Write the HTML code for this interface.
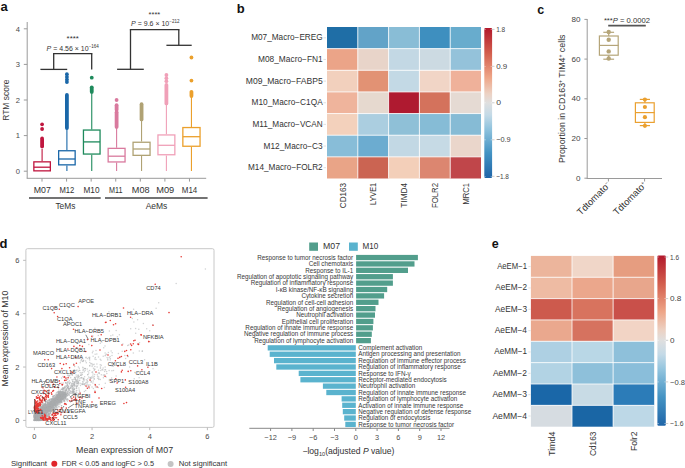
<!DOCTYPE html>
<html><head><meta charset="utf-8"><style>
html,body{margin:0;padding:0;background:#fff;width:685px;height:468px;overflow:hidden}
svg{display:block;font-family:"Liberation Sans", sans-serif}
</style></head><body>
<svg width="685" height="468" viewBox="0 0 685 468">
<text x="0.60" y="10.50" font-size="13" text-anchor="start" fill="#111" font-weight="bold" >a</text>
<text x="236.80" y="13.40" font-size="13" text-anchor="start" fill="#111" font-weight="bold" >b</text>
<text x="537.20" y="14.20" font-size="12.5" text-anchor="start" fill="#111" font-weight="bold" >c</text>
<text x="-0.60" y="247.70" font-size="13" text-anchor="start" fill="#111" font-weight="bold" >d</text>
<text x="491.80" y="248.10" font-size="12.5" text-anchor="start" fill="#111" font-weight="bold" >e</text>
<line x1="27.20" y1="22.00" x2="27.20" y2="178.30" stroke="#9a9a9a" stroke-width="1" />
<line x1="26.70" y1="178.30" x2="206.20" y2="178.30" stroke="#9a9a9a" stroke-width="1" />
<line x1="23.80" y1="171.20" x2="27.20" y2="171.20" stroke="#9a9a9a" stroke-width="1" />
<text x="19.90" y="173.90" font-size="7.6" text-anchor="end" fill="#4a4a4a" font-weight="normal" >0</text>
<line x1="23.80" y1="135.60" x2="27.20" y2="135.60" stroke="#9a9a9a" stroke-width="1" />
<text x="19.90" y="138.30" font-size="7.6" text-anchor="end" fill="#4a4a4a" font-weight="normal" >1</text>
<line x1="23.80" y1="100.00" x2="27.20" y2="100.00" stroke="#9a9a9a" stroke-width="1" />
<text x="19.90" y="102.70" font-size="7.6" text-anchor="end" fill="#4a4a4a" font-weight="normal" >2</text>
<line x1="23.80" y1="64.40" x2="27.20" y2="64.40" stroke="#9a9a9a" stroke-width="1" />
<text x="19.90" y="67.10" font-size="7.6" text-anchor="end" fill="#4a4a4a" font-weight="normal" >3</text>
<line x1="23.80" y1="28.80" x2="27.20" y2="28.80" stroke="#9a9a9a" stroke-width="1" />
<text x="19.90" y="31.50" font-size="7.6" text-anchor="end" fill="#4a4a4a" font-weight="normal" >4</text>
<text transform="translate(8.9,100.2) rotate(-90)" font-size="8.5" text-anchor="middle" fill="#3a3a3a" textLength="41.3" lengthAdjust="spacingAndGlyphs">RTM score</text>
<line x1="42.00" y1="178.30" x2="42.00" y2="181.60" stroke="#9a9a9a" stroke-width="1" />
<text x="42.35" y="193.00" font-size="9.2" text-anchor="middle" fill="#333" font-weight="normal" textLength="17.1" lengthAdjust="spacingAndGlyphs" >M07</text>
<line x1="66.58" y1="178.30" x2="66.58" y2="181.60" stroke="#9a9a9a" stroke-width="1" />
<text x="66.85" y="193.00" font-size="9.2" text-anchor="middle" fill="#333" font-weight="normal" textLength="14.9" lengthAdjust="spacingAndGlyphs" >M12</text>
<line x1="91.16" y1="178.30" x2="91.16" y2="181.60" stroke="#9a9a9a" stroke-width="1" />
<text x="91.50" y="193.00" font-size="9.2" text-anchor="middle" fill="#333" font-weight="normal" textLength="16.0" lengthAdjust="spacingAndGlyphs" >M10</text>
<line x1="115.74" y1="178.30" x2="115.74" y2="181.60" stroke="#9a9a9a" stroke-width="1" />
<text x="115.70" y="193.00" font-size="9.2" text-anchor="middle" fill="#333" font-weight="normal" textLength="13.5" lengthAdjust="spacingAndGlyphs" >M11</text>
<line x1="140.32" y1="178.30" x2="140.32" y2="181.60" stroke="#9a9a9a" stroke-width="1" />
<text x="140.65" y="193.00" font-size="9.2" text-anchor="middle" fill="#333" font-weight="normal" textLength="17.7" lengthAdjust="spacingAndGlyphs" >M08</text>
<line x1="164.90" y1="178.30" x2="164.90" y2="181.60" stroke="#9a9a9a" stroke-width="1" />
<text x="165.20" y="193.00" font-size="9.2" text-anchor="middle" fill="#333" font-weight="normal" textLength="18.0" lengthAdjust="spacingAndGlyphs" >M09</text>
<line x1="189.48" y1="178.30" x2="189.48" y2="181.60" stroke="#9a9a9a" stroke-width="1" />
<text x="189.55" y="193.00" font-size="9.2" text-anchor="middle" fill="#333" font-weight="normal" textLength="15.4" lengthAdjust="spacingAndGlyphs" >M14</text>
<line x1="29.00" y1="198.00" x2="100.70" y2="198.00" stroke="#444" stroke-width="1.6" />
<line x1="105.00" y1="198.00" x2="207.60" y2="198.00" stroke="#444" stroke-width="1.6" />
<text x="65.40" y="209.10" font-size="9.4" text-anchor="middle" fill="#333" font-weight="normal" textLength="20.0" lengthAdjust="spacingAndGlyphs" >TeMs</text>
<text x="156.50" y="209.10" font-size="9.4" text-anchor="middle" fill="#333" font-weight="normal" textLength="21.7" lengthAdjust="spacingAndGlyphs" >AeMs</text>
<line x1="42.10" y1="148.70" x2="42.10" y2="161.20" stroke="#c0163f" stroke-width="1.1" />
<rect x="33.85" y="161.85" width="16.50" height="9.00" fill="#fff" stroke="#c0163f" stroke-width="1.3"/>
<line x1="33.85" y1="167.20" x2="50.35" y2="167.20" stroke="#c0163f" stroke-width="1.3" />
<circle cx="42.10" cy="124.30" r="1.9" fill="#c0163f" />
<circle cx="42.10" cy="129.00" r="1.9" fill="#c0163f" />
<line x1="42.10" y1="138.40" x2="42.10" y2="146.40" stroke="#c0163f" stroke-width="3.8" stroke-linecap="round"/>
<line x1="66.90" y1="128.00" x2="66.90" y2="150.10" stroke="#1a67a8" stroke-width="1.1" />
<line x1="66.90" y1="165.50" x2="66.90" y2="171.00" stroke="#1a67a8" stroke-width="1.1" />
<rect x="58.65" y="150.75" width="16.50" height="14.10" fill="#fff" stroke="#1a67a8" stroke-width="1.3"/>
<line x1="58.65" y1="159.00" x2="75.15" y2="159.00" stroke="#1a67a8" stroke-width="1.3" />
<circle cx="66.90" cy="74.20" r="1.9" fill="#1a67a8" />
<circle cx="66.90" cy="76.90" r="1.9" fill="#1a67a8" />
<circle cx="66.90" cy="79.60" r="1.9" fill="#1a67a8" />
<circle cx="66.90" cy="82.00" r="1.9" fill="#1a67a8" />
<line x1="66.90" y1="95.00" x2="66.90" y2="128.00" stroke="#1a67a8" stroke-width="3.8" stroke-linecap="round"/>
<line x1="91.75" y1="91.90" x2="91.75" y2="129.40" stroke="#1e8a5c" stroke-width="1.1" />
<line x1="91.75" y1="154.70" x2="91.75" y2="171.00" stroke="#1e8a5c" stroke-width="1.1" />
<rect x="83.45" y="130.05" width="16.60" height="24.00" fill="#fff" stroke="#1e8a5c" stroke-width="1.3"/>
<line x1="83.45" y1="141.90" x2="100.05" y2="141.90" stroke="#1e8a5c" stroke-width="1.3" />
<circle cx="91.75" cy="77.70" r="1.9" fill="#1e8a5c" />
<line x1="91.75" y1="87.30" x2="91.75" y2="91.90" stroke="#1e8a5c" stroke-width="3.8" stroke-linecap="round"/>
<line x1="116.60" y1="126.90" x2="116.60" y2="147.70" stroke="#d97a9e" stroke-width="1.1" />
<line x1="116.60" y1="162.60" x2="116.60" y2="171.00" stroke="#d97a9e" stroke-width="1.1" />
<rect x="108.15" y="148.35" width="16.90" height="13.60" fill="#fff" stroke="#d97a9e" stroke-width="1.3"/>
<line x1="108.15" y1="156.20" x2="125.05" y2="156.20" stroke="#d97a9e" stroke-width="1.3" />
<circle cx="116.60" cy="100.00" r="1.9" fill="#d97a9e" />
<line x1="116.60" y1="105.20" x2="116.60" y2="109.80" stroke="#d97a9e" stroke-width="3.8" stroke-linecap="round"/>
<line x1="116.60" y1="112.20" x2="116.60" y2="126.90" stroke="#d97a9e" stroke-width="3.8" stroke-linecap="round"/>
<line x1="141.55" y1="119.40" x2="141.55" y2="141.60" stroke="#b0a274" stroke-width="1.1" />
<line x1="141.55" y1="156.00" x2="141.55" y2="171.00" stroke="#b0a274" stroke-width="1.1" />
<rect x="133.05" y="142.25" width="17.00" height="13.10" fill="#fff" stroke="#b0a274" stroke-width="1.3"/>
<line x1="133.05" y1="149.00" x2="150.05" y2="149.00" stroke="#b0a274" stroke-width="1.3" />
<line x1="141.55" y1="104.20" x2="141.55" y2="119.40" stroke="#b0a274" stroke-width="3.8" stroke-linecap="round"/>
<line x1="166.40" y1="103.40" x2="166.40" y2="134.30" stroke="#f0a0b8" stroke-width="1.1" />
<line x1="166.40" y1="155.40" x2="166.40" y2="171.00" stroke="#f0a0b8" stroke-width="1.1" />
<rect x="157.95" y="134.95" width="16.90" height="19.80" fill="#fff" stroke="#f0a0b8" stroke-width="1.3"/>
<line x1="157.95" y1="145.30" x2="174.85" y2="145.30" stroke="#f0a0b8" stroke-width="1.3" />
<circle cx="166.40" cy="75.00" r="1.9" fill="#f0a0b8" />
<circle cx="166.40" cy="78.20" r="1.9" fill="#f0a0b8" />
<circle cx="166.40" cy="81.20" r="1.9" fill="#f0a0b8" />
<line x1="166.40" y1="85.00" x2="166.40" y2="103.40" stroke="#f0a0b8" stroke-width="3.8" stroke-linecap="round"/>
<line x1="191.45" y1="96.00" x2="191.45" y2="126.90" stroke="#eba02c" stroke-width="1.1" />
<line x1="191.45" y1="146.90" x2="191.45" y2="171.00" stroke="#eba02c" stroke-width="1.1" />
<rect x="182.85" y="127.55" width="17.20" height="18.70" fill="#fff" stroke="#eba02c" stroke-width="1.3"/>
<line x1="182.85" y1="136.70" x2="200.05" y2="136.70" stroke="#eba02c" stroke-width="1.3" />
<circle cx="191.45" cy="57.50" r="1.9" fill="#eba02c" />
<circle cx="191.45" cy="80.60" r="1.9" fill="#eba02c" />
<line x1="191.45" y1="91.80" x2="191.45" y2="96.00" stroke="#eba02c" stroke-width="3.8" stroke-linecap="round"/>
<line x1="40.40" y1="69.40" x2="67.20" y2="69.40" stroke="#333" stroke-width="1.3" />
<line x1="53.70" y1="53.60" x2="53.70" y2="69.40" stroke="#333" stroke-width="1.3" />
<line x1="91.70" y1="53.60" x2="91.70" y2="69.40" stroke="#333" stroke-width="1.3" />
<line x1="53.05" y1="53.60" x2="92.35" y2="53.60" stroke="#333" stroke-width="1.3" />
<text x="72.70" y="41.40" font-size="7.6" text-anchor="middle" fill="#333" font-weight="normal" textLength="12.2" lengthAdjust="spacingAndGlyphs" >****</text>
<text x="46.6" y="50.5" font-size="7" fill="#333"><tspan font-style="italic">P</tspan> = 4.56 × 10<tspan font-size="4.5" dy="-3">−164</tspan></text>
<line x1="117.10" y1="69.30" x2="143.80" y2="69.30" stroke="#333" stroke-width="1.3" />
<line x1="130.50" y1="29.60" x2="130.50" y2="69.30" stroke="#333" stroke-width="1.3" />
<line x1="178.80" y1="29.60" x2="178.80" y2="45.30" stroke="#333" stroke-width="1.3" />
<line x1="129.85" y1="29.60" x2="179.45" y2="29.60" stroke="#333" stroke-width="1.3" />
<line x1="166.40" y1="45.30" x2="191.70" y2="45.30" stroke="#333" stroke-width="1.3" />
<text x="154.40" y="16.90" font-size="7.6" text-anchor="middle" fill="#333" font-weight="normal" textLength="11.6" lengthAdjust="spacingAndGlyphs" >****</text>
<text x="131.1" y="25.7" font-size="7" fill="#333"><tspan font-style="italic">P</tspan> = 9.6 × 10<tspan font-size="4.5" dy="-3">−212</tspan></text>
<rect x="327.00" y="27.00" width="30.80" height="21.64" fill="#1f6ea6" />
<rect x="357.80" y="27.00" width="30.80" height="21.64" fill="#62a3c8" />
<rect x="388.60" y="27.00" width="30.80" height="21.64" fill="#89bdd6" />
<rect x="419.40" y="27.00" width="30.80" height="21.64" fill="#3e8fbf" />
<rect x="450.20" y="27.00" width="30.80" height="21.64" fill="#68accd" />
<rect x="327.00" y="48.64" width="30.80" height="21.64" fill="#eba488" />
<rect x="357.80" y="48.64" width="30.80" height="21.64" fill="#e8d4c9" />
<rect x="388.60" y="48.64" width="30.80" height="21.64" fill="#c3d8e4" />
<rect x="419.40" y="48.64" width="30.80" height="21.64" fill="#ccdae2" />
<rect x="450.20" y="48.64" width="30.80" height="21.64" fill="#94c2da" />
<rect x="327.00" y="70.29" width="30.80" height="21.64" fill="#f2d0bd" />
<rect x="357.80" y="70.29" width="30.80" height="21.64" fill="#e29274" />
<rect x="388.60" y="70.29" width="30.80" height="21.64" fill="#c3d9e5" />
<rect x="419.40" y="70.29" width="30.80" height="21.64" fill="#f1d5c6" />
<rect x="450.20" y="70.29" width="30.80" height="21.64" fill="#efb19a" />
<rect x="327.00" y="91.93" width="30.80" height="21.64" fill="#efb49c" />
<rect x="357.80" y="91.93" width="30.80" height="21.64" fill="#e6d9cf" />
<rect x="388.60" y="91.93" width="30.80" height="21.64" fill="#af1a30" />
<rect x="419.40" y="91.93" width="30.80" height="21.64" fill="#d4725c" />
<rect x="450.20" y="91.93" width="30.80" height="21.64" fill="#e5dad3" />
<rect x="327.00" y="113.57" width="30.80" height="21.64" fill="#f3d1bc" />
<rect x="357.80" y="113.57" width="30.80" height="21.64" fill="#abcee0" />
<rect x="388.60" y="113.57" width="30.80" height="21.64" fill="#8fc0d7" />
<rect x="419.40" y="113.57" width="30.80" height="21.64" fill="#86bcd6" />
<rect x="450.20" y="113.57" width="30.80" height="21.64" fill="#86bbd5" />
<rect x="327.00" y="135.21" width="30.80" height="21.64" fill="#88bdd8" />
<rect x="357.80" y="135.21" width="30.80" height="21.64" fill="#6cacd0" />
<rect x="388.60" y="135.21" width="30.80" height="21.64" fill="#c2d8e4" />
<rect x="419.40" y="135.21" width="30.80" height="21.64" fill="#c6dae5" />
<rect x="450.20" y="135.21" width="30.80" height="21.64" fill="#ead6cb" />
<rect x="327.00" y="156.86" width="30.80" height="21.64" fill="#e9a487" />
<rect x="357.80" y="156.86" width="30.80" height="21.64" fill="#cb6452" />
<rect x="388.60" y="156.86" width="30.80" height="21.64" fill="#f3cfb9" />
<rect x="419.40" y="156.86" width="30.80" height="21.64" fill="#dc8670" />
<rect x="450.20" y="156.86" width="30.80" height="21.64" fill="#c0464a" />
<line x1="357.80" y1="27.00" x2="357.80" y2="178.50" stroke="#fff" stroke-width="0.8" />
<line x1="388.60" y1="27.00" x2="388.60" y2="178.50" stroke="#fff" stroke-width="0.8" />
<line x1="419.40" y1="27.00" x2="419.40" y2="178.50" stroke="#fff" stroke-width="0.8" />
<line x1="450.20" y1="27.00" x2="450.20" y2="178.50" stroke="#fff" stroke-width="0.8" />
<line x1="327.00" y1="48.64" x2="481.00" y2="48.64" stroke="#fff" stroke-width="0.8" />
<line x1="327.00" y1="70.29" x2="481.00" y2="70.29" stroke="#fff" stroke-width="0.8" />
<line x1="327.00" y1="91.93" x2="481.00" y2="91.93" stroke="#fff" stroke-width="0.8" />
<line x1="327.00" y1="113.57" x2="481.00" y2="113.57" stroke="#fff" stroke-width="0.8" />
<line x1="327.00" y1="135.21" x2="481.00" y2="135.21" stroke="#fff" stroke-width="0.8" />
<line x1="327.00" y1="156.86" x2="481.00" y2="156.86" stroke="#fff" stroke-width="0.8" />
<text x="322.70" y="40.32" font-size="8.3" text-anchor="end" fill="#333" font-weight="normal" textLength="71.5" lengthAdjust="spacingAndGlyphs" >M07_Macro−EREG</text>
<line x1="323.50" y1="37.82" x2="326.00" y2="37.82" stroke="#ccc" stroke-width="0.6" />
<text x="322.70" y="61.96" font-size="8.3" text-anchor="end" fill="#333" font-weight="normal" textLength="64.7" lengthAdjust="spacingAndGlyphs" >M08_Macro−FN1</text>
<line x1="323.50" y1="59.46" x2="326.00" y2="59.46" stroke="#ccc" stroke-width="0.6" />
<text x="322.70" y="83.61" font-size="8.3" text-anchor="end" fill="#333" font-weight="normal" textLength="76.9" lengthAdjust="spacingAndGlyphs" >M09_Macro−FABP5</text>
<line x1="323.50" y1="81.11" x2="326.00" y2="81.11" stroke="#ccc" stroke-width="0.6" />
<text x="322.70" y="105.25" font-size="8.3" text-anchor="end" fill="#333" font-weight="normal" textLength="71.2" lengthAdjust="spacingAndGlyphs" >M10_Macro−C1QA</text>
<line x1="323.50" y1="102.75" x2="326.00" y2="102.75" stroke="#ccc" stroke-width="0.6" />
<text x="322.70" y="126.89" font-size="8.3" text-anchor="end" fill="#333" font-weight="normal" textLength="70.3" lengthAdjust="spacingAndGlyphs" >M11_Macro−VCAN</text>
<line x1="323.50" y1="124.39" x2="326.00" y2="124.39" stroke="#ccc" stroke-width="0.6" />
<text x="322.70" y="148.54" font-size="8.3" text-anchor="end" fill="#333" font-weight="normal" textLength="59.1" lengthAdjust="spacingAndGlyphs" >M12_Macro−C3</text>
<line x1="323.50" y1="146.04" x2="326.00" y2="146.04" stroke="#ccc" stroke-width="0.6" />
<text x="322.70" y="170.18" font-size="8.3" text-anchor="end" fill="#333" font-weight="normal" textLength="74.7" lengthAdjust="spacingAndGlyphs" >M14_Macro−FOLR2</text>
<line x1="323.50" y1="167.68" x2="326.00" y2="167.68" stroke="#ccc" stroke-width="0.6" />
<text transform="translate(345.60,182.9) rotate(-90)" font-size="9.4" text-anchor="end" fill="#333" textLength="25.3" lengthAdjust="spacingAndGlyphs">CD163</text>
<text transform="translate(376.40,182.9) rotate(-90)" font-size="9.4" text-anchor="end" fill="#333" textLength="22.2" lengthAdjust="spacingAndGlyphs">LYVE1</text>
<text transform="translate(407.20,182.9) rotate(-90)" font-size="9.4" text-anchor="end" fill="#333" textLength="24.8" lengthAdjust="spacingAndGlyphs">TIMD4</text>
<text transform="translate(438.00,182.9) rotate(-90)" font-size="9.4" text-anchor="end" fill="#333" textLength="25.2" lengthAdjust="spacingAndGlyphs">FOLR2</text>
<text transform="translate(468.80,182.9) rotate(-90)" font-size="9.4" text-anchor="end" fill="#333" textLength="21.6" lengthAdjust="spacingAndGlyphs">MRC1</text>
<defs>
<linearGradient id="rdbu" x1="0" y1="0" x2="0" y2="1">
<stop offset="0" stop-color="#b2182b"/>
<stop offset="0.17" stop-color="#d35f4e"/>
<stop offset="0.33" stop-color="#eea587"/>
<stop offset="0.44" stop-color="#ecd2c4"/>
<stop offset="0.5" stop-color="#dfdfdf"/>
<stop offset="0.58" stop-color="#c4dae7"/>
<stop offset="0.67" stop-color="#92c4de"/>
<stop offset="0.83" stop-color="#4594c4"/>
<stop offset="1" stop-color="#1f65a8"/>
</linearGradient>
</defs>
<rect x="484.3" y="27.9" width="7.8" height="150.0" rx="1.2" fill="url(#rdbu)"/>
<line x1="492.10" y1="29.40" x2="494.50" y2="29.40" stroke="#aaa" stroke-width="0.6" />
<line x1="484.30" y1="29.40" x2="485.80" y2="29.40" stroke="#fff" stroke-width="0.6" opacity="0.7"/>
<line x1="490.60" y1="29.40" x2="492.10" y2="29.40" stroke="#fff" stroke-width="0.6" opacity="0.7"/>
<text x="496.20" y="32.00" font-size="7.4" text-anchor="start" fill="#444" font-weight="normal" textLength="9.0" lengthAdjust="spacingAndGlyphs" >1.8</text>
<line x1="492.10" y1="66.30" x2="494.50" y2="66.30" stroke="#aaa" stroke-width="0.6" />
<line x1="484.30" y1="66.30" x2="485.80" y2="66.30" stroke="#fff" stroke-width="0.6" opacity="0.7"/>
<line x1="490.60" y1="66.30" x2="492.10" y2="66.30" stroke="#fff" stroke-width="0.6" opacity="0.7"/>
<text x="496.20" y="68.90" font-size="7.4" text-anchor="start" fill="#444" font-weight="normal" textLength="11.1" lengthAdjust="spacingAndGlyphs" >0.9</text>
<line x1="492.10" y1="102.80" x2="494.50" y2="102.80" stroke="#aaa" stroke-width="0.6" />
<line x1="484.30" y1="102.80" x2="485.80" y2="102.80" stroke="#fff" stroke-width="0.6" opacity="0.7"/>
<line x1="490.60" y1="102.80" x2="492.10" y2="102.80" stroke="#fff" stroke-width="0.6" opacity="0.7"/>
<text x="496.20" y="105.40" font-size="7.4" text-anchor="start" fill="#444" font-weight="normal" textLength="4.8" lengthAdjust="spacingAndGlyphs" >0</text>
<line x1="492.10" y1="139.80" x2="494.50" y2="139.80" stroke="#aaa" stroke-width="0.6" />
<line x1="484.30" y1="139.80" x2="485.80" y2="139.80" stroke="#fff" stroke-width="0.6" opacity="0.7"/>
<line x1="490.60" y1="139.80" x2="492.10" y2="139.80" stroke="#fff" stroke-width="0.6" opacity="0.7"/>
<text x="496.20" y="142.40" font-size="7.4" text-anchor="start" fill="#444" font-weight="normal" textLength="14.5" lengthAdjust="spacingAndGlyphs" >−0.9</text>
<line x1="492.10" y1="176.30" x2="494.50" y2="176.30" stroke="#aaa" stroke-width="0.6" />
<line x1="484.30" y1="176.30" x2="485.80" y2="176.30" stroke="#fff" stroke-width="0.6" opacity="0.7"/>
<line x1="490.60" y1="176.30" x2="492.10" y2="176.30" stroke="#fff" stroke-width="0.6" opacity="0.7"/>
<text x="496.20" y="178.90" font-size="7.4" text-anchor="start" fill="#444" font-weight="normal" textLength="12.7" lengthAdjust="spacingAndGlyphs" >−1.8</text>
<line x1="587.20" y1="19.00" x2="587.20" y2="178.50" stroke="#9a9a9a" stroke-width="1" />
<line x1="586.70" y1="178.50" x2="662.00" y2="178.50" stroke="#9a9a9a" stroke-width="1" />
<line x1="584.40" y1="178.20" x2="587.20" y2="178.20" stroke="#9a9a9a" stroke-width="1" />
<text x="580.40" y="180.70" font-size="7.0" text-anchor="end" fill="#444" font-weight="normal" textLength="4.5" lengthAdjust="spacingAndGlyphs" >0</text>
<line x1="584.40" y1="138.50" x2="587.20" y2="138.50" stroke="#9a9a9a" stroke-width="1" />
<text x="580.40" y="141.00" font-size="7.0" text-anchor="end" fill="#444" font-weight="normal" textLength="9.0" lengthAdjust="spacingAndGlyphs" >20</text>
<line x1="584.40" y1="98.80" x2="587.20" y2="98.80" stroke="#9a9a9a" stroke-width="1" />
<text x="580.40" y="101.30" font-size="7.0" text-anchor="end" fill="#444" font-weight="normal" textLength="9.0" lengthAdjust="spacingAndGlyphs" >40</text>
<line x1="584.40" y1="59.10" x2="587.20" y2="59.10" stroke="#9a9a9a" stroke-width="1" />
<text x="580.40" y="61.60" font-size="7.0" text-anchor="end" fill="#444" font-weight="normal" textLength="9.0" lengthAdjust="spacingAndGlyphs" >60</text>
<line x1="584.40" y1="19.40" x2="587.20" y2="19.40" stroke="#9a9a9a" stroke-width="1" />
<text x="580.40" y="21.90" font-size="7.0" text-anchor="end" fill="#444" font-weight="normal" textLength="9.0" lengthAdjust="spacingAndGlyphs" >80</text>
<line x1="608.40" y1="178.50" x2="608.40" y2="181.50" stroke="#9a9a9a" stroke-width="1" />
<line x1="644.60" y1="178.50" x2="644.60" y2="181.50" stroke="#9a9a9a" stroke-width="1" />
<text transform="translate(565.2,98.7) rotate(-90)" font-size="8.4" text-anchor="middle" fill="#333" textLength="128.5" lengthAdjust="spacingAndGlyphs">Proportion in CD163<tspan font-size="4.8" dy="-2.8">+</tspan><tspan dy="2.8"> TIM4</tspan><tspan font-size="4.8" dy="-2.8">+</tspan><tspan dy="2.8"> cells</tspan></text>
<text transform="translate(611.0,185.6) rotate(-45)" font-size="9.4" text-anchor="end" fill="#333">Tdtomato<tspan font-size="5.2" dy="-3.2">−</tspan></text>
<text transform="translate(647.2,185.6) rotate(-45)" font-size="9.4" text-anchor="end" fill="#333">Tdtomato<tspan font-size="5.2" dy="-3.2">+</tspan></text>
<rect x="599.4" y="36.0" width="18.8" height="19.2" fill="none" stroke="#b5a579" stroke-width="1.2"/>
<line x1="599.00" y1="45.40" x2="618.60" y2="45.40" stroke="#b5a579" stroke-width="1.2" />
<line x1="608.70" y1="32.30" x2="608.70" y2="36.00" stroke="#b5a579" stroke-width="1.2" />
<line x1="608.70" y1="55.20" x2="608.70" y2="59.20" stroke="#b5a579" stroke-width="1.2" />
<line x1="603.30" y1="32.30" x2="614.10" y2="32.30" stroke="#b5a579" stroke-width="1.2" />
<line x1="603.30" y1="59.20" x2="614.10" y2="59.20" stroke="#b5a579" stroke-width="1.2" />
<circle cx="608.70" cy="32.00" r="2.2" fill="#b5a579" />
<circle cx="608.70" cy="39.70" r="2.2" fill="#b5a579" />
<circle cx="608.70" cy="51.40" r="2.2" fill="#b5a579" />
<circle cx="608.70" cy="58.50" r="2.2" fill="#b5a579" />
<rect x="635.4" y="102.8" width="18.8" height="19.6" fill="none" stroke="#eaa030" stroke-width="1.2"/>
<line x1="635.00" y1="112.60" x2="654.60" y2="112.60" stroke="#eaa030" stroke-width="1.2" />
<line x1="644.90" y1="99.40" x2="644.90" y2="102.80" stroke="#eaa030" stroke-width="1.2" />
<line x1="644.90" y1="122.40" x2="644.90" y2="125.60" stroke="#eaa030" stroke-width="1.2" />
<line x1="639.80" y1="99.40" x2="650.00" y2="99.40" stroke="#eaa030" stroke-width="1.2" />
<line x1="639.80" y1="125.60" x2="650.00" y2="125.60" stroke="#eaa030" stroke-width="1.2" />
<circle cx="644.90" cy="99.60" r="2.1" fill="#eaa030" />
<circle cx="644.90" cy="107.00" r="2.1" fill="#eaa030" />
<circle cx="644.90" cy="117.20" r="2.1" fill="#eaa030" />
<circle cx="644.90" cy="125.80" r="2.1" fill="#eaa030" />
<line x1="608.20" y1="25.60" x2="645.80" y2="25.60" stroke="#555" stroke-width="1.8" />
<text x="603.9" y="22.8" font-size="7.4" fill="#333" textLength="46" lengthAdjust="spacingAndGlyphs">***<tspan font-style="italic">P</tspan> = 0.0002</text>
<rect x="25.9" y="248.7" width="188.1" height="178.7" fill="none" stroke="#c8c8c8" stroke-width="1" rx="1.5"/>
<line x1="34.40" y1="427.40" x2="34.40" y2="430.20" stroke="#bbb" stroke-width="1" />
<text x="34.40" y="439.20" font-size="7.5" text-anchor="middle" fill="#4a4a4a" font-weight="normal" >0</text>
<line x1="23.10" y1="420.40" x2="25.90" y2="420.40" stroke="#bbb" stroke-width="1" />
<text x="19.30" y="423.10" font-size="7.5" text-anchor="end" fill="#4a4a4a" font-weight="normal" >0</text>
<line x1="92.06" y1="427.40" x2="92.06" y2="430.20" stroke="#bbb" stroke-width="1" />
<text x="92.06" y="439.20" font-size="7.5" text-anchor="middle" fill="#4a4a4a" font-weight="normal" >2</text>
<line x1="23.10" y1="367.04" x2="25.90" y2="367.04" stroke="#bbb" stroke-width="1" />
<text x="19.30" y="369.74" font-size="7.5" text-anchor="end" fill="#4a4a4a" font-weight="normal" >2</text>
<line x1="149.72" y1="427.40" x2="149.72" y2="430.20" stroke="#bbb" stroke-width="1" />
<text x="149.72" y="439.20" font-size="7.5" text-anchor="middle" fill="#4a4a4a" font-weight="normal" >4</text>
<line x1="23.10" y1="313.68" x2="25.90" y2="313.68" stroke="#bbb" stroke-width="1" />
<text x="19.30" y="316.38" font-size="7.5" text-anchor="end" fill="#4a4a4a" font-weight="normal" >4</text>
<line x1="207.38" y1="427.40" x2="207.38" y2="430.20" stroke="#bbb" stroke-width="1" />
<text x="207.38" y="439.20" font-size="7.5" text-anchor="middle" fill="#4a4a4a" font-weight="normal" >6</text>
<line x1="23.10" y1="260.32" x2="25.90" y2="260.32" stroke="#bbb" stroke-width="1" />
<text x="19.30" y="263.02" font-size="7.5" text-anchor="end" fill="#4a4a4a" font-weight="normal" >6</text>
<text transform="translate(8.1,338.6) rotate(-90)" font-size="8.6" text-anchor="middle" fill="#333" textLength="95.7" lengthAdjust="spacingAndGlyphs">Mean expression of M10</text>
<text x="124.60" y="452.70" font-size="8.6" text-anchor="middle" fill="#333" font-weight="normal" textLength="97" lengthAdjust="spacingAndGlyphs" >Mean expression of M07</text>
<text x="10.90" y="466.00" font-size="7.7" text-anchor="start" fill="#333" font-weight="normal" textLength="36.1" lengthAdjust="spacingAndGlyphs" >Significant</text>
<circle cx="54.30" cy="463.70" r="3.0" fill="#e0252b" />
<text x="61.70" y="466.00" font-size="7.7" text-anchor="start" fill="#333" font-weight="normal" textLength="92.3" lengthAdjust="spacingAndGlyphs" >FDR &lt; 0.05 and logFC &gt; 0.5</text>
<circle cx="170.60" cy="464.10" r="3.0" fill="#c4c4c4" />
<text x="178.70" y="466.00" font-size="7.7" text-anchor="start" fill="#333" font-weight="normal" textLength="48.4" lengthAdjust="spacingAndGlyphs" >Not significant</text>
<g fill="#acadae" fill-opacity="0.55"><circle cx="37.4" cy="417.9" r="0.75"/><circle cx="40.5" cy="409.1" r="0.75"/><circle cx="44.0" cy="409.4" r="0.75"/><circle cx="57.3" cy="398.3" r="0.75"/><circle cx="62.9" cy="397.9" r="0.75"/><circle cx="58.5" cy="397.3" r="0.75"/><circle cx="40.3" cy="417.9" r="0.75"/><circle cx="49.8" cy="408.6" r="0.75"/><circle cx="34.5" cy="416.5" r="0.75"/><circle cx="47.2" cy="410.8" r="0.75"/><circle cx="38.1" cy="414.0" r="0.75"/><circle cx="53.0" cy="411.4" r="0.75"/><circle cx="39.2" cy="412.8" r="0.75"/><circle cx="55.1" cy="399.6" r="0.75"/><circle cx="50.4" cy="405.2" r="0.75"/><circle cx="67.3" cy="393.4" r="0.75"/><circle cx="40.1" cy="408.8" r="0.75"/><circle cx="49.9" cy="401.0" r="0.75"/><circle cx="62.0" cy="394.5" r="0.75"/><circle cx="50.2" cy="401.9" r="0.75"/><circle cx="34.7" cy="412.5" r="0.75"/><circle cx="45.2" cy="418.0" r="0.75"/><circle cx="49.1" cy="415.3" r="0.75"/><circle cx="107.8" cy="360.0" r="0.75"/><circle cx="58.6" cy="397.2" r="0.75"/><circle cx="40.1" cy="413.9" r="0.75"/><circle cx="37.2" cy="411.9" r="0.75"/><circle cx="45.2" cy="404.3" r="0.75"/><circle cx="50.5" cy="406.2" r="0.75"/><circle cx="83.4" cy="360.8" r="0.75"/><circle cx="42.0" cy="407.9" r="0.75"/><circle cx="35.6" cy="417.5" r="0.75"/><circle cx="34.5" cy="417.0" r="0.75"/><circle cx="38.1" cy="407.0" r="0.75"/><circle cx="38.2" cy="416.2" r="0.75"/><circle cx="35.3" cy="414.7" r="0.75"/><circle cx="45.6" cy="408.1" r="0.75"/><circle cx="38.6" cy="414.3" r="0.75"/><circle cx="62.9" cy="396.9" r="0.75"/><circle cx="42.1" cy="419.3" r="0.75"/><circle cx="87.9" cy="374.6" r="0.75"/><circle cx="58.2" cy="404.5" r="0.75"/><circle cx="34.6" cy="415.0" r="0.75"/><circle cx="89.8" cy="362.4" r="0.75"/><circle cx="47.9" cy="408.5" r="0.75"/><circle cx="42.4" cy="413.1" r="0.75"/><circle cx="61.6" cy="378.1" r="0.75"/><circle cx="69.8" cy="388.5" r="0.75"/><circle cx="40.8" cy="420.2" r="0.75"/><circle cx="76.1" cy="390.9" r="0.75"/><circle cx="48.0" cy="402.4" r="0.75"/><circle cx="72.9" cy="381.4" r="0.75"/><circle cx="54.8" cy="398.9" r="0.75"/><circle cx="61.3" cy="396.7" r="0.75"/><circle cx="34.8" cy="413.7" r="0.75"/><circle cx="55.0" cy="397.4" r="0.75"/><circle cx="48.2" cy="407.1" r="0.75"/><circle cx="94.9" cy="390.5" r="0.75"/><circle cx="58.0" cy="398.3" r="0.75"/><circle cx="42.1" cy="412.5" r="0.75"/><circle cx="42.6" cy="405.9" r="0.75"/><circle cx="48.6" cy="415.2" r="0.75"/><circle cx="62.7" cy="398.8" r="0.75"/><circle cx="36.6" cy="420.4" r="0.75"/><circle cx="56.9" cy="398.6" r="0.75"/><circle cx="51.0" cy="407.5" r="0.75"/><circle cx="55.3" cy="398.4" r="0.75"/><circle cx="38.5" cy="414.9" r="0.75"/><circle cx="53.0" cy="400.5" r="0.75"/><circle cx="50.2" cy="412.2" r="0.75"/><circle cx="53.3" cy="412.8" r="0.75"/><circle cx="57.9" cy="397.2" r="0.75"/><circle cx="60.7" cy="396.0" r="0.75"/><circle cx="43.8" cy="408.4" r="0.75"/><circle cx="48.9" cy="405.2" r="0.75"/><circle cx="53.8" cy="403.8" r="0.75"/><circle cx="133.9" cy="322.1" r="0.75"/><circle cx="42.0" cy="405.0" r="0.75"/><circle cx="46.7" cy="412.8" r="0.75"/><circle cx="41.3" cy="413.6" r="0.75"/><circle cx="43.0" cy="408.2" r="0.75"/><circle cx="42.6" cy="401.5" r="0.75"/><circle cx="132.3" cy="318.6" r="0.75"/><circle cx="56.6" cy="400.7" r="0.75"/><circle cx="59.3" cy="397.2" r="0.75"/><circle cx="62.3" cy="399.6" r="0.75"/><circle cx="35.3" cy="420.4" r="0.75"/><circle cx="62.0" cy="399.4" r="0.75"/><circle cx="56.7" cy="395.1" r="0.75"/><circle cx="46.5" cy="419.0" r="0.75"/><circle cx="38.6" cy="419.6" r="0.75"/><circle cx="35.9" cy="414.8" r="0.75"/><circle cx="40.0" cy="414.3" r="0.75"/><circle cx="38.3" cy="416.6" r="0.75"/><circle cx="34.5" cy="420.3" r="0.75"/><circle cx="44.8" cy="408.6" r="0.75"/><circle cx="78.5" cy="393.8" r="0.75"/><circle cx="46.3" cy="413.4" r="0.75"/><circle cx="56.8" cy="401.3" r="0.75"/><circle cx="41.2" cy="411.2" r="0.75"/><circle cx="55.3" cy="401.6" r="0.75"/><circle cx="55.2" cy="398.5" r="0.75"/><circle cx="41.4" cy="414.9" r="0.75"/><circle cx="48.5" cy="408.4" r="0.75"/><circle cx="79.8" cy="380.2" r="0.75"/><circle cx="40.1" cy="410.0" r="0.75"/><circle cx="47.4" cy="406.9" r="0.75"/><circle cx="38.4" cy="411.9" r="0.75"/><circle cx="36.2" cy="419.2" r="0.75"/><circle cx="46.0" cy="409.3" r="0.75"/><circle cx="61.1" cy="398.5" r="0.75"/><circle cx="61.4" cy="397.0" r="0.75"/><circle cx="55.1" cy="398.4" r="0.75"/><circle cx="56.9" cy="397.9" r="0.75"/><circle cx="54.8" cy="399.9" r="0.75"/><circle cx="59.2" cy="399.8" r="0.75"/><circle cx="34.5" cy="416.5" r="0.75"/><circle cx="59.4" cy="401.9" r="0.75"/><circle cx="52.7" cy="404.0" r="0.75"/><circle cx="98.9" cy="379.6" r="0.75"/><circle cx="34.7" cy="419.4" r="0.75"/><circle cx="39.5" cy="415.4" r="0.75"/><circle cx="64.8" cy="396.9" r="0.75"/><circle cx="50.8" cy="404.7" r="0.75"/><circle cx="35.0" cy="416.4" r="0.75"/><circle cx="41.3" cy="414.1" r="0.75"/><circle cx="40.4" cy="417.6" r="0.75"/><circle cx="43.4" cy="417.0" r="0.75"/><circle cx="34.5" cy="416.5" r="0.75"/><circle cx="109.4" cy="331.0" r="0.75"/><circle cx="149.7" cy="341.7" r="0.75"/><circle cx="62.7" cy="394.3" r="0.75"/><circle cx="46.2" cy="407.2" r="0.75"/><circle cx="69.4" cy="380.7" r="0.75"/><circle cx="60.4" cy="397.8" r="0.75"/><circle cx="48.6" cy="410.6" r="0.75"/><circle cx="46.1" cy="413.1" r="0.75"/><circle cx="54.0" cy="401.7" r="0.75"/><circle cx="83.0" cy="370.3" r="0.75"/><circle cx="40.3" cy="408.3" r="0.75"/><circle cx="45.1" cy="410.5" r="0.75"/><circle cx="61.3" cy="398.1" r="0.75"/><circle cx="41.6" cy="416.3" r="0.75"/><circle cx="58.4" cy="394.3" r="0.75"/><circle cx="58.3" cy="395.6" r="0.75"/><circle cx="34.4" cy="420.1" r="0.75"/><circle cx="83.5" cy="378.3" r="0.75"/><circle cx="63.8" cy="397.2" r="0.75"/><circle cx="53.0" cy="400.9" r="0.75"/><circle cx="42.9" cy="416.5" r="0.75"/><circle cx="38.3" cy="413.3" r="0.75"/><circle cx="35.2" cy="409.7" r="0.75"/><circle cx="36.9" cy="416.4" r="0.75"/><circle cx="36.6" cy="417.2" r="0.75"/><circle cx="58.5" cy="398.7" r="0.75"/><circle cx="49.7" cy="409.0" r="0.75"/><circle cx="38.9" cy="413.1" r="0.75"/><circle cx="49.4" cy="404.9" r="0.75"/><circle cx="42.6" cy="416.7" r="0.75"/><circle cx="101.0" cy="360.3" r="0.75"/><circle cx="51.1" cy="402.0" r="0.75"/><circle cx="41.3" cy="420.0" r="0.75"/><circle cx="96.8" cy="354.0" r="0.75"/><circle cx="41.1" cy="420.3" r="0.75"/><circle cx="93.2" cy="381.0" r="0.75"/><circle cx="45.2" cy="403.4" r="0.75"/><circle cx="60.9" cy="398.2" r="0.75"/><circle cx="41.0" cy="418.6" r="0.75"/><circle cx="39.0" cy="420.1" r="0.75"/><circle cx="39.1" cy="415.9" r="0.75"/><circle cx="41.9" cy="406.9" r="0.75"/><circle cx="74.4" cy="384.9" r="0.75"/><circle cx="87.7" cy="374.8" r="0.75"/><circle cx="54.1" cy="405.0" r="0.75"/><circle cx="61.3" cy="396.3" r="0.75"/><circle cx="44.3" cy="412.1" r="0.75"/><circle cx="94.3" cy="376.5" r="0.75"/><circle cx="65.9" cy="390.9" r="0.75"/><circle cx="59.2" cy="400.6" r="0.75"/><circle cx="38.7" cy="414.8" r="0.75"/><circle cx="61.8" cy="394.1" r="0.75"/><circle cx="62.8" cy="394.5" r="0.75"/><circle cx="38.1" cy="408.6" r="0.75"/><circle cx="61.6" cy="393.0" r="0.75"/><circle cx="61.2" cy="396.5" r="0.75"/><circle cx="45.4" cy="412.9" r="0.75"/><circle cx="36.0" cy="419.0" r="0.75"/><circle cx="60.6" cy="394.9" r="0.75"/><circle cx="55.5" cy="399.9" r="0.75"/><circle cx="51.4" cy="411.6" r="0.75"/><circle cx="42.1" cy="411.9" r="0.75"/><circle cx="56.7" cy="400.2" r="0.75"/><circle cx="34.6" cy="416.9" r="0.75"/><circle cx="61.5" cy="397.4" r="0.75"/><circle cx="83.5" cy="378.8" r="0.75"/><circle cx="36.0" cy="409.9" r="0.75"/><circle cx="80.9" cy="377.7" r="0.75"/><circle cx="39.8" cy="404.6" r="0.75"/><circle cx="43.0" cy="417.2" r="0.75"/><circle cx="60.7" cy="394.8" r="0.75"/><circle cx="97.3" cy="374.8" r="0.75"/><circle cx="42.0" cy="412.5" r="0.75"/><circle cx="55.4" cy="401.4" r="0.75"/><circle cx="54.0" cy="407.9" r="0.75"/><circle cx="46.1" cy="410.4" r="0.75"/><circle cx="45.6" cy="414.5" r="0.75"/><circle cx="58.2" cy="399.8" r="0.75"/><circle cx="68.7" cy="394.3" r="0.75"/><circle cx="39.1" cy="415.3" r="0.75"/><circle cx="60.3" cy="399.4" r="0.75"/><circle cx="64.9" cy="396.0" r="0.75"/><circle cx="80.8" cy="375.2" r="0.75"/><circle cx="53.2" cy="399.6" r="0.75"/><circle cx="40.0" cy="412.3" r="0.75"/><circle cx="74.6" cy="377.6" r="0.75"/><circle cx="75.0" cy="385.6" r="0.75"/><circle cx="62.5" cy="398.9" r="0.75"/><circle cx="42.4" cy="410.6" r="0.75"/><circle cx="50.1" cy="407.4" r="0.75"/><circle cx="41.7" cy="414.4" r="0.75"/><circle cx="36.1" cy="416.0" r="0.75"/><circle cx="39.8" cy="420.0" r="0.75"/><circle cx="35.1" cy="414.6" r="0.75"/><circle cx="45.4" cy="414.3" r="0.75"/><circle cx="51.2" cy="407.7" r="0.75"/><circle cx="34.7" cy="410.0" r="0.75"/><circle cx="61.5" cy="401.6" r="0.75"/><circle cx="34.4" cy="413.1" r="0.75"/><circle cx="59.6" cy="394.6" r="0.75"/><circle cx="46.5" cy="407.0" r="0.75"/><circle cx="60.5" cy="394.5" r="0.75"/><circle cx="135.6" cy="328.6" r="0.75"/><circle cx="149.7" cy="330.8" r="0.75"/><circle cx="65.7" cy="385.9" r="0.75"/><circle cx="61.8" cy="395.4" r="0.75"/><circle cx="57.1" cy="399.0" r="0.75"/><circle cx="46.0" cy="413.8" r="0.75"/><circle cx="38.0" cy="417.8" r="0.75"/><circle cx="48.4" cy="407.4" r="0.75"/><circle cx="62.7" cy="398.4" r="0.75"/><circle cx="44.8" cy="416.0" r="0.75"/><circle cx="54.2" cy="406.1" r="0.75"/><circle cx="52.1" cy="407.0" r="0.75"/><circle cx="98.3" cy="372.9" r="0.75"/><circle cx="35.0" cy="415.0" r="0.75"/><circle cx="45.6" cy="411.0" r="0.75"/><circle cx="34.4" cy="420.3" r="0.75"/><circle cx="38.0" cy="420.2" r="0.75"/><circle cx="55.6" cy="394.2" r="0.75"/><circle cx="58.6" cy="395.9" r="0.75"/><circle cx="60.9" cy="395.0" r="0.75"/><circle cx="110.9" cy="335.8" r="0.75"/><circle cx="61.1" cy="394.3" r="0.75"/><circle cx="66.5" cy="399.6" r="0.75"/><circle cx="42.2" cy="417.0" r="0.75"/><circle cx="36.8" cy="411.1" r="0.75"/><circle cx="60.5" cy="394.9" r="0.75"/><circle cx="48.2" cy="410.0" r="0.75"/><circle cx="84.4" cy="391.5" r="0.75"/><circle cx="64.1" cy="396.6" r="0.75"/><circle cx="62.7" cy="389.3" r="0.75"/><circle cx="56.7" cy="402.3" r="0.75"/><circle cx="34.6" cy="418.4" r="0.75"/><circle cx="64.8" cy="398.0" r="0.75"/><circle cx="34.6" cy="417.6" r="0.75"/><circle cx="49.5" cy="415.7" r="0.75"/><circle cx="39.1" cy="415.9" r="0.75"/><circle cx="41.3" cy="410.1" r="0.75"/><circle cx="50.2" cy="408.1" r="0.75"/><circle cx="44.5" cy="404.3" r="0.75"/><circle cx="34.8" cy="413.0" r="0.75"/><circle cx="99.2" cy="372.7" r="0.75"/><circle cx="52.7" cy="406.9" r="0.75"/><circle cx="40.8" cy="407.3" r="0.75"/><circle cx="59.0" cy="395.2" r="0.75"/><circle cx="35.7" cy="410.3" r="0.75"/><circle cx="47.0" cy="406.5" r="0.75"/><circle cx="53.0" cy="408.9" r="0.75"/><circle cx="64.8" cy="394.6" r="0.75"/><circle cx="57.5" cy="398.6" r="0.75"/><circle cx="57.0" cy="400.1" r="0.75"/><circle cx="45.7" cy="409.5" r="0.75"/><circle cx="39.0" cy="420.1" r="0.75"/><circle cx="57.7" cy="400.0" r="0.75"/><circle cx="42.8" cy="410.8" r="0.75"/><circle cx="49.8" cy="403.7" r="0.75"/><circle cx="60.2" cy="397.6" r="0.75"/><circle cx="60.8" cy="396.9" r="0.75"/><circle cx="70.2" cy="388.3" r="0.75"/><circle cx="52.9" cy="408.3" r="0.75"/><circle cx="56.9" cy="401.9" r="0.75"/><circle cx="55.0" cy="404.3" r="0.75"/><circle cx="48.0" cy="400.6" r="0.75"/><circle cx="34.9" cy="412.5" r="0.75"/><circle cx="36.2" cy="416.3" r="0.75"/><circle cx="50.3" cy="407.6" r="0.75"/><circle cx="53.7" cy="407.6" r="0.75"/><circle cx="92.8" cy="335.9" r="0.75"/><circle cx="119.4" cy="334.7" r="0.75"/><circle cx="35.1" cy="417.2" r="0.75"/><circle cx="57.7" cy="401.1" r="0.75"/><circle cx="35.1" cy="418.5" r="0.75"/><circle cx="42.8" cy="408.9" r="0.75"/><circle cx="55.6" cy="403.4" r="0.75"/><circle cx="70.5" cy="382.4" r="0.75"/><circle cx="48.7" cy="414.2" r="0.75"/><circle cx="54.5" cy="404.6" r="0.75"/><circle cx="60.1" cy="396.7" r="0.75"/><circle cx="34.6" cy="417.9" r="0.75"/><circle cx="50.6" cy="413.0" r="0.75"/><circle cx="50.8" cy="410.0" r="0.75"/><circle cx="62.8" cy="395.7" r="0.75"/><circle cx="45.3" cy="405.6" r="0.75"/><circle cx="55.3" cy="403.2" r="0.75"/><circle cx="45.2" cy="414.0" r="0.75"/><circle cx="60.5" cy="396.6" r="0.75"/><circle cx="36.6" cy="412.7" r="0.75"/><circle cx="60.7" cy="396.7" r="0.75"/><circle cx="53.4" cy="403.0" r="0.75"/><circle cx="40.8" cy="409.0" r="0.75"/><circle cx="54.8" cy="400.3" r="0.75"/><circle cx="76.2" cy="377.1" r="0.75"/><circle cx="65.4" cy="391.7" r="0.75"/><circle cx="58.2" cy="398.1" r="0.75"/><circle cx="43.0" cy="414.7" r="0.75"/><circle cx="34.5" cy="412.1" r="0.75"/><circle cx="61.7" cy="393.5" r="0.75"/><circle cx="95.0" cy="369.2" r="0.75"/><circle cx="50.6" cy="403.6" r="0.75"/><circle cx="40.2" cy="420.1" r="0.75"/><circle cx="47.5" cy="411.2" r="0.75"/><circle cx="53.9" cy="408.0" r="0.75"/><circle cx="76.1" cy="393.2" r="0.75"/><circle cx="37.7" cy="418.2" r="0.75"/><circle cx="79.9" cy="370.5" r="0.75"/><circle cx="48.1" cy="410.1" r="0.75"/><circle cx="41.8" cy="411.5" r="0.75"/><circle cx="42.8" cy="417.0" r="0.75"/><circle cx="44.1" cy="415.5" r="0.75"/><circle cx="50.2" cy="405.1" r="0.75"/><circle cx="60.9" cy="392.5" r="0.75"/><circle cx="53.6" cy="399.4" r="0.75"/><circle cx="51.9" cy="410.4" r="0.75"/><circle cx="48.8" cy="404.8" r="0.75"/><circle cx="63.0" cy="393.9" r="0.75"/><circle cx="54.1" cy="396.0" r="0.75"/><circle cx="36.8" cy="418.2" r="0.75"/><circle cx="48.4" cy="413.5" r="0.75"/><circle cx="41.2" cy="412.4" r="0.75"/><circle cx="76.8" cy="380.7" r="0.75"/><circle cx="36.9" cy="411.4" r="0.75"/><circle cx="88.9" cy="385.0" r="0.75"/><circle cx="65.4" cy="396.0" r="0.75"/><circle cx="104.6" cy="371.5" r="0.75"/><circle cx="34.4" cy="416.9" r="0.75"/><circle cx="68.0" cy="393.2" r="0.75"/><circle cx="34.5" cy="411.9" r="0.75"/><circle cx="41.7" cy="415.0" r="0.75"/><circle cx="51.2" cy="406.8" r="0.75"/><circle cx="88.8" cy="344.6" r="0.75"/><circle cx="87.3" cy="358.4" r="0.75"/><circle cx="35.4" cy="411.8" r="0.75"/><circle cx="38.8" cy="413.4" r="0.75"/><circle cx="56.9" cy="401.2" r="0.75"/><circle cx="89.6" cy="358.3" r="0.75"/><circle cx="55.6" cy="404.4" r="0.75"/><circle cx="98.5" cy="357.1" r="0.75"/><circle cx="59.0" cy="404.8" r="0.75"/><circle cx="40.5" cy="413.9" r="0.75"/><circle cx="37.0" cy="420.1" r="0.75"/><circle cx="50.5" cy="413.6" r="0.75"/><circle cx="60.4" cy="401.0" r="0.75"/><circle cx="60.1" cy="399.7" r="0.75"/><circle cx="60.9" cy="399.3" r="0.75"/><circle cx="49.7" cy="409.7" r="0.75"/><circle cx="65.3" cy="397.2" r="0.75"/><circle cx="58.5" cy="399.5" r="0.75"/><circle cx="61.0" cy="399.0" r="0.75"/><circle cx="56.4" cy="399.9" r="0.75"/><circle cx="46.8" cy="407.2" r="0.75"/><circle cx="73.4" cy="390.9" r="0.75"/><circle cx="63.1" cy="398.3" r="0.75"/><circle cx="43.9" cy="413.3" r="0.75"/><circle cx="53.9" cy="397.8" r="0.75"/><circle cx="73.9" cy="379.3" r="0.75"/><circle cx="34.5" cy="413.5" r="0.75"/><circle cx="53.5" cy="399.4" r="0.75"/><circle cx="50.2" cy="407.4" r="0.75"/><circle cx="39.0" cy="418.1" r="0.75"/><circle cx="61.5" cy="396.0" r="0.75"/><circle cx="120.4" cy="356.8" r="0.75"/><circle cx="99.4" cy="373.6" r="0.75"/><circle cx="46.6" cy="411.0" r="0.75"/><circle cx="59.9" cy="393.9" r="0.75"/><circle cx="34.5" cy="417.3" r="0.75"/><circle cx="69.2" cy="383.3" r="0.75"/><circle cx="59.5" cy="394.5" r="0.75"/><circle cx="36.7" cy="419.6" r="0.75"/><circle cx="35.0" cy="414.7" r="0.75"/><circle cx="60.6" cy="391.2" r="0.75"/><circle cx="34.4" cy="420.3" r="0.75"/><circle cx="34.4" cy="411.3" r="0.75"/><circle cx="58.2" cy="399.2" r="0.75"/><circle cx="58.4" cy="406.7" r="0.75"/><circle cx="62.4" cy="395.6" r="0.75"/><circle cx="50.8" cy="404.7" r="0.75"/><circle cx="54.4" cy="399.1" r="0.75"/><circle cx="38.9" cy="420.3" r="0.75"/><circle cx="52.0" cy="400.6" r="0.75"/><circle cx="51.9" cy="407.0" r="0.75"/><circle cx="52.7" cy="398.5" r="0.75"/><circle cx="35.4" cy="406.6" r="0.75"/><circle cx="60.1" cy="399.6" r="0.75"/><circle cx="105.0" cy="369.7" r="0.75"/><circle cx="62.6" cy="398.4" r="0.75"/><circle cx="58.7" cy="397.8" r="0.75"/><circle cx="43.7" cy="417.1" r="0.75"/><circle cx="92.1" cy="337.2" r="0.75"/><circle cx="111.6" cy="365.7" r="0.75"/><circle cx="101.3" cy="374.8" r="0.75"/><circle cx="39.9" cy="419.9" r="0.75"/><circle cx="53.4" cy="400.9" r="0.75"/><circle cx="53.9" cy="405.1" r="0.75"/><circle cx="53.2" cy="402.3" r="0.75"/><circle cx="55.9" cy="400.7" r="0.75"/><circle cx="57.8" cy="396.9" r="0.75"/><circle cx="49.8" cy="405.3" r="0.75"/><circle cx="56.0" cy="404.0" r="0.75"/><circle cx="47.2" cy="407.7" r="0.75"/><circle cx="67.3" cy="385.1" r="0.75"/><circle cx="63.6" cy="397.0" r="0.75"/><circle cx="35.6" cy="409.8" r="0.75"/><circle cx="76.6" cy="388.4" r="0.75"/><circle cx="65.6" cy="382.6" r="0.75"/><circle cx="135.7" cy="333.3" r="0.75"/><circle cx="37.3" cy="415.5" r="0.75"/><circle cx="63.4" cy="401.3" r="0.75"/><circle cx="61.0" cy="398.9" r="0.75"/><circle cx="63.9" cy="394.5" r="0.75"/><circle cx="62.1" cy="397.3" r="0.75"/><circle cx="35.3" cy="409.0" r="0.75"/><circle cx="36.1" cy="418.2" r="0.75"/><circle cx="111.1" cy="350.9" r="0.75"/><circle cx="95.4" cy="387.0" r="0.75"/><circle cx="34.4" cy="419.0" r="0.75"/><circle cx="43.5" cy="418.3" r="0.75"/><circle cx="42.2" cy="412.8" r="0.75"/><circle cx="38.1" cy="416.0" r="0.75"/><circle cx="34.4" cy="420.2" r="0.75"/><circle cx="63.1" cy="393.8" r="0.75"/><circle cx="103.7" cy="347.7" r="0.75"/><circle cx="58.6" cy="396.3" r="0.75"/><circle cx="39.6" cy="412.5" r="0.75"/><circle cx="37.2" cy="416.7" r="0.75"/><circle cx="47.6" cy="403.3" r="0.75"/><circle cx="43.8" cy="409.4" r="0.75"/><circle cx="67.9" cy="387.9" r="0.75"/><circle cx="59.3" cy="392.6" r="0.75"/><circle cx="59.8" cy="398.6" r="0.75"/><circle cx="41.4" cy="413.6" r="0.75"/><circle cx="58.9" cy="390.0" r="0.75"/><circle cx="39.7" cy="413.5" r="0.75"/><circle cx="40.3" cy="413.5" r="0.75"/><circle cx="68.5" cy="390.1" r="0.75"/><circle cx="75.5" cy="381.1" r="0.75"/><circle cx="65.4" cy="394.9" r="0.75"/><circle cx="55.2" cy="402.1" r="0.75"/><circle cx="37.5" cy="420.2" r="0.75"/><circle cx="40.5" cy="420.0" r="0.75"/><circle cx="79.0" cy="380.5" r="0.75"/><circle cx="43.8" cy="411.6" r="0.75"/><circle cx="63.3" cy="388.9" r="0.75"/><circle cx="34.9" cy="416.9" r="0.75"/><circle cx="66.3" cy="389.0" r="0.75"/><circle cx="41.1" cy="418.4" r="0.75"/><circle cx="50.3" cy="410.4" r="0.75"/><circle cx="50.1" cy="403.0" r="0.75"/><circle cx="57.2" cy="404.2" r="0.75"/><circle cx="57.1" cy="396.8" r="0.75"/><circle cx="48.1" cy="408.5" r="0.75"/><circle cx="64.8" cy="392.7" r="0.75"/><circle cx="56.6" cy="399.1" r="0.75"/><circle cx="34.7" cy="412.3" r="0.75"/><circle cx="47.3" cy="408.9" r="0.75"/><circle cx="85.2" cy="370.5" r="0.75"/><circle cx="47.6" cy="408.5" r="0.75"/><circle cx="40.2" cy="420.0" r="0.75"/><circle cx="48.4" cy="407.4" r="0.75"/><circle cx="133.3" cy="353.1" r="0.75"/><circle cx="85.6" cy="390.4" r="0.75"/><circle cx="69.3" cy="389.4" r="0.75"/><circle cx="59.3" cy="395.3" r="0.75"/><circle cx="93.0" cy="351.3" r="0.75"/><circle cx="122.9" cy="344.0" r="0.75"/><circle cx="43.6" cy="413.2" r="0.75"/><circle cx="45.8" cy="407.4" r="0.75"/><circle cx="83.6" cy="360.2" r="0.75"/><circle cx="106.6" cy="354.3" r="0.75"/><circle cx="40.1" cy="416.1" r="0.75"/><circle cx="61.3" cy="398.0" r="0.75"/><circle cx="42.6" cy="408.9" r="0.75"/><circle cx="50.6" cy="402.0" r="0.75"/><circle cx="77.3" cy="383.8" r="0.75"/><circle cx="36.5" cy="415.6" r="0.75"/><circle cx="45.2" cy="411.0" r="0.75"/><circle cx="45.3" cy="407.0" r="0.75"/><circle cx="52.4" cy="402.4" r="0.75"/><circle cx="49.3" cy="410.0" r="0.75"/><circle cx="40.2" cy="413.4" r="0.75"/><circle cx="47.6" cy="404.5" r="0.75"/><circle cx="67.2" cy="396.0" r="0.75"/><circle cx="66.2" cy="394.2" r="0.75"/><circle cx="34.7" cy="417.0" r="0.75"/><circle cx="47.8" cy="414.8" r="0.75"/><circle cx="34.4" cy="411.6" r="0.75"/><circle cx="45.6" cy="414.1" r="0.75"/><circle cx="56.3" cy="399.1" r="0.75"/><circle cx="53.3" cy="403.0" r="0.75"/><circle cx="84.3" cy="371.8" r="0.75"/><circle cx="57.3" cy="399.4" r="0.75"/><circle cx="63.6" cy="397.6" r="0.75"/><circle cx="112.8" cy="365.7" r="0.75"/><circle cx="44.9" cy="411.0" r="0.75"/><circle cx="50.6" cy="408.2" r="0.75"/><circle cx="111.9" cy="370.7" r="0.75"/><circle cx="40.2" cy="410.7" r="0.75"/><circle cx="34.6" cy="416.3" r="0.75"/><circle cx="95.3" cy="357.4" r="0.75"/><circle cx="60.1" cy="396.6" r="0.75"/><circle cx="42.3" cy="406.2" r="0.75"/><circle cx="66.0" cy="396.9" r="0.75"/><circle cx="46.7" cy="412.7" r="0.75"/><circle cx="61.6" cy="397.9" r="0.75"/><circle cx="46.4" cy="413.9" r="0.75"/><circle cx="57.5" cy="396.5" r="0.75"/><circle cx="48.9" cy="403.6" r="0.75"/><circle cx="57.4" cy="398.5" r="0.75"/><circle cx="103.1" cy="368.1" r="0.75"/><circle cx="75.2" cy="370.4" r="0.75"/><circle cx="70.8" cy="385.6" r="0.75"/><circle cx="47.1" cy="407.6" r="0.75"/><circle cx="56.9" cy="407.7" r="0.75"/><circle cx="40.4" cy="420.1" r="0.75"/><circle cx="51.3" cy="401.9" r="0.75"/><circle cx="80.1" cy="383.2" r="0.75"/><circle cx="50.4" cy="406.4" r="0.75"/><circle cx="65.0" cy="396.7" r="0.75"/><circle cx="36.7" cy="417.2" r="0.75"/><circle cx="42.4" cy="420.2" r="0.75"/><circle cx="56.7" cy="399.9" r="0.75"/><circle cx="67.4" cy="392.2" r="0.75"/><circle cx="36.9" cy="408.8" r="0.75"/><circle cx="45.0" cy="414.7" r="0.75"/><circle cx="61.7" cy="402.1" r="0.75"/><circle cx="50.9" cy="405.3" r="0.75"/><circle cx="113.1" cy="366.3" r="0.75"/><circle cx="70.8" cy="398.1" r="0.75"/><circle cx="63.0" cy="394.9" r="0.75"/><circle cx="43.0" cy="415.8" r="0.75"/><circle cx="57.1" cy="400.0" r="0.75"/><circle cx="35.6" cy="414.2" r="0.75"/><circle cx="38.8" cy="420.4" r="0.75"/><circle cx="34.6" cy="413.5" r="0.75"/><circle cx="39.6" cy="413.5" r="0.75"/><circle cx="35.3" cy="420.3" r="0.75"/><circle cx="52.7" cy="401.5" r="0.75"/><circle cx="66.0" cy="398.3" r="0.75"/><circle cx="66.2" cy="395.7" r="0.75"/><circle cx="63.9" cy="392.3" r="0.75"/><circle cx="40.5" cy="416.6" r="0.75"/><circle cx="36.2" cy="412.5" r="0.75"/><circle cx="40.4" cy="416.8" r="0.75"/><circle cx="64.0" cy="398.2" r="0.75"/><circle cx="58.7" cy="402.3" r="0.75"/><circle cx="42.4" cy="414.1" r="0.75"/><circle cx="61.0" cy="398.7" r="0.75"/><circle cx="51.4" cy="408.0" r="0.75"/><circle cx="36.9" cy="418.7" r="0.75"/><circle cx="55.3" cy="402.3" r="0.75"/><circle cx="81.4" cy="360.0" r="0.75"/><circle cx="36.8" cy="410.2" r="0.75"/><circle cx="46.3" cy="415.0" r="0.75"/><circle cx="37.3" cy="414.2" r="0.75"/><circle cx="35.1" cy="410.5" r="0.75"/><circle cx="53.2" cy="402.4" r="0.75"/><circle cx="40.2" cy="416.1" r="0.75"/><circle cx="41.7" cy="415.0" r="0.75"/><circle cx="78.2" cy="383.3" r="0.75"/><circle cx="52.8" cy="403.8" r="0.75"/><circle cx="94.3" cy="369.3" r="0.75"/><circle cx="77.2" cy="376.4" r="0.75"/><circle cx="57.9" cy="397.8" r="0.75"/><circle cx="35.7" cy="420.0" r="0.75"/><circle cx="58.3" cy="399.3" r="0.75"/><circle cx="66.2" cy="383.5" r="0.75"/><circle cx="58.0" cy="401.5" r="0.75"/><circle cx="55.8" cy="404.9" r="0.75"/><circle cx="61.7" cy="396.0" r="0.75"/><circle cx="58.4" cy="399.2" r="0.75"/><circle cx="85.9" cy="382.5" r="0.75"/><circle cx="44.4" cy="413.5" r="0.75"/><circle cx="36.3" cy="419.7" r="0.75"/><circle cx="42.1" cy="418.1" r="0.75"/><circle cx="73.0" cy="390.0" r="0.75"/><circle cx="52.5" cy="407.6" r="0.75"/><circle cx="55.5" cy="399.1" r="0.75"/><circle cx="43.0" cy="411.1" r="0.75"/><circle cx="42.4" cy="414.7" r="0.75"/><circle cx="40.8" cy="411.6" r="0.75"/><circle cx="38.9" cy="418.2" r="0.75"/><circle cx="37.3" cy="416.2" r="0.75"/><circle cx="82.7" cy="361.3" r="0.75"/><circle cx="74.9" cy="377.5" r="0.75"/><circle cx="38.4" cy="416.6" r="0.75"/><circle cx="89.4" cy="388.3" r="0.75"/><circle cx="40.2" cy="414.3" r="0.75"/><circle cx="54.2" cy="401.0" r="0.75"/><circle cx="46.4" cy="404.2" r="0.75"/><circle cx="53.1" cy="400.8" r="0.75"/><circle cx="36.0" cy="415.9" r="0.75"/><circle cx="52.7" cy="409.0" r="0.75"/><circle cx="38.0" cy="420.0" r="0.75"/><circle cx="73.6" cy="363.7" r="0.75"/><circle cx="46.5" cy="407.1" r="0.75"/><circle cx="35.7" cy="419.4" r="0.75"/><circle cx="62.4" cy="394.6" r="0.75"/><circle cx="38.1" cy="416.3" r="0.75"/><circle cx="100.2" cy="359.3" r="0.75"/><circle cx="53.9" cy="406.5" r="0.75"/><circle cx="45.2" cy="414.1" r="0.75"/><circle cx="64.8" cy="394.6" r="0.75"/><circle cx="42.4" cy="411.9" r="0.75"/><circle cx="40.2" cy="405.2" r="0.75"/><circle cx="59.8" cy="399.3" r="0.75"/><circle cx="46.3" cy="404.9" r="0.75"/><circle cx="45.9" cy="415.2" r="0.75"/><circle cx="38.2" cy="418.4" r="0.75"/><circle cx="54.8" cy="405.3" r="0.75"/><circle cx="49.2" cy="410.4" r="0.75"/><circle cx="34.4" cy="414.4" r="0.75"/><circle cx="59.4" cy="398.1" r="0.75"/><circle cx="43.1" cy="418.2" r="0.75"/><circle cx="48.0" cy="404.2" r="0.75"/><circle cx="36.8" cy="419.0" r="0.75"/><circle cx="60.6" cy="401.3" r="0.75"/><circle cx="58.9" cy="393.4" r="0.75"/><circle cx="58.9" cy="399.9" r="0.75"/><circle cx="77.0" cy="382.3" r="0.75"/><circle cx="61.3" cy="396.3" r="0.75"/><circle cx="50.3" cy="405.1" r="0.75"/><circle cx="41.0" cy="409.0" r="0.75"/><circle cx="69.0" cy="375.3" r="0.75"/><circle cx="58.1" cy="402.3" r="0.75"/><circle cx="57.2" cy="397.9" r="0.75"/><circle cx="61.7" cy="396.3" r="0.75"/><circle cx="40.3" cy="420.0" r="0.75"/><circle cx="60.9" cy="397.8" r="0.75"/><circle cx="42.2" cy="409.6" r="0.75"/><circle cx="34.8" cy="414.0" r="0.75"/><circle cx="51.0" cy="406.8" r="0.75"/><circle cx="34.5" cy="415.4" r="0.75"/><circle cx="56.6" cy="399.9" r="0.75"/><circle cx="42.8" cy="420.1" r="0.75"/><circle cx="60.5" cy="395.1" r="0.75"/><circle cx="45.0" cy="412.9" r="0.75"/><circle cx="66.3" cy="386.5" r="0.75"/><circle cx="43.0" cy="410.1" r="0.75"/><circle cx="34.6" cy="416.7" r="0.75"/><circle cx="51.4" cy="407.7" r="0.75"/><circle cx="49.7" cy="406.7" r="0.75"/><circle cx="62.4" cy="393.5" r="0.75"/><circle cx="42.0" cy="413.8" r="0.75"/><circle cx="53.6" cy="412.6" r="0.75"/><circle cx="61.4" cy="400.8" r="0.75"/><circle cx="98.7" cy="376.9" r="0.75"/><circle cx="36.7" cy="414.5" r="0.75"/><circle cx="90.3" cy="377.8" r="0.75"/><circle cx="47.6" cy="410.6" r="0.75"/><circle cx="42.3" cy="408.9" r="0.75"/><circle cx="65.4" cy="396.4" r="0.75"/><circle cx="40.5" cy="415.7" r="0.75"/><circle cx="61.1" cy="399.6" r="0.75"/><circle cx="40.9" cy="413.0" r="0.75"/><circle cx="40.2" cy="415.2" r="0.75"/><circle cx="64.5" cy="387.5" r="0.75"/><circle cx="43.2" cy="419.7" r="0.75"/><circle cx="59.9" cy="403.5" r="0.75"/><circle cx="44.3" cy="408.2" r="0.75"/><circle cx="34.4" cy="417.3" r="0.75"/><circle cx="40.7" cy="416.7" r="0.75"/><circle cx="58.9" cy="399.6" r="0.75"/><circle cx="62.8" cy="396.3" r="0.75"/><circle cx="110.2" cy="359.9" r="0.75"/><circle cx="44.6" cy="406.5" r="0.75"/><circle cx="67.8" cy="394.1" r="0.75"/><circle cx="43.9" cy="412.9" r="0.75"/><circle cx="41.4" cy="407.4" r="0.75"/><circle cx="47.5" cy="410.8" r="0.75"/><circle cx="35.0" cy="416.4" r="0.75"/><circle cx="60.8" cy="400.1" r="0.75"/><circle cx="35.6" cy="416.7" r="0.75"/><circle cx="59.3" cy="396.8" r="0.75"/><circle cx="51.8" cy="409.7" r="0.75"/><circle cx="41.0" cy="413.9" r="0.75"/><circle cx="54.2" cy="402.0" r="0.75"/><circle cx="61.6" cy="395.9" r="0.75"/><circle cx="50.4" cy="405.1" r="0.75"/><circle cx="64.3" cy="393.7" r="0.75"/><circle cx="34.4" cy="413.8" r="0.75"/><circle cx="35.1" cy="414.2" r="0.75"/><circle cx="35.7" cy="419.0" r="0.75"/><circle cx="34.5" cy="419.3" r="0.75"/><circle cx="76.4" cy="387.9" r="0.75"/><circle cx="78.9" cy="388.1" r="0.75"/><circle cx="52.6" cy="399.4" r="0.75"/><circle cx="57.6" cy="396.2" r="0.75"/><circle cx="58.3" cy="395.2" r="0.75"/><circle cx="41.1" cy="414.1" r="0.75"/><circle cx="36.5" cy="417.0" r="0.75"/><circle cx="64.5" cy="392.8" r="0.75"/><circle cx="57.4" cy="398.2" r="0.75"/><circle cx="101.3" cy="365.2" r="0.75"/><circle cx="60.1" cy="395.3" r="0.75"/><circle cx="48.4" cy="415.2" r="0.75"/><circle cx="62.8" cy="398.4" r="0.75"/><circle cx="56.5" cy="392.4" r="0.75"/><circle cx="35.0" cy="411.4" r="0.75"/><circle cx="60.7" cy="394.4" r="0.75"/><circle cx="37.6" cy="417.5" r="0.75"/><circle cx="59.2" cy="399.3" r="0.75"/><circle cx="61.5" cy="396.0" r="0.75"/><circle cx="37.0" cy="420.3" r="0.75"/><circle cx="35.4" cy="408.8" r="0.75"/><circle cx="59.1" cy="396.0" r="0.75"/><circle cx="44.6" cy="407.9" r="0.75"/><circle cx="55.4" cy="403.1" r="0.75"/><circle cx="44.3" cy="407.5" r="0.75"/><circle cx="59.1" cy="394.1" r="0.75"/><circle cx="38.3" cy="416.2" r="0.75"/><circle cx="50.2" cy="410.3" r="0.75"/><circle cx="34.6" cy="420.1" r="0.75"/><circle cx="47.5" cy="412.2" r="0.75"/><circle cx="93.0" cy="377.5" r="0.75"/><circle cx="65.0" cy="396.0" r="0.75"/><circle cx="36.7" cy="416.8" r="0.75"/><circle cx="62.8" cy="395.4" r="0.75"/><circle cx="39.5" cy="414.3" r="0.75"/><circle cx="92.1" cy="366.6" r="0.75"/><circle cx="42.4" cy="416.1" r="0.75"/><circle cx="59.7" cy="392.1" r="0.75"/><circle cx="84.2" cy="397.0" r="0.75"/><circle cx="49.8" cy="406.3" r="0.75"/><circle cx="46.6" cy="415.0" r="0.75"/><circle cx="42.7" cy="416.3" r="0.75"/><circle cx="53.3" cy="404.2" r="0.75"/><circle cx="55.8" cy="404.9" r="0.75"/><circle cx="34.6" cy="414.6" r="0.75"/><circle cx="46.2" cy="408.1" r="0.75"/><circle cx="60.1" cy="401.7" r="0.75"/><circle cx="108.4" cy="352.6" r="0.75"/><circle cx="56.9" cy="399.5" r="0.75"/><circle cx="38.3" cy="412.4" r="0.75"/><circle cx="77.7" cy="385.6" r="0.75"/><circle cx="63.3" cy="396.1" r="0.75"/><circle cx="55.9" cy="400.9" r="0.75"/><circle cx="44.5" cy="414.1" r="0.75"/><circle cx="42.5" cy="413.1" r="0.75"/><circle cx="48.0" cy="405.5" r="0.75"/><circle cx="41.9" cy="414.6" r="0.75"/><circle cx="61.5" cy="400.0" r="0.75"/><circle cx="42.0" cy="411.1" r="0.75"/><circle cx="38.0" cy="420.3" r="0.75"/><circle cx="44.8" cy="416.3" r="0.75"/><circle cx="72.8" cy="392.1" r="0.75"/><circle cx="60.3" cy="391.3" r="0.75"/><circle cx="52.8" cy="404.3" r="0.75"/><circle cx="73.3" cy="392.9" r="0.75"/><circle cx="82.9" cy="361.5" r="0.75"/><circle cx="43.3" cy="409.3" r="0.75"/><circle cx="61.9" cy="398.9" r="0.75"/><circle cx="57.1" cy="402.3" r="0.75"/><circle cx="35.2" cy="420.2" r="0.75"/><circle cx="89.7" cy="365.5" r="0.75"/><circle cx="57.0" cy="399.1" r="0.75"/><circle cx="72.3" cy="375.3" r="0.75"/><circle cx="43.6" cy="405.5" r="0.75"/><circle cx="45.6" cy="402.7" r="0.75"/><circle cx="64.9" cy="395.6" r="0.75"/><circle cx="64.5" cy="394.2" r="0.75"/><circle cx="36.5" cy="413.6" r="0.75"/><circle cx="42.7" cy="408.7" r="0.75"/><circle cx="91.9" cy="363.6" r="0.75"/><circle cx="37.6" cy="420.2" r="0.75"/><circle cx="47.7" cy="411.4" r="0.75"/><circle cx="61.0" cy="392.3" r="0.75"/><circle cx="43.6" cy="416.2" r="0.75"/><circle cx="44.3" cy="412.3" r="0.75"/><circle cx="51.3" cy="403.3" r="0.75"/><circle cx="65.4" cy="398.9" r="0.75"/><circle cx="44.9" cy="411.2" r="0.75"/><circle cx="61.0" cy="398.1" r="0.75"/><circle cx="75.0" cy="381.7" r="0.75"/><circle cx="53.5" cy="403.8" r="0.75"/><circle cx="61.1" cy="394.6" r="0.75"/><circle cx="34.8" cy="418.7" r="0.75"/><circle cx="54.6" cy="402.7" r="0.75"/><circle cx="34.5" cy="412.4" r="0.75"/><circle cx="59.0" cy="399.0" r="0.75"/><circle cx="42.6" cy="414.9" r="0.75"/><circle cx="66.5" cy="390.3" r="0.75"/><circle cx="152.8" cy="324.7" r="0.75"/><circle cx="52.3" cy="403.4" r="0.75"/><circle cx="44.8" cy="411.0" r="0.75"/><circle cx="35.2" cy="417.4" r="0.75"/><circle cx="40.9" cy="413.7" r="0.75"/><circle cx="64.6" cy="399.6" r="0.75"/><circle cx="47.4" cy="406.4" r="0.75"/><circle cx="58.6" cy="397.5" r="0.75"/><circle cx="61.1" cy="402.4" r="0.75"/><circle cx="61.8" cy="396.6" r="0.75"/><circle cx="47.1" cy="408.6" r="0.75"/><circle cx="56.8" cy="400.6" r="0.75"/><circle cx="40.1" cy="420.0" r="0.75"/><circle cx="43.2" cy="406.9" r="0.75"/><circle cx="50.8" cy="402.2" r="0.75"/><circle cx="43.2" cy="413.2" r="0.75"/><circle cx="65.2" cy="396.2" r="0.75"/><circle cx="73.4" cy="384.3" r="0.75"/><circle cx="63.9" cy="398.1" r="0.75"/><circle cx="45.5" cy="407.2" r="0.75"/><circle cx="43.1" cy="410.5" r="0.75"/><circle cx="38.6" cy="415.2" r="0.75"/><circle cx="56.5" cy="393.9" r="0.75"/><circle cx="57.9" cy="403.6" r="0.75"/><circle cx="54.9" cy="400.5" r="0.75"/><circle cx="45.4" cy="413.6" r="0.75"/><circle cx="61.5" cy="398.1" r="0.75"/><circle cx="55.8" cy="401.3" r="0.75"/><circle cx="49.3" cy="405.6" r="0.75"/><circle cx="51.3" cy="403.6" r="0.75"/><circle cx="72.6" cy="385.9" r="0.75"/><circle cx="72.6" cy="389.0" r="0.75"/><circle cx="54.2" cy="403.2" r="0.75"/><circle cx="37.1" cy="415.9" r="0.75"/><circle cx="59.5" cy="391.7" r="0.75"/><circle cx="43.3" cy="409.9" r="0.75"/><circle cx="81.5" cy="375.1" r="0.75"/><circle cx="85.9" cy="357.7" r="0.75"/><circle cx="34.6" cy="413.0" r="0.75"/><circle cx="34.9" cy="416.0" r="0.75"/><circle cx="82.8" cy="367.2" r="0.75"/><circle cx="41.1" cy="410.0" r="0.75"/><circle cx="63.6" cy="388.6" r="0.75"/><circle cx="58.4" cy="393.4" r="0.75"/><circle cx="58.6" cy="398.5" r="0.75"/><circle cx="45.2" cy="420.3" r="0.75"/><circle cx="57.4" cy="404.5" r="0.75"/><circle cx="74.7" cy="366.5" r="0.75"/><circle cx="37.1" cy="420.1" r="0.75"/><circle cx="46.1" cy="405.7" r="0.75"/><circle cx="45.4" cy="408.0" r="0.75"/><circle cx="73.6" cy="391.4" r="0.75"/><circle cx="43.6" cy="417.5" r="0.75"/><circle cx="39.5" cy="411.8" r="0.75"/><circle cx="45.5" cy="414.0" r="0.75"/><circle cx="49.8" cy="399.9" r="0.75"/><circle cx="37.5" cy="412.3" r="0.75"/><circle cx="60.7" cy="401.4" r="0.75"/><circle cx="43.8" cy="406.5" r="0.75"/><circle cx="62.6" cy="394.2" r="0.75"/><circle cx="34.5" cy="414.2" r="0.75"/><circle cx="58.1" cy="399.3" r="0.75"/><circle cx="45.7" cy="406.6" r="0.75"/><circle cx="58.3" cy="395.5" r="0.75"/><circle cx="56.5" cy="409.4" r="0.75"/><circle cx="52.4" cy="406.3" r="0.75"/><circle cx="49.8" cy="402.7" r="0.75"/><circle cx="60.3" cy="391.0" r="0.75"/><circle cx="52.5" cy="410.2" r="0.75"/><circle cx="88.7" cy="373.1" r="0.75"/><circle cx="35.0" cy="412.1" r="0.75"/><circle cx="49.9" cy="407.2" r="0.75"/><circle cx="55.0" cy="403.4" r="0.75"/><circle cx="69.1" cy="394.6" r="0.75"/><circle cx="78.7" cy="376.5" r="0.75"/><circle cx="61.4" cy="397.5" r="0.75"/><circle cx="41.0" cy="420.1" r="0.75"/><circle cx="67.6" cy="387.0" r="0.75"/><circle cx="62.4" cy="395.6" r="0.75"/><circle cx="37.1" cy="418.7" r="0.75"/><circle cx="130.7" cy="328.8" r="0.75"/><circle cx="66.1" cy="394.2" r="0.75"/><circle cx="42.6" cy="416.2" r="0.75"/><circle cx="67.0" cy="388.9" r="0.75"/><circle cx="58.2" cy="402.3" r="0.75"/><circle cx="35.8" cy="417.8" r="0.75"/><circle cx="51.3" cy="404.8" r="0.75"/><circle cx="61.9" cy="398.2" r="0.75"/><circle cx="39.4" cy="414.8" r="0.75"/><circle cx="86.8" cy="386.8" r="0.75"/><circle cx="37.0" cy="411.5" r="0.75"/><circle cx="94.9" cy="384.2" r="0.75"/><circle cx="42.8" cy="419.6" r="0.75"/><circle cx="51.5" cy="404.1" r="0.75"/><circle cx="94.7" cy="374.6" r="0.75"/><circle cx="68.7" cy="386.0" r="0.75"/><circle cx="47.5" cy="412.3" r="0.75"/><circle cx="40.1" cy="410.1" r="0.75"/><circle cx="58.2" cy="400.9" r="0.75"/><circle cx="51.9" cy="405.7" r="0.75"/><circle cx="95.1" cy="354.3" r="0.75"/><circle cx="66.7" cy="379.2" r="0.75"/><circle cx="57.5" cy="403.3" r="0.75"/><circle cx="52.6" cy="405.1" r="0.75"/><circle cx="38.4" cy="419.9" r="0.75"/><circle cx="39.0" cy="415.1" r="0.75"/><circle cx="61.3" cy="395.3" r="0.75"/><circle cx="34.6" cy="417.7" r="0.75"/><circle cx="50.6" cy="403.7" r="0.75"/><circle cx="48.4" cy="414.8" r="0.75"/><circle cx="57.2" cy="398.3" r="0.75"/><circle cx="44.9" cy="413.4" r="0.75"/><circle cx="57.7" cy="398.1" r="0.75"/><circle cx="69.8" cy="375.8" r="0.75"/><circle cx="47.8" cy="409.2" r="0.75"/><circle cx="55.0" cy="404.7" r="0.75"/><circle cx="51.2" cy="404.0" r="0.75"/><circle cx="89.7" cy="360.0" r="0.75"/><circle cx="61.5" cy="397.8" r="0.75"/><circle cx="52.0" cy="405.3" r="0.75"/><circle cx="40.4" cy="417.6" r="0.75"/><circle cx="56.2" cy="404.3" r="0.75"/><circle cx="53.7" cy="402.0" r="0.75"/><circle cx="49.9" cy="400.5" r="0.75"/><circle cx="118.4" cy="353.4" r="0.75"/><circle cx="34.6" cy="410.3" r="0.75"/><circle cx="52.1" cy="404.6" r="0.75"/><circle cx="49.2" cy="403.5" r="0.75"/><circle cx="43.3" cy="418.6" r="0.75"/><circle cx="71.9" cy="384.9" r="0.75"/><circle cx="61.7" cy="405.7" r="0.75"/><circle cx="109.3" cy="380.8" r="0.75"/><circle cx="38.8" cy="420.3" r="0.75"/><circle cx="34.4" cy="408.9" r="0.75"/><circle cx="59.8" cy="394.3" r="0.75"/><circle cx="39.5" cy="411.6" r="0.75"/><circle cx="35.2" cy="417.2" r="0.75"/><circle cx="35.0" cy="418.2" r="0.75"/><circle cx="34.9" cy="416.8" r="0.75"/><circle cx="43.6" cy="418.3" r="0.75"/><circle cx="51.6" cy="404.0" r="0.75"/><circle cx="67.7" cy="384.9" r="0.75"/><circle cx="42.2" cy="419.1" r="0.75"/><circle cx="54.3" cy="403.6" r="0.75"/><circle cx="38.2" cy="420.2" r="0.75"/><circle cx="55.2" cy="401.4" r="0.75"/><circle cx="44.7" cy="404.8" r="0.75"/><circle cx="38.1" cy="415.3" r="0.75"/><circle cx="40.4" cy="412.1" r="0.75"/><circle cx="54.0" cy="401.2" r="0.75"/><circle cx="94.1" cy="364.2" r="0.75"/><circle cx="62.5" cy="394.7" r="0.75"/><circle cx="78.4" cy="375.3" r="0.75"/><circle cx="34.5" cy="419.5" r="0.75"/><circle cx="85.1" cy="368.4" r="0.75"/><circle cx="45.3" cy="404.4" r="0.75"/><circle cx="94.9" cy="328.3" r="0.75"/><circle cx="59.6" cy="402.1" r="0.75"/><circle cx="56.3" cy="399.8" r="0.75"/><circle cx="41.0" cy="414.2" r="0.75"/><circle cx="35.0" cy="418.0" r="0.75"/><circle cx="37.0" cy="419.2" r="0.75"/><circle cx="34.7" cy="414.4" r="0.75"/><circle cx="34.4" cy="420.4" r="0.75"/><circle cx="63.0" cy="396.7" r="0.75"/><circle cx="64.6" cy="400.9" r="0.75"/><circle cx="58.7" cy="397.5" r="0.75"/><circle cx="52.0" cy="408.5" r="0.75"/><circle cx="50.9" cy="410.1" r="0.75"/><circle cx="52.7" cy="398.6" r="0.75"/><circle cx="35.1" cy="420.0" r="0.75"/><circle cx="60.3" cy="394.5" r="0.75"/><circle cx="54.4" cy="402.4" r="0.75"/><circle cx="40.0" cy="410.4" r="0.75"/><circle cx="74.3" cy="369.9" r="0.75"/><circle cx="42.5" cy="409.3" r="0.75"/><circle cx="128.2" cy="356.4" r="0.75"/><circle cx="105.1" cy="352.9" r="0.75"/><circle cx="59.9" cy="399.4" r="0.75"/><circle cx="46.5" cy="406.7" r="0.75"/><circle cx="55.4" cy="409.7" r="0.75"/><circle cx="59.3" cy="400.6" r="0.75"/><circle cx="42.4" cy="415.2" r="0.75"/><circle cx="38.1" cy="419.1" r="0.75"/><circle cx="44.6" cy="413.1" r="0.75"/><circle cx="55.9" cy="401.1" r="0.75"/><circle cx="53.4" cy="402.5" r="0.75"/><circle cx="88.2" cy="385.4" r="0.75"/><circle cx="53.7" cy="403.4" r="0.75"/><circle cx="36.1" cy="419.9" r="0.75"/><circle cx="42.9" cy="405.9" r="0.75"/><circle cx="55.7" cy="400.6" r="0.75"/><circle cx="43.8" cy="413.0" r="0.75"/><circle cx="34.6" cy="416.0" r="0.75"/><circle cx="58.4" cy="397.9" r="0.75"/><circle cx="98.5" cy="370.2" r="0.75"/><circle cx="36.4" cy="415.2" r="0.75"/><circle cx="49.6" cy="407.7" r="0.75"/><circle cx="34.6" cy="415.3" r="0.75"/><circle cx="49.2" cy="406.5" r="0.75"/><circle cx="57.9" cy="394.3" r="0.75"/><circle cx="53.5" cy="399.3" r="0.75"/><circle cx="43.9" cy="413.5" r="0.75"/><circle cx="58.0" cy="400.0" r="0.75"/><circle cx="65.0" cy="392.4" r="0.75"/><circle cx="43.5" cy="414.8" r="0.75"/><circle cx="59.7" cy="400.4" r="0.75"/><circle cx="36.3" cy="420.2" r="0.75"/><circle cx="53.2" cy="401.9" r="0.75"/><circle cx="38.6" cy="415.2" r="0.75"/><circle cx="38.5" cy="419.8" r="0.75"/><circle cx="75.1" cy="379.5" r="0.75"/><circle cx="42.9" cy="405.1" r="0.75"/><circle cx="59.2" cy="394.6" r="0.75"/><circle cx="35.8" cy="415.8" r="0.75"/><circle cx="36.8" cy="412.4" r="0.75"/><circle cx="38.2" cy="420.4" r="0.75"/><circle cx="53.1" cy="404.6" r="0.75"/><circle cx="74.0" cy="385.2" r="0.75"/><circle cx="45.0" cy="405.8" r="0.75"/><circle cx="49.0" cy="406.5" r="0.75"/><circle cx="51.1" cy="401.2" r="0.75"/><circle cx="85.3" cy="368.8" r="0.75"/><circle cx="64.7" cy="392.9" r="0.75"/><circle cx="61.1" cy="396.5" r="0.75"/><circle cx="37.1" cy="414.1" r="0.75"/><circle cx="64.7" cy="397.5" r="0.75"/><circle cx="63.0" cy="394.7" r="0.75"/><circle cx="67.5" cy="401.2" r="0.75"/><circle cx="37.2" cy="415.3" r="0.75"/><circle cx="74.5" cy="382.8" r="0.75"/><circle cx="47.3" cy="412.0" r="0.75"/><circle cx="42.4" cy="408.1" r="0.75"/><circle cx="51.6" cy="405.0" r="0.75"/><circle cx="53.4" cy="401.6" r="0.75"/><circle cx="62.3" cy="394.6" r="0.75"/><circle cx="48.5" cy="406.3" r="0.75"/><circle cx="39.5" cy="419.8" r="0.75"/><circle cx="59.4" cy="400.8" r="0.75"/><circle cx="63.4" cy="390.3" r="0.75"/><circle cx="60.6" cy="396.6" r="0.75"/><circle cx="35.1" cy="409.3" r="0.75"/><circle cx="43.7" cy="407.1" r="0.75"/><circle cx="46.5" cy="406.8" r="0.75"/><circle cx="45.7" cy="406.9" r="0.75"/><circle cx="61.1" cy="389.5" r="0.75"/><circle cx="37.8" cy="417.8" r="0.75"/><circle cx="46.2" cy="416.1" r="0.75"/><circle cx="55.1" cy="404.3" r="0.75"/><circle cx="54.8" cy="398.4" r="0.75"/><circle cx="53.7" cy="404.2" r="0.75"/><circle cx="94.8" cy="366.4" r="0.75"/><circle cx="70.4" cy="397.3" r="0.75"/><circle cx="64.1" cy="394.3" r="0.75"/><circle cx="55.2" cy="400.0" r="0.75"/><circle cx="38.8" cy="413.1" r="0.75"/><circle cx="42.3" cy="407.5" r="0.75"/><circle cx="84.6" cy="384.9" r="0.75"/><circle cx="38.3" cy="417.0" r="0.75"/><circle cx="44.4" cy="419.9" r="0.75"/><circle cx="106.6" cy="371.4" r="0.75"/><circle cx="63.4" cy="392.8" r="0.75"/><circle cx="36.8" cy="414.3" r="0.75"/><circle cx="111.8" cy="363.2" r="0.75"/><circle cx="47.2" cy="408.9" r="0.75"/><circle cx="34.5" cy="416.0" r="0.75"/><circle cx="41.3" cy="414.3" r="0.75"/><circle cx="58.5" cy="394.0" r="0.75"/><circle cx="65.0" cy="395.5" r="0.75"/><circle cx="46.2" cy="412.7" r="0.75"/><circle cx="35.5" cy="417.2" r="0.75"/><circle cx="55.4" cy="402.1" r="0.75"/><circle cx="43.7" cy="414.4" r="0.75"/><circle cx="75.6" cy="379.7" r="0.75"/><circle cx="42.9" cy="412.7" r="0.75"/><circle cx="88.8" cy="357.6" r="0.75"/><circle cx="50.5" cy="403.5" r="0.75"/><circle cx="36.5" cy="420.3" r="0.75"/><circle cx="39.0" cy="417.5" r="0.75"/><circle cx="40.7" cy="414.3" r="0.75"/><circle cx="51.5" cy="399.4" r="0.75"/><circle cx="41.8" cy="417.6" r="0.75"/><circle cx="60.8" cy="396.2" r="0.75"/><circle cx="39.5" cy="413.1" r="0.75"/><circle cx="100.8" cy="370.6" r="0.75"/><circle cx="70.8" cy="391.6" r="0.75"/><circle cx="49.9" cy="405.2" r="0.75"/><circle cx="34.9" cy="412.6" r="0.75"/><circle cx="36.9" cy="412.9" r="0.75"/><circle cx="41.9" cy="414.0" r="0.75"/><circle cx="60.5" cy="394.4" r="0.75"/><circle cx="39.9" cy="416.3" r="0.75"/><circle cx="45.0" cy="411.8" r="0.75"/><circle cx="39.1" cy="406.2" r="0.75"/><circle cx="40.5" cy="420.3" r="0.75"/><circle cx="35.3" cy="412.8" r="0.75"/><circle cx="46.5" cy="411.6" r="0.75"/><circle cx="53.5" cy="402.6" r="0.75"/><circle cx="40.1" cy="405.0" r="0.75"/><circle cx="39.8" cy="414.4" r="0.75"/><circle cx="34.9" cy="415.6" r="0.75"/><circle cx="63.4" cy="391.9" r="0.75"/><circle cx="41.2" cy="411.1" r="0.75"/><circle cx="63.8" cy="394.7" r="0.75"/><circle cx="139.1" cy="377.8" r="0.75"/><circle cx="45.0" cy="417.7" r="0.75"/><circle cx="37.0" cy="412.8" r="0.75"/><circle cx="58.5" cy="400.1" r="0.75"/><circle cx="44.5" cy="408.3" r="0.75"/><circle cx="67.4" cy="387.4" r="0.75"/><circle cx="43.5" cy="419.9" r="0.75"/><circle cx="71.0" cy="373.8" r="0.75"/><circle cx="58.6" cy="396.4" r="0.75"/><circle cx="100.2" cy="364.8" r="0.75"/><circle cx="43.6" cy="413.1" r="0.75"/><circle cx="63.2" cy="398.2" r="0.75"/><circle cx="93.5" cy="368.2" r="0.75"/><circle cx="66.0" cy="394.8" r="0.75"/><circle cx="63.5" cy="397.4" r="0.75"/><circle cx="63.7" cy="388.5" r="0.75"/><circle cx="58.9" cy="393.3" r="0.75"/><circle cx="48.6" cy="400.3" r="0.75"/><circle cx="49.3" cy="410.8" r="0.75"/><circle cx="105.1" cy="355.7" r="0.75"/><circle cx="36.6" cy="418.0" r="0.75"/><circle cx="64.3" cy="392.5" r="0.75"/><circle cx="41.2" cy="418.5" r="0.75"/><circle cx="138.4" cy="343.7" r="0.75"/><circle cx="67.6" cy="382.0" r="0.75"/><circle cx="59.7" cy="399.0" r="0.75"/><circle cx="59.4" cy="401.5" r="0.75"/><circle cx="59.3" cy="399.0" r="0.75"/><circle cx="38.6" cy="408.9" r="0.75"/><circle cx="59.0" cy="394.7" r="0.75"/><circle cx="54.8" cy="403.4" r="0.75"/><circle cx="55.9" cy="400.2" r="0.75"/><circle cx="53.6" cy="402.2" r="0.75"/><circle cx="61.8" cy="395.3" r="0.75"/><circle cx="54.8" cy="400.4" r="0.75"/><circle cx="51.4" cy="399.4" r="0.75"/><circle cx="76.4" cy="382.1" r="0.75"/><circle cx="74.6" cy="384.0" r="0.75"/><circle cx="61.2" cy="396.4" r="0.75"/><circle cx="55.5" cy="395.8" r="0.75"/><circle cx="62.0" cy="397.4" r="0.75"/><circle cx="59.5" cy="401.7" r="0.75"/><circle cx="43.7" cy="416.5" r="0.75"/><circle cx="34.6" cy="415.4" r="0.75"/><circle cx="55.6" cy="401.1" r="0.75"/><circle cx="41.0" cy="420.1" r="0.75"/><circle cx="48.2" cy="408.6" r="0.75"/><circle cx="56.3" cy="401.8" r="0.75"/><circle cx="58.2" cy="396.2" r="0.75"/><circle cx="34.7" cy="418.5" r="0.75"/><circle cx="47.6" cy="417.4" r="0.75"/><circle cx="56.2" cy="400.7" r="0.75"/><circle cx="44.9" cy="413.1" r="0.75"/><circle cx="37.7" cy="413.8" r="0.75"/><circle cx="47.1" cy="406.7" r="0.75"/><circle cx="67.6" cy="399.5" r="0.75"/><circle cx="39.2" cy="417.6" r="0.75"/><circle cx="34.9" cy="420.0" r="0.75"/><circle cx="45.0" cy="414.2" r="0.75"/><circle cx="42.6" cy="407.3" r="0.75"/><circle cx="35.0" cy="417.7" r="0.75"/><circle cx="48.6" cy="403.9" r="0.75"/><circle cx="43.9" cy="417.8" r="0.75"/><circle cx="61.8" cy="394.2" r="0.75"/><circle cx="103.4" cy="377.8" r="0.75"/><circle cx="63.1" cy="398.0" r="0.75"/><circle cx="34.9" cy="414.6" r="0.75"/><circle cx="44.7" cy="416.0" r="0.75"/><circle cx="62.2" cy="397.7" r="0.75"/><circle cx="87.2" cy="383.0" r="0.75"/><circle cx="49.0" cy="406.2" r="0.75"/><circle cx="48.8" cy="413.7" r="0.75"/><circle cx="44.5" cy="415.3" r="0.75"/><circle cx="51.8" cy="402.3" r="0.75"/><circle cx="56.8" cy="399.0" r="0.75"/><circle cx="38.6" cy="416.5" r="0.75"/><circle cx="153.0" cy="368.8" r="0.75"/><circle cx="62.3" cy="397.3" r="0.75"/><circle cx="59.6" cy="398.9" r="0.75"/><circle cx="104.4" cy="387.5" r="0.75"/><circle cx="34.9" cy="418.1" r="0.75"/><circle cx="50.4" cy="404.0" r="0.75"/><circle cx="50.1" cy="410.5" r="0.75"/><circle cx="65.2" cy="396.4" r="0.75"/><circle cx="35.1" cy="407.2" r="0.75"/><circle cx="37.7" cy="415.3" r="0.75"/><circle cx="52.9" cy="399.8" r="0.75"/><circle cx="40.4" cy="420.0" r="0.75"/><circle cx="41.9" cy="408.6" r="0.75"/><circle cx="38.4" cy="407.6" r="0.75"/><circle cx="76.7" cy="380.1" r="0.75"/><circle cx="49.6" cy="400.1" r="0.75"/><circle cx="68.4" cy="376.9" r="0.75"/><circle cx="54.2" cy="407.6" r="0.75"/><circle cx="57.6" cy="392.1" r="0.75"/><circle cx="43.4" cy="414.3" r="0.75"/><circle cx="89.8" cy="366.0" r="0.75"/><circle cx="91.6" cy="378.3" r="0.75"/><circle cx="50.0" cy="402.1" r="0.75"/><circle cx="39.1" cy="413.6" r="0.75"/><circle cx="86.3" cy="362.7" r="0.75"/><circle cx="61.1" cy="399.0" r="0.75"/><circle cx="60.4" cy="397.0" r="0.75"/><circle cx="34.6" cy="416.3" r="0.75"/><circle cx="38.6" cy="416.5" r="0.75"/><circle cx="46.1" cy="409.9" r="0.75"/><circle cx="46.2" cy="416.8" r="0.75"/><circle cx="105.3" cy="383.2" r="0.75"/><circle cx="62.9" cy="396.6" r="0.75"/><circle cx="37.1" cy="417.8" r="0.75"/><circle cx="76.4" cy="383.8" r="0.75"/><circle cx="45.2" cy="410.3" r="0.75"/><circle cx="43.5" cy="404.7" r="0.75"/><circle cx="61.6" cy="399.2" r="0.75"/><circle cx="58.8" cy="403.0" r="0.75"/><circle cx="35.7" cy="417.1" r="0.75"/><circle cx="48.0" cy="409.0" r="0.75"/><circle cx="72.2" cy="385.9" r="0.75"/><circle cx="61.3" cy="391.7" r="0.75"/><circle cx="97.7" cy="376.2" r="0.75"/><circle cx="67.6" cy="379.4" r="0.75"/><circle cx="84.6" cy="376.8" r="0.75"/><circle cx="53.2" cy="396.6" r="0.75"/><circle cx="54.1" cy="405.9" r="0.75"/><circle cx="40.3" cy="420.3" r="0.75"/><circle cx="46.1" cy="416.6" r="0.75"/><circle cx="34.7" cy="415.3" r="0.75"/><circle cx="72.4" cy="391.8" r="0.75"/><circle cx="37.5" cy="413.8" r="0.75"/><circle cx="45.1" cy="404.5" r="0.75"/><circle cx="62.3" cy="398.2" r="0.75"/><circle cx="90.5" cy="380.6" r="0.75"/><circle cx="65.6" cy="392.6" r="0.75"/><circle cx="36.1" cy="420.3" r="0.75"/><circle cx="34.6" cy="416.6" r="0.75"/><circle cx="58.6" cy="394.2" r="0.75"/><circle cx="34.8" cy="416.1" r="0.75"/><circle cx="67.8" cy="391.5" r="0.75"/><circle cx="61.4" cy="400.5" r="0.75"/><circle cx="38.2" cy="412.2" r="0.75"/><circle cx="64.1" cy="394.9" r="0.75"/><circle cx="38.8" cy="410.9" r="0.75"/><circle cx="35.3" cy="416.8" r="0.75"/><circle cx="55.6" cy="401.6" r="0.75"/><circle cx="45.0" cy="399.3" r="0.75"/><circle cx="82.6" cy="381.5" r="0.75"/><circle cx="53.2" cy="408.9" r="0.75"/><circle cx="36.6" cy="415.9" r="0.75"/><circle cx="56.8" cy="398.4" r="0.75"/><circle cx="51.7" cy="408.9" r="0.75"/><circle cx="37.5" cy="420.2" r="0.75"/><circle cx="63.8" cy="392.9" r="0.75"/><circle cx="48.3" cy="410.4" r="0.75"/><circle cx="64.8" cy="397.1" r="0.75"/><circle cx="43.4" cy="406.6" r="0.75"/><circle cx="34.5" cy="415.8" r="0.75"/><circle cx="53.5" cy="405.9" r="0.75"/><circle cx="62.1" cy="395.7" r="0.75"/><circle cx="37.3" cy="410.6" r="0.75"/><circle cx="36.3" cy="415.2" r="0.75"/><circle cx="80.2" cy="372.8" r="0.75"/><circle cx="48.0" cy="408.8" r="0.75"/><circle cx="54.9" cy="404.0" r="0.75"/><circle cx="44.9" cy="411.4" r="0.75"/><circle cx="59.9" cy="397.2" r="0.75"/><circle cx="35.9" cy="419.8" r="0.75"/><circle cx="40.2" cy="416.0" r="0.75"/><circle cx="54.1" cy="404.4" r="0.75"/><circle cx="43.1" cy="402.9" r="0.75"/><circle cx="48.3" cy="410.2" r="0.75"/><circle cx="45.1" cy="408.9" r="0.75"/><circle cx="102.1" cy="369.6" r="0.75"/><circle cx="36.7" cy="420.4" r="0.75"/><circle cx="60.6" cy="391.7" r="0.75"/><circle cx="62.3" cy="396.1" r="0.75"/><circle cx="57.1" cy="403.1" r="0.75"/><circle cx="57.6" cy="401.3" r="0.75"/><circle cx="34.8" cy="414.5" r="0.75"/><circle cx="78.3" cy="371.2" r="0.75"/><circle cx="40.6" cy="419.8" r="0.75"/><circle cx="40.4" cy="420.3" r="0.75"/><circle cx="62.6" cy="387.8" r="0.75"/><circle cx="72.4" cy="374.6" r="0.75"/><circle cx="77.7" cy="379.3" r="0.75"/><circle cx="45.0" cy="414.2" r="0.75"/><circle cx="40.8" cy="415.0" r="0.75"/><circle cx="44.5" cy="412.2" r="0.75"/><circle cx="38.0" cy="415.2" r="0.75"/><circle cx="78.3" cy="382.0" r="0.75"/><circle cx="44.8" cy="411.7" r="0.75"/><circle cx="60.1" cy="402.3" r="0.75"/><circle cx="47.3" cy="410.7" r="0.75"/><circle cx="54.4" cy="402.5" r="0.75"/><circle cx="56.1" cy="403.4" r="0.75"/><circle cx="53.5" cy="403.3" r="0.75"/><circle cx="34.9" cy="415.8" r="0.75"/><circle cx="61.4" cy="395.5" r="0.75"/><circle cx="34.6" cy="417.9" r="0.75"/><circle cx="44.5" cy="411.4" r="0.75"/><circle cx="56.4" cy="397.3" r="0.75"/><circle cx="49.8" cy="411.1" r="0.75"/><circle cx="41.1" cy="416.0" r="0.75"/><circle cx="62.7" cy="388.6" r="0.75"/><circle cx="36.7" cy="416.6" r="0.75"/><circle cx="62.1" cy="398.3" r="0.75"/><circle cx="37.3" cy="412.1" r="0.75"/><circle cx="39.3" cy="420.2" r="0.75"/><circle cx="52.9" cy="405.2" r="0.75"/><circle cx="53.0" cy="405.8" r="0.75"/><circle cx="57.2" cy="398.1" r="0.75"/><circle cx="49.6" cy="406.8" r="0.75"/><circle cx="52.4" cy="407.4" r="0.75"/><circle cx="40.8" cy="415.9" r="0.75"/><circle cx="59.3" cy="392.3" r="0.75"/><circle cx="60.1" cy="397.4" r="0.75"/><circle cx="34.9" cy="419.0" r="0.75"/><circle cx="61.3" cy="405.8" r="0.75"/><circle cx="44.3" cy="410.1" r="0.75"/><circle cx="109.1" cy="370.5" r="0.75"/><circle cx="63.6" cy="395.0" r="0.75"/><circle cx="62.4" cy="392.1" r="0.75"/><circle cx="34.5" cy="418.0" r="0.75"/><circle cx="46.6" cy="412.5" r="0.75"/><circle cx="45.9" cy="407.1" r="0.75"/><circle cx="51.3" cy="410.8" r="0.75"/><circle cx="61.1" cy="398.3" r="0.75"/><circle cx="49.4" cy="406.9" r="0.75"/><circle cx="67.3" cy="385.2" r="0.75"/><circle cx="45.9" cy="413.9" r="0.75"/><circle cx="41.8" cy="409.0" r="0.75"/><circle cx="38.1" cy="420.0" r="0.75"/><circle cx="45.5" cy="409.2" r="0.75"/><circle cx="60.9" cy="400.3" r="0.75"/><circle cx="34.5" cy="411.9" r="0.75"/><circle cx="48.3" cy="410.2" r="0.75"/><circle cx="51.1" cy="406.0" r="0.75"/><circle cx="37.7" cy="418.9" r="0.75"/><circle cx="42.4" cy="414.9" r="0.75"/><circle cx="50.1" cy="403.9" r="0.75"/><circle cx="49.6" cy="411.4" r="0.75"/><circle cx="44.4" cy="419.6" r="0.75"/><circle cx="57.2" cy="402.3" r="0.75"/><circle cx="100.5" cy="367.1" r="0.75"/><circle cx="35.6" cy="412.8" r="0.75"/><circle cx="38.5" cy="414.1" r="0.75"/><circle cx="67.5" cy="375.2" r="0.75"/><circle cx="57.1" cy="401.3" r="0.75"/><circle cx="62.0" cy="393.0" r="0.75"/><circle cx="41.2" cy="411.9" r="0.75"/><circle cx="36.0" cy="415.6" r="0.75"/><circle cx="57.0" cy="395.2" r="0.75"/><circle cx="70.6" cy="387.0" r="0.75"/><circle cx="97.1" cy="367.1" r="0.75"/><circle cx="62.6" cy="399.1" r="0.75"/><circle cx="61.9" cy="397.0" r="0.75"/><circle cx="72.7" cy="381.4" r="0.75"/><circle cx="53.3" cy="401.9" r="0.75"/><circle cx="44.2" cy="410.6" r="0.75"/><circle cx="73.0" cy="393.1" r="0.75"/><circle cx="52.8" cy="403.7" r="0.75"/><circle cx="42.6" cy="417.1" r="0.75"/><circle cx="45.2" cy="412.7" r="0.75"/><circle cx="80.1" cy="392.6" r="0.75"/><circle cx="57.7" cy="403.4" r="0.75"/><circle cx="41.2" cy="417.1" r="0.75"/><circle cx="50.0" cy="405.3" r="0.75"/><circle cx="58.9" cy="398.8" r="0.75"/><circle cx="50.3" cy="407.2" r="0.75"/><circle cx="62.4" cy="389.9" r="0.75"/><circle cx="60.1" cy="401.7" r="0.75"/><circle cx="62.7" cy="392.1" r="0.75"/><circle cx="38.4" cy="414.2" r="0.75"/><circle cx="37.0" cy="414.4" r="0.75"/><circle cx="48.1" cy="412.1" r="0.75"/><circle cx="54.5" cy="395.4" r="0.75"/><circle cx="34.6" cy="419.7" r="0.75"/><circle cx="37.4" cy="415.9" r="0.75"/><circle cx="41.8" cy="419.4" r="0.75"/><circle cx="43.8" cy="405.8" r="0.75"/><circle cx="40.9" cy="420.2" r="0.75"/><circle cx="57.4" cy="399.1" r="0.75"/><circle cx="36.2" cy="417.8" r="0.75"/><circle cx="41.7" cy="414.9" r="0.75"/><circle cx="55.8" cy="401.3" r="0.75"/><circle cx="35.6" cy="419.6" r="0.75"/><circle cx="54.8" cy="399.8" r="0.75"/><circle cx="60.0" cy="404.0" r="0.75"/><circle cx="37.0" cy="406.9" r="0.75"/><circle cx="49.4" cy="413.4" r="0.75"/><circle cx="73.2" cy="383.3" r="0.75"/><circle cx="72.0" cy="391.4" r="0.75"/><circle cx="50.5" cy="405.6" r="0.75"/><circle cx="64.7" cy="397.6" r="0.75"/><circle cx="59.6" cy="400.6" r="0.75"/><circle cx="72.1" cy="383.3" r="0.75"/><circle cx="55.0" cy="400.5" r="0.75"/><circle cx="49.9" cy="402.3" r="0.75"/><circle cx="50.9" cy="406.3" r="0.75"/><circle cx="39.1" cy="414.3" r="0.75"/><circle cx="56.2" cy="397.2" r="0.75"/><circle cx="59.1" cy="393.4" r="0.75"/><circle cx="41.2" cy="418.3" r="0.75"/><circle cx="38.7" cy="420.0" r="0.75"/><circle cx="72.4" cy="390.8" r="0.75"/><circle cx="69.3" cy="395.4" r="0.75"/><circle cx="55.8" cy="401.4" r="0.75"/><circle cx="43.6" cy="409.5" r="0.75"/><circle cx="56.2" cy="401.1" r="0.75"/><circle cx="38.9" cy="406.8" r="0.75"/><circle cx="49.3" cy="407.5" r="0.75"/><circle cx="62.8" cy="396.4" r="0.75"/><circle cx="34.5" cy="417.5" r="0.75"/><circle cx="52.1" cy="401.0" r="0.75"/><circle cx="44.7" cy="408.1" r="0.75"/><circle cx="34.5" cy="416.3" r="0.75"/><circle cx="34.5" cy="416.8" r="0.75"/><circle cx="38.6" cy="414.9" r="0.75"/><circle cx="34.6" cy="415.5" r="0.75"/><circle cx="58.7" cy="397.8" r="0.75"/><circle cx="48.9" cy="407.5" r="0.75"/><circle cx="40.4" cy="418.0" r="0.75"/><circle cx="43.1" cy="413.1" r="0.75"/><circle cx="57.9" cy="401.5" r="0.75"/><circle cx="50.5" cy="412.2" r="0.75"/><circle cx="42.1" cy="410.0" r="0.75"/><circle cx="86.4" cy="330.9" r="0.75"/><circle cx="57.5" cy="401.2" r="0.75"/><circle cx="79.1" cy="376.6" r="0.75"/><circle cx="59.1" cy="397.3" r="0.75"/><circle cx="42.8" cy="420.0" r="0.75"/><circle cx="51.0" cy="402.0" r="0.75"/><circle cx="51.8" cy="402.3" r="0.75"/><circle cx="73.6" cy="391.1" r="0.75"/><circle cx="54.7" cy="404.0" r="0.75"/><circle cx="47.8" cy="404.3" r="0.75"/><circle cx="85.6" cy="361.0" r="0.75"/><circle cx="63.6" cy="394.7" r="0.75"/><circle cx="94.9" cy="359.0" r="0.75"/><circle cx="76.2" cy="386.4" r="0.75"/><circle cx="93.1" cy="356.2" r="0.75"/><circle cx="38.7" cy="418.9" r="0.75"/><circle cx="35.1" cy="414.1" r="0.75"/><circle cx="61.8" cy="398.9" r="0.75"/><circle cx="40.5" cy="414.8" r="0.75"/><circle cx="38.5" cy="406.9" r="0.75"/><circle cx="34.7" cy="417.4" r="0.75"/><circle cx="34.8" cy="414.5" r="0.75"/><circle cx="47.8" cy="407.9" r="0.75"/><circle cx="63.2" cy="383.1" r="0.75"/><circle cx="56.1" cy="396.3" r="0.75"/><circle cx="95.9" cy="385.9" r="0.75"/><circle cx="49.4" cy="407.1" r="0.75"/><circle cx="55.5" cy="406.7" r="0.75"/><circle cx="45.6" cy="403.6" r="0.75"/><circle cx="39.0" cy="411.4" r="0.75"/><circle cx="40.8" cy="416.6" r="0.75"/><circle cx="48.1" cy="401.9" r="0.75"/><circle cx="44.5" cy="410.5" r="0.75"/><circle cx="49.2" cy="405.7" r="0.75"/><circle cx="59.8" cy="396.7" r="0.75"/><circle cx="34.7" cy="405.8" r="0.75"/><circle cx="56.6" cy="401.7" r="0.75"/><circle cx="62.0" cy="392.3" r="0.75"/><circle cx="52.5" cy="412.9" r="0.75"/><circle cx="56.5" cy="399.7" r="0.75"/><circle cx="43.7" cy="416.2" r="0.75"/><circle cx="49.7" cy="408.9" r="0.75"/><circle cx="64.4" cy="394.1" r="0.75"/><circle cx="41.1" cy="420.0" r="0.75"/><circle cx="60.0" cy="395.1" r="0.75"/><circle cx="36.8" cy="420.4" r="0.75"/><circle cx="37.8" cy="420.2" r="0.75"/><circle cx="41.9" cy="407.3" r="0.75"/><circle cx="76.1" cy="374.9" r="0.75"/><circle cx="88.7" cy="377.0" r="0.75"/><circle cx="112.2" cy="352.8" r="0.75"/><circle cx="39.0" cy="414.9" r="0.75"/><circle cx="44.9" cy="405.6" r="0.75"/><circle cx="77.1" cy="381.0" r="0.75"/><circle cx="46.2" cy="410.6" r="0.75"/><circle cx="46.9" cy="412.1" r="0.75"/><circle cx="60.5" cy="394.4" r="0.75"/><circle cx="60.0" cy="397.4" r="0.75"/><circle cx="57.7" cy="399.4" r="0.75"/><circle cx="55.6" cy="405.9" r="0.75"/><circle cx="45.5" cy="403.4" r="0.75"/><circle cx="67.6" cy="395.3" r="0.75"/><circle cx="57.1" cy="398.3" r="0.75"/><circle cx="112.8" cy="335.1" r="0.75"/><circle cx="61.7" cy="393.1" r="0.75"/><circle cx="47.4" cy="407.0" r="0.75"/><circle cx="36.4" cy="414.7" r="0.75"/><circle cx="48.0" cy="402.8" r="0.75"/><circle cx="34.6" cy="416.4" r="0.75"/><circle cx="60.4" cy="396.3" r="0.75"/><circle cx="58.2" cy="398.4" r="0.75"/><circle cx="100.3" cy="379.5" r="0.75"/><circle cx="62.7" cy="389.3" r="0.75"/><circle cx="52.1" cy="406.9" r="0.75"/><circle cx="41.7" cy="413.2" r="0.75"/><circle cx="57.3" cy="398.2" r="0.75"/><circle cx="51.3" cy="400.6" r="0.75"/><circle cx="66.1" cy="389.1" r="0.75"/><circle cx="71.9" cy="385.7" r="0.75"/><circle cx="40.7" cy="411.9" r="0.75"/><circle cx="53.8" cy="398.8" r="0.75"/><circle cx="40.3" cy="419.3" r="0.75"/><circle cx="43.4" cy="407.9" r="0.75"/><circle cx="54.9" cy="402.9" r="0.75"/><circle cx="52.7" cy="401.4" r="0.75"/><circle cx="39.8" cy="414.9" r="0.75"/><circle cx="36.8" cy="412.7" r="0.75"/><circle cx="36.8" cy="407.8" r="0.75"/><circle cx="47.1" cy="406.5" r="0.75"/><circle cx="40.9" cy="420.0" r="0.75"/><circle cx="42.0" cy="407.9" r="0.75"/><circle cx="56.1" cy="398.6" r="0.75"/><circle cx="48.8" cy="407.4" r="0.75"/><circle cx="43.1" cy="415.8" r="0.75"/><circle cx="40.2" cy="406.4" r="0.75"/><circle cx="71.8" cy="383.8" r="0.75"/><circle cx="77.9" cy="375.3" r="0.75"/><circle cx="56.1" cy="397.7" r="0.75"/><circle cx="58.9" cy="397.4" r="0.75"/><circle cx="44.6" cy="408.1" r="0.75"/><circle cx="34.5" cy="416.2" r="0.75"/><circle cx="47.5" cy="416.3" r="0.75"/><circle cx="84.1" cy="380.1" r="0.75"/><circle cx="48.8" cy="410.9" r="0.75"/><circle cx="74.2" cy="389.3" r="0.75"/><circle cx="62.6" cy="398.6" r="0.75"/><circle cx="42.1" cy="415.2" r="0.75"/><circle cx="64.0" cy="396.4" r="0.75"/><circle cx="41.7" cy="418.3" r="0.75"/><circle cx="63.4" cy="393.7" r="0.75"/><circle cx="47.1" cy="407.1" r="0.75"/><circle cx="57.7" cy="405.3" r="0.75"/><circle cx="64.8" cy="387.9" r="0.75"/><circle cx="36.3" cy="412.2" r="0.75"/><circle cx="54.8" cy="403.8" r="0.75"/><circle cx="39.2" cy="414.1" r="0.75"/><circle cx="72.5" cy="388.1" r="0.75"/><circle cx="81.5" cy="384.1" r="0.75"/><circle cx="34.5" cy="412.4" r="0.75"/><circle cx="50.4" cy="403.1" r="0.75"/><circle cx="56.5" cy="397.3" r="0.75"/><circle cx="94.3" cy="370.4" r="0.75"/><circle cx="56.0" cy="402.7" r="0.75"/><circle cx="57.2" cy="405.2" r="0.75"/><circle cx="69.4" cy="388.7" r="0.75"/><circle cx="60.7" cy="399.6" r="0.75"/><circle cx="68.4" cy="388.3" r="0.75"/><circle cx="55.6" cy="402.2" r="0.75"/><circle cx="64.7" cy="393.7" r="0.75"/><circle cx="50.2" cy="405.3" r="0.75"/><circle cx="54.2" cy="403.5" r="0.75"/><circle cx="49.3" cy="406.9" r="0.75"/><circle cx="40.8" cy="410.4" r="0.75"/><circle cx="49.3" cy="403.8" r="0.75"/><circle cx="54.9" cy="401.0" r="0.75"/><circle cx="50.2" cy="407.1" r="0.75"/><circle cx="64.8" cy="393.3" r="0.75"/><circle cx="34.7" cy="409.2" r="0.75"/><circle cx="43.2" cy="413.2" r="0.75"/><circle cx="57.7" cy="394.4" r="0.75"/><circle cx="34.7" cy="417.8" r="0.75"/><circle cx="37.8" cy="418.2" r="0.75"/><circle cx="41.5" cy="417.9" r="0.75"/><circle cx="45.2" cy="409.0" r="0.75"/><circle cx="58.9" cy="397.5" r="0.75"/><circle cx="40.1" cy="408.2" r="0.75"/><circle cx="35.1" cy="413.5" r="0.75"/><circle cx="54.5" cy="402.0" r="0.75"/><circle cx="73.2" cy="394.3" r="0.75"/><circle cx="57.4" cy="409.3" r="0.75"/><circle cx="52.4" cy="401.4" r="0.75"/><circle cx="38.7" cy="418.8" r="0.75"/><circle cx="61.9" cy="400.0" r="0.75"/><circle cx="37.2" cy="416.3" r="0.75"/><circle cx="75.9" cy="394.7" r="0.75"/><circle cx="61.1" cy="394.8" r="0.75"/><circle cx="60.7" cy="392.5" r="0.75"/><circle cx="93.0" cy="374.0" r="0.75"/><circle cx="59.0" cy="397.2" r="0.75"/><circle cx="56.4" cy="405.6" r="0.75"/><circle cx="65.0" cy="397.5" r="0.75"/><circle cx="59.1" cy="399.6" r="0.75"/><circle cx="43.6" cy="404.3" r="0.75"/><circle cx="38.4" cy="405.4" r="0.75"/><circle cx="59.8" cy="398.9" r="0.75"/><circle cx="34.9" cy="416.8" r="0.75"/><circle cx="57.5" cy="399.8" r="0.75"/><circle cx="65.1" cy="390.9" r="0.75"/><circle cx="89.7" cy="370.6" r="0.75"/><circle cx="86.3" cy="379.8" r="0.75"/><circle cx="60.1" cy="394.1" r="0.75"/><circle cx="61.5" cy="389.0" r="0.75"/><circle cx="80.3" cy="362.8" r="0.75"/><circle cx="45.9" cy="406.5" r="0.75"/><circle cx="60.0" cy="395.0" r="0.75"/><circle cx="43.4" cy="418.5" r="0.75"/><circle cx="61.5" cy="399.6" r="0.75"/><circle cx="62.7" cy="391.7" r="0.75"/><circle cx="37.4" cy="418.0" r="0.75"/><circle cx="68.7" cy="382.1" r="0.75"/><circle cx="57.9" cy="401.1" r="0.75"/><circle cx="50.4" cy="411.3" r="0.75"/><circle cx="38.3" cy="412.2" r="0.75"/><circle cx="62.1" cy="395.4" r="0.75"/><circle cx="55.0" cy="405.1" r="0.75"/><circle cx="45.2" cy="405.1" r="0.75"/><circle cx="53.1" cy="409.9" r="0.75"/><circle cx="39.8" cy="419.6" r="0.75"/><circle cx="50.9" cy="407.9" r="0.75"/><circle cx="41.8" cy="411.1" r="0.75"/><circle cx="56.3" cy="403.7" r="0.75"/><circle cx="43.0" cy="412.0" r="0.75"/><circle cx="127.7" cy="345.6" r="0.75"/><circle cx="35.1" cy="415.4" r="0.75"/><circle cx="39.3" cy="417.8" r="0.75"/><circle cx="45.0" cy="409.6" r="0.75"/><circle cx="96.0" cy="350.4" r="0.75"/><circle cx="91.4" cy="377.0" r="0.75"/><circle cx="52.2" cy="398.7" r="0.75"/><circle cx="40.2" cy="406.7" r="0.75"/><circle cx="37.9" cy="420.3" r="0.75"/><circle cx="60.7" cy="397.1" r="0.75"/><circle cx="43.6" cy="415.1" r="0.75"/><circle cx="57.7" cy="397.6" r="0.75"/><circle cx="60.0" cy="394.8" r="0.75"/><circle cx="40.5" cy="420.4" r="0.75"/><circle cx="41.0" cy="411.4" r="0.75"/><circle cx="40.5" cy="416.7" r="0.75"/><circle cx="77.3" cy="383.2" r="0.75"/><circle cx="56.0" cy="399.6" r="0.75"/><circle cx="60.6" cy="396.1" r="0.75"/><circle cx="41.0" cy="416.2" r="0.75"/><circle cx="74.2" cy="391.4" r="0.75"/><circle cx="134.7" cy="372.6" r="0.75"/><circle cx="65.6" cy="398.1" r="0.75"/><circle cx="38.4" cy="409.4" r="0.75"/><circle cx="55.7" cy="405.3" r="0.75"/><circle cx="41.4" cy="417.4" r="0.75"/><circle cx="34.5" cy="420.3" r="0.75"/><circle cx="40.8" cy="411.9" r="0.75"/><circle cx="42.6" cy="412.4" r="0.75"/><circle cx="39.1" cy="413.1" r="0.75"/><circle cx="59.6" cy="398.6" r="0.75"/><circle cx="39.1" cy="415.8" r="0.75"/><circle cx="82.7" cy="384.0" r="0.75"/><circle cx="92.6" cy="371.9" r="0.75"/><circle cx="64.6" cy="392.3" r="0.75"/><circle cx="40.3" cy="411.3" r="0.75"/><circle cx="34.7" cy="415.8" r="0.75"/><circle cx="53.8" cy="403.4" r="0.75"/><circle cx="61.1" cy="391.8" r="0.75"/><circle cx="44.8" cy="420.3" r="0.75"/><circle cx="39.0" cy="420.4" r="0.75"/><circle cx="36.5" cy="415.8" r="0.75"/><circle cx="42.3" cy="418.2" r="0.75"/><circle cx="51.7" cy="401.5" r="0.75"/><circle cx="56.4" cy="398.0" r="0.75"/><circle cx="49.2" cy="406.3" r="0.75"/><circle cx="58.2" cy="399.6" r="0.75"/><circle cx="57.6" cy="401.1" r="0.75"/><circle cx="41.0" cy="411.9" r="0.75"/><circle cx="40.3" cy="419.4" r="0.75"/><circle cx="43.1" cy="411.3" r="0.75"/><circle cx="57.0" cy="395.5" r="0.75"/><circle cx="73.9" cy="383.3" r="0.75"/><circle cx="36.7" cy="409.3" r="0.75"/><circle cx="44.9" cy="412.4" r="0.75"/><circle cx="53.2" cy="401.3" r="0.75"/><circle cx="35.0" cy="418.2" r="0.75"/><circle cx="41.2" cy="408.7" r="0.75"/><circle cx="58.7" cy="400.1" r="0.75"/><circle cx="52.8" cy="401.3" r="0.75"/><circle cx="39.8" cy="409.8" r="0.75"/><circle cx="45.8" cy="411.2" r="0.75"/><circle cx="66.2" cy="389.5" r="0.75"/><circle cx="57.8" cy="398.0" r="0.75"/><circle cx="51.1" cy="409.5" r="0.75"/><circle cx="60.6" cy="395.8" r="0.75"/><circle cx="48.5" cy="405.2" r="0.75"/><circle cx="59.1" cy="396.3" r="0.75"/><circle cx="65.5" cy="398.7" r="0.75"/><circle cx="43.6" cy="406.0" r="0.75"/><circle cx="50.0" cy="408.1" r="0.75"/><circle cx="90.1" cy="377.8" r="0.75"/><circle cx="60.7" cy="401.3" r="0.75"/><circle cx="48.3" cy="414.6" r="0.75"/><circle cx="58.6" cy="391.6" r="0.75"/><circle cx="45.2" cy="408.7" r="0.75"/><circle cx="51.9" cy="402.9" r="0.75"/><circle cx="80.6" cy="375.2" r="0.75"/><circle cx="50.5" cy="407.0" r="0.75"/><circle cx="35.1" cy="414.6" r="0.75"/><circle cx="47.7" cy="410.2" r="0.75"/><circle cx="59.5" cy="392.5" r="0.75"/><circle cx="60.5" cy="395.3" r="0.75"/><circle cx="39.8" cy="406.5" r="0.75"/><circle cx="64.8" cy="393.3" r="0.75"/><circle cx="37.4" cy="420.3" r="0.75"/><circle cx="49.6" cy="409.1" r="0.75"/><circle cx="52.1" cy="405.1" r="0.75"/><circle cx="38.1" cy="411.0" r="0.75"/><circle cx="34.7" cy="414.1" r="0.75"/><circle cx="102.9" cy="370.1" r="0.75"/><circle cx="53.6" cy="401.4" r="0.75"/><circle cx="45.6" cy="413.5" r="0.75"/><circle cx="62.2" cy="399.2" r="0.75"/><circle cx="40.8" cy="408.6" r="0.75"/><circle cx="56.2" cy="397.3" r="0.75"/><circle cx="62.2" cy="394.1" r="0.75"/><circle cx="68.1" cy="399.9" r="0.75"/><circle cx="34.7" cy="417.2" r="0.75"/><circle cx="46.4" cy="418.4" r="0.75"/><circle cx="110.1" cy="356.4" r="0.75"/><circle cx="42.2" cy="409.5" r="0.75"/><circle cx="50.9" cy="404.9" r="0.75"/><circle cx="34.8" cy="417.2" r="0.75"/><circle cx="42.0" cy="411.7" r="0.75"/><circle cx="109.4" cy="379.5" r="0.75"/><circle cx="127.8" cy="356.4" r="0.75"/><circle cx="61.8" cy="396.6" r="0.75"/><circle cx="76.2" cy="394.7" r="0.75"/><circle cx="57.0" cy="396.5" r="0.75"/><circle cx="34.5" cy="414.9" r="0.75"/><circle cx="45.5" cy="413.7" r="0.75"/><circle cx="35.6" cy="418.9" r="0.75"/><circle cx="52.9" cy="399.4" r="0.75"/><circle cx="34.6" cy="420.4" r="0.75"/><circle cx="36.9" cy="420.3" r="0.75"/><circle cx="63.3" cy="394.4" r="0.75"/><circle cx="36.9" cy="416.3" r="0.75"/><circle cx="70.4" cy="391.1" r="0.75"/><circle cx="43.5" cy="412.7" r="0.75"/><circle cx="62.3" cy="391.4" r="0.75"/><circle cx="60.0" cy="393.9" r="0.75"/><circle cx="41.7" cy="408.9" r="0.75"/><circle cx="79.5" cy="391.3" r="0.75"/><circle cx="44.6" cy="408.8" r="0.75"/><circle cx="58.1" cy="395.6" r="0.75"/><circle cx="40.5" cy="419.6" r="0.75"/><circle cx="51.0" cy="401.7" r="0.75"/><circle cx="74.3" cy="392.7" r="0.75"/><circle cx="41.2" cy="411.8" r="0.75"/><circle cx="44.5" cy="410.8" r="0.75"/><circle cx="82.3" cy="374.6" r="0.75"/><circle cx="42.1" cy="407.5" r="0.75"/><circle cx="35.7" cy="414.9" r="0.75"/><circle cx="70.8" cy="393.3" r="0.75"/><circle cx="54.7" cy="399.7" r="0.75"/><circle cx="60.0" cy="398.3" r="0.75"/><circle cx="49.4" cy="405.9" r="0.75"/><circle cx="73.4" cy="392.2" r="0.75"/><circle cx="58.3" cy="391.7" r="0.75"/><circle cx="53.2" cy="402.8" r="0.75"/><circle cx="87.3" cy="380.4" r="0.75"/><circle cx="61.2" cy="397.1" r="0.75"/><circle cx="37.3" cy="405.3" r="0.75"/><circle cx="89.7" cy="357.2" r="0.75"/><circle cx="51.0" cy="402.9" r="0.75"/><circle cx="61.2" cy="395.1" r="0.75"/><circle cx="105.5" cy="369.8" r="0.75"/><circle cx="62.0" cy="395.9" r="0.75"/><circle cx="68.4" cy="388.8" r="0.75"/><circle cx="60.0" cy="396.1" r="0.75"/><circle cx="60.1" cy="397.4" r="0.75"/><circle cx="41.2" cy="411.9" r="0.75"/><circle cx="34.6" cy="414.1" r="0.75"/><circle cx="46.1" cy="408.9" r="0.75"/><circle cx="53.5" cy="404.9" r="0.75"/><circle cx="57.0" cy="400.3" r="0.75"/><circle cx="48.3" cy="406.0" r="0.75"/><circle cx="34.6" cy="412.8" r="0.75"/><circle cx="51.3" cy="403.4" r="0.75"/><circle cx="81.7" cy="377.4" r="0.75"/><circle cx="38.8" cy="409.9" r="0.75"/><circle cx="61.5" cy="395.2" r="0.75"/><circle cx="37.8" cy="418.7" r="0.75"/><circle cx="61.6" cy="399.6" r="0.75"/><circle cx="56.2" cy="400.8" r="0.75"/><circle cx="93.1" cy="364.8" r="0.75"/><circle cx="51.7" cy="404.1" r="0.75"/><circle cx="35.7" cy="418.6" r="0.75"/><circle cx="35.4" cy="418.8" r="0.75"/><circle cx="46.3" cy="411.7" r="0.75"/><circle cx="56.7" cy="400.5" r="0.75"/><circle cx="36.0" cy="413.5" r="0.75"/><circle cx="56.3" cy="399.4" r="0.75"/><circle cx="48.0" cy="405.2" r="0.75"/><circle cx="53.0" cy="406.8" r="0.75"/><circle cx="35.0" cy="412.8" r="0.75"/><circle cx="98.3" cy="335.6" r="0.75"/><circle cx="42.9" cy="409.4" r="0.75"/><circle cx="116.1" cy="376.1" r="0.75"/><circle cx="49.1" cy="408.1" r="0.75"/><circle cx="34.8" cy="417.9" r="0.75"/><circle cx="41.4" cy="417.6" r="0.75"/><circle cx="57.7" cy="399.4" r="0.75"/><circle cx="38.2" cy="416.0" r="0.75"/><circle cx="38.5" cy="410.7" r="0.75"/><circle cx="40.8" cy="419.0" r="0.75"/><circle cx="38.8" cy="420.1" r="0.75"/><circle cx="57.1" cy="399.8" r="0.75"/><circle cx="39.3" cy="410.8" r="0.75"/><circle cx="41.7" cy="406.6" r="0.75"/><circle cx="76.4" cy="385.8" r="0.75"/><circle cx="138.8" cy="329.2" r="0.75"/><circle cx="46.4" cy="408.3" r="0.75"/><circle cx="55.6" cy="404.9" r="0.75"/><circle cx="47.1" cy="396.1" r="0.75"/><circle cx="66.2" cy="394.8" r="0.75"/><circle cx="73.3" cy="387.2" r="0.75"/><circle cx="48.7" cy="407.9" r="0.75"/><circle cx="35.1" cy="416.1" r="0.75"/><circle cx="48.7" cy="411.2" r="0.75"/><circle cx="40.7" cy="419.4" r="0.75"/><circle cx="45.8" cy="412.9" r="0.75"/><circle cx="55.6" cy="399.6" r="0.75"/><circle cx="45.5" cy="413.6" r="0.75"/><circle cx="78.8" cy="396.2" r="0.75"/><circle cx="48.0" cy="406.1" r="0.75"/><circle cx="64.2" cy="398.2" r="0.75"/><circle cx="57.7" cy="402.9" r="0.75"/><circle cx="62.4" cy="397.1" r="0.75"/><circle cx="66.4" cy="392.8" r="0.75"/><circle cx="63.0" cy="393.7" r="0.75"/><circle cx="41.6" cy="411.6" r="0.75"/><circle cx="59.9" cy="395.3" r="0.75"/><circle cx="69.5" cy="383.3" r="0.75"/><circle cx="38.1" cy="417.9" r="0.75"/><circle cx="61.0" cy="401.7" r="0.75"/><circle cx="47.3" cy="410.3" r="0.75"/><circle cx="59.9" cy="398.1" r="0.75"/><circle cx="56.3" cy="396.9" r="0.75"/><circle cx="59.3" cy="397.1" r="0.75"/><circle cx="48.6" cy="411.1" r="0.75"/><circle cx="36.2" cy="419.0" r="0.75"/><circle cx="53.5" cy="396.8" r="0.75"/><circle cx="62.6" cy="397.7" r="0.75"/><circle cx="53.6" cy="401.5" r="0.75"/><circle cx="60.3" cy="394.4" r="0.75"/><circle cx="49.2" cy="414.2" r="0.75"/><circle cx="40.0" cy="413.9" r="0.75"/><circle cx="34.7" cy="419.0" r="0.75"/><circle cx="63.0" cy="392.8" r="0.75"/><circle cx="34.5" cy="415.2" r="0.75"/><circle cx="68.9" cy="390.3" r="0.75"/><circle cx="46.5" cy="404.7" r="0.75"/><circle cx="38.3" cy="412.5" r="0.75"/><circle cx="34.4" cy="415.5" r="0.75"/><circle cx="58.6" cy="392.0" r="0.75"/><circle cx="54.9" cy="401.5" r="0.75"/><circle cx="78.1" cy="377.6" r="0.75"/><circle cx="51.5" cy="410.0" r="0.75"/><circle cx="34.7" cy="417.1" r="0.75"/><circle cx="58.2" cy="395.3" r="0.75"/><circle cx="78.3" cy="382.7" r="0.75"/><circle cx="48.7" cy="406.5" r="0.75"/><circle cx="39.1" cy="416.4" r="0.75"/><circle cx="37.3" cy="415.0" r="0.75"/><circle cx="63.2" cy="396.9" r="0.75"/><circle cx="60.6" cy="399.2" r="0.75"/><circle cx="63.6" cy="395.9" r="0.75"/><circle cx="45.8" cy="417.0" r="0.75"/><circle cx="49.6" cy="408.7" r="0.75"/><circle cx="74.8" cy="388.7" r="0.75"/><circle cx="48.4" cy="410.2" r="0.75"/><circle cx="77.4" cy="386.2" r="0.75"/><circle cx="105.0" cy="345.9" r="0.75"/><circle cx="47.4" cy="401.1" r="0.75"/><circle cx="46.1" cy="416.0" r="0.75"/><circle cx="40.2" cy="412.7" r="0.75"/><circle cx="36.5" cy="416.7" r="0.75"/><circle cx="54.1" cy="410.0" r="0.75"/><circle cx="62.9" cy="398.5" r="0.75"/><circle cx="42.7" cy="407.7" r="0.75"/><circle cx="42.8" cy="410.2" r="0.75"/><circle cx="41.7" cy="406.6" r="0.75"/><circle cx="34.5" cy="420.3" r="0.75"/><circle cx="44.7" cy="406.2" r="0.75"/><circle cx="77.9" cy="377.9" r="0.75"/><circle cx="75.2" cy="378.3" r="0.75"/><circle cx="113.5" cy="370.5" r="0.75"/><circle cx="43.9" cy="409.7" r="0.75"/><circle cx="58.9" cy="398.6" r="0.75"/><circle cx="45.3" cy="404.8" r="0.75"/><circle cx="62.1" cy="397.5" r="0.75"/><circle cx="38.0" cy="417.8" r="0.75"/><circle cx="47.6" cy="402.9" r="0.75"/><circle cx="61.8" cy="402.4" r="0.75"/><circle cx="35.5" cy="419.3" r="0.75"/><circle cx="72.0" cy="379.8" r="0.75"/><circle cx="51.3" cy="405.9" r="0.75"/><circle cx="43.9" cy="411.9" r="0.75"/><circle cx="46.4" cy="410.0" r="0.75"/><circle cx="65.1" cy="394.0" r="0.75"/><circle cx="41.7" cy="419.9" r="0.75"/><circle cx="59.1" cy="399.3" r="0.75"/><circle cx="53.2" cy="405.6" r="0.75"/><circle cx="40.8" cy="417.8" r="0.75"/><circle cx="46.4" cy="410.2" r="0.75"/><circle cx="46.6" cy="405.3" r="0.75"/><circle cx="60.3" cy="392.7" r="0.75"/><circle cx="61.2" cy="397.7" r="0.75"/><circle cx="49.3" cy="406.8" r="0.75"/><circle cx="74.4" cy="384.5" r="0.75"/><circle cx="45.0" cy="411.4" r="0.75"/><circle cx="92.9" cy="382.9" r="0.75"/><circle cx="63.4" cy="397.4" r="0.75"/><circle cx="47.6" cy="408.3" r="0.75"/><circle cx="36.1" cy="408.6" r="0.75"/><circle cx="67.5" cy="393.3" r="0.75"/><circle cx="42.7" cy="419.6" r="0.75"/><circle cx="73.1" cy="388.7" r="0.75"/><circle cx="57.5" cy="398.9" r="0.75"/><circle cx="87.9" cy="381.7" r="0.75"/><circle cx="42.7" cy="406.4" r="0.75"/><circle cx="34.7" cy="419.8" r="0.75"/><circle cx="34.9" cy="412.0" r="0.75"/><circle cx="44.3" cy="408.1" r="0.75"/><circle cx="39.0" cy="419.9" r="0.75"/><circle cx="51.6" cy="398.7" r="0.75"/><circle cx="128.7" cy="345.1" r="0.75"/><circle cx="103.3" cy="375.1" r="0.75"/><circle cx="46.3" cy="413.5" r="0.75"/><circle cx="65.9" cy="390.8" r="0.75"/><circle cx="37.6" cy="406.6" r="0.75"/><circle cx="40.5" cy="410.7" r="0.75"/><circle cx="51.3" cy="415.5" r="0.75"/><circle cx="48.8" cy="409.3" r="0.75"/><circle cx="45.1" cy="408.8" r="0.75"/><circle cx="61.0" cy="392.6" r="0.75"/><circle cx="51.3" cy="403.2" r="0.75"/><circle cx="57.3" cy="403.0" r="0.75"/><circle cx="51.2" cy="407.1" r="0.75"/><circle cx="38.9" cy="420.1" r="0.75"/><circle cx="35.2" cy="420.3" r="0.75"/><circle cx="69.6" cy="393.2" r="0.75"/><circle cx="40.7" cy="416.3" r="0.75"/><circle cx="44.3" cy="416.8" r="0.75"/><circle cx="52.6" cy="405.2" r="0.75"/><circle cx="37.0" cy="415.8" r="0.75"/><circle cx="40.1" cy="411.6" r="0.75"/><circle cx="36.7" cy="412.7" r="0.75"/><circle cx="36.6" cy="414.7" r="0.75"/><circle cx="50.4" cy="407.9" r="0.75"/><circle cx="40.1" cy="410.3" r="0.75"/><circle cx="34.7" cy="419.1" r="0.75"/><circle cx="44.7" cy="414.0" r="0.75"/><circle cx="36.7" cy="419.7" r="0.75"/><circle cx="108.9" cy="311.7" r="0.75"/><circle cx="58.9" cy="393.3" r="0.75"/><circle cx="84.0" cy="384.2" r="0.75"/><circle cx="38.9" cy="419.4" r="0.75"/><circle cx="60.9" cy="401.9" r="0.75"/><circle cx="52.0" cy="405.7" r="0.75"/><circle cx="52.8" cy="406.7" r="0.75"/><circle cx="50.2" cy="413.5" r="0.75"/><circle cx="41.6" cy="416.4" r="0.75"/><circle cx="50.3" cy="404.3" r="0.75"/><circle cx="45.6" cy="406.3" r="0.75"/><circle cx="73.0" cy="392.2" r="0.75"/><circle cx="34.9" cy="416.8" r="0.75"/><circle cx="40.7" cy="409.8" r="0.75"/><circle cx="72.1" cy="393.0" r="0.75"/><circle cx="34.4" cy="419.7" r="0.75"/><circle cx="34.6" cy="417.4" r="0.75"/><circle cx="47.3" cy="402.8" r="0.75"/><circle cx="34.9" cy="416.2" r="0.75"/><circle cx="57.9" cy="397.6" r="0.75"/><circle cx="41.8" cy="407.8" r="0.75"/><circle cx="53.5" cy="400.7" r="0.75"/><circle cx="51.9" cy="401.7" r="0.75"/><circle cx="38.8" cy="408.9" r="0.75"/><circle cx="83.3" cy="379.3" r="0.75"/><circle cx="142.4" cy="350.9" r="0.75"/><circle cx="56.3" cy="399.6" r="0.75"/><circle cx="56.5" cy="402.6" r="0.75"/><circle cx="58.1" cy="396.1" r="0.75"/><circle cx="56.6" cy="395.3" r="0.75"/><circle cx="35.0" cy="418.6" r="0.75"/><circle cx="53.6" cy="411.7" r="0.75"/><circle cx="50.4" cy="409.7" r="0.75"/><circle cx="36.1" cy="420.2" r="0.75"/><circle cx="78.6" cy="383.9" r="0.75"/><circle cx="43.2" cy="405.8" r="0.75"/><circle cx="53.0" cy="402.1" r="0.75"/><circle cx="66.1" cy="394.7" r="0.75"/><circle cx="48.9" cy="409.9" r="0.75"/><circle cx="45.2" cy="409.4" r="0.75"/><circle cx="43.0" cy="414.7" r="0.75"/><circle cx="64.4" cy="394.9" r="0.75"/><circle cx="63.2" cy="392.3" r="0.75"/><circle cx="58.9" cy="399.4" r="0.75"/><circle cx="47.1" cy="407.0" r="0.75"/><circle cx="73.5" cy="385.2" r="0.75"/><circle cx="47.6" cy="409.2" r="0.75"/><circle cx="39.7" cy="414.9" r="0.75"/><circle cx="79.9" cy="378.3" r="0.75"/><circle cx="55.9" cy="398.1" r="0.75"/><circle cx="42.7" cy="408.4" r="0.75"/><circle cx="57.4" cy="400.6" r="0.75"/><circle cx="49.0" cy="413.1" r="0.75"/><circle cx="58.1" cy="397.8" r="0.75"/><circle cx="62.3" cy="395.3" r="0.75"/><circle cx="62.8" cy="395.1" r="0.75"/><circle cx="40.8" cy="409.5" r="0.75"/><circle cx="59.3" cy="406.8" r="0.75"/><circle cx="58.4" cy="392.1" r="0.75"/><circle cx="47.6" cy="406.5" r="0.75"/><circle cx="39.4" cy="418.4" r="0.75"/><circle cx="77.2" cy="381.2" r="0.75"/><circle cx="76.6" cy="387.0" r="0.75"/><circle cx="43.0" cy="413.0" r="0.75"/><circle cx="40.7" cy="413.9" r="0.75"/><circle cx="47.6" cy="408.8" r="0.75"/><circle cx="45.6" cy="409.8" r="0.75"/><circle cx="41.1" cy="416.8" r="0.75"/><circle cx="36.5" cy="413.8" r="0.75"/><circle cx="92.0" cy="372.2" r="0.75"/><circle cx="61.5" cy="397.3" r="0.75"/><circle cx="46.7" cy="410.5" r="0.75"/><circle cx="74.0" cy="370.2" r="0.75"/><circle cx="66.3" cy="394.4" r="0.75"/><circle cx="59.3" cy="397.0" r="0.75"/><circle cx="98.3" cy="387.4" r="0.75"/><circle cx="54.9" cy="405.4" r="0.75"/><circle cx="41.3" cy="414.3" r="0.75"/><circle cx="87.8" cy="378.7" r="0.75"/><circle cx="50.1" cy="402.1" r="0.75"/><circle cx="65.1" cy="394.7" r="0.75"/><circle cx="55.1" cy="396.5" r="0.75"/><circle cx="109.2" cy="357.5" r="0.75"/><circle cx="42.0" cy="407.7" r="0.75"/><circle cx="34.4" cy="415.5" r="0.75"/><circle cx="60.4" cy="397.4" r="0.75"/><circle cx="37.7" cy="417.5" r="0.75"/><circle cx="34.9" cy="417.2" r="0.75"/><circle cx="54.0" cy="403.7" r="0.75"/><circle cx="55.2" cy="403.2" r="0.75"/><circle cx="45.3" cy="408.7" r="0.75"/><circle cx="35.3" cy="416.5" r="0.75"/><circle cx="58.6" cy="400.4" r="0.75"/><circle cx="93.4" cy="388.4" r="0.75"/><circle cx="64.0" cy="395.5" r="0.75"/><circle cx="48.2" cy="403.4" r="0.75"/><circle cx="62.5" cy="396.1" r="0.75"/><circle cx="62.7" cy="399.6" r="0.75"/><circle cx="79.3" cy="370.2" r="0.75"/><circle cx="52.7" cy="407.1" r="0.75"/><circle cx="47.7" cy="405.6" r="0.75"/><circle cx="35.4" cy="411.1" r="0.75"/><circle cx="66.3" cy="396.7" r="0.75"/><circle cx="133.6" cy="309.3" r="0.75"/><circle cx="40.0" cy="415.4" r="0.75"/><circle cx="45.9" cy="410.5" r="0.75"/><circle cx="41.0" cy="411.7" r="0.75"/><circle cx="56.0" cy="400.2" r="0.75"/><circle cx="105.1" cy="366.9" r="0.75"/><circle cx="58.0" cy="392.4" r="0.75"/><circle cx="60.4" cy="397.2" r="0.75"/><circle cx="51.0" cy="402.0" r="0.75"/><circle cx="41.1" cy="417.0" r="0.75"/><circle cx="83.0" cy="382.7" r="0.75"/><circle cx="58.0" cy="398.5" r="0.75"/><circle cx="45.0" cy="410.0" r="0.75"/><circle cx="47.3" cy="408.2" r="0.75"/><circle cx="58.5" cy="399.1" r="0.75"/><circle cx="50.8" cy="409.1" r="0.75"/><circle cx="50.2" cy="402.7" r="0.75"/><circle cx="82.6" cy="372.4" r="0.75"/><circle cx="44.6" cy="414.5" r="0.75"/><circle cx="97.6" cy="378.3" r="0.75"/><circle cx="64.1" cy="400.0" r="0.75"/><circle cx="58.0" cy="398.4" r="0.75"/><circle cx="58.7" cy="401.1" r="0.75"/><circle cx="49.4" cy="400.5" r="0.75"/><circle cx="63.6" cy="394.8" r="0.75"/><circle cx="42.0" cy="410.6" r="0.75"/><circle cx="53.4" cy="405.5" r="0.75"/><circle cx="37.3" cy="408.1" r="0.75"/><circle cx="110.4" cy="358.5" r="0.75"/><circle cx="34.6" cy="413.4" r="0.75"/><circle cx="36.9" cy="418.4" r="0.75"/><circle cx="62.9" cy="396.2" r="0.75"/><circle cx="84.7" cy="368.6" r="0.75"/><circle cx="36.5" cy="411.5" r="0.75"/><circle cx="37.5" cy="411.6" r="0.75"/><circle cx="65.1" cy="390.5" r="0.75"/><circle cx="42.3" cy="411.8" r="0.75"/><circle cx="74.9" cy="382.7" r="0.75"/><circle cx="35.2" cy="419.6" r="0.75"/><circle cx="65.1" cy="393.8" r="0.75"/><circle cx="83.1" cy="368.0" r="0.75"/><circle cx="47.9" cy="408.3" r="0.75"/><circle cx="52.8" cy="403.3" r="0.75"/><circle cx="49.6" cy="399.8" r="0.75"/><circle cx="73.3" cy="394.1" r="0.75"/><circle cx="92.0" cy="387.1" r="0.75"/><circle cx="37.3" cy="420.1" r="0.75"/><circle cx="44.2" cy="410.4" r="0.75"/><circle cx="63.1" cy="400.2" r="0.75"/><circle cx="45.4" cy="410.1" r="0.75"/><circle cx="34.5" cy="413.3" r="0.75"/><circle cx="40.7" cy="409.5" r="0.75"/><circle cx="59.5" cy="400.3" r="0.75"/><circle cx="54.0" cy="395.6" r="0.75"/><circle cx="50.0" cy="405.5" r="0.75"/><circle cx="54.0" cy="403.8" r="0.75"/><circle cx="56.0" cy="405.3" r="0.75"/><circle cx="53.5" cy="398.6" r="0.75"/><circle cx="40.1" cy="420.2" r="0.75"/><circle cx="63.4" cy="399.7" r="0.75"/><circle cx="58.3" cy="396.7" r="0.75"/><circle cx="37.7" cy="415.6" r="0.75"/><circle cx="64.3" cy="400.9" r="0.75"/><circle cx="49.8" cy="402.5" r="0.75"/><circle cx="35.7" cy="417.3" r="0.75"/><circle cx="48.1" cy="408.7" r="0.75"/><circle cx="53.4" cy="404.4" r="0.75"/><circle cx="42.2" cy="411.3" r="0.75"/><circle cx="41.5" cy="419.6" r="0.75"/><circle cx="62.9" cy="397.9" r="0.75"/><circle cx="90.4" cy="378.5" r="0.75"/><circle cx="50.7" cy="409.3" r="0.75"/><circle cx="41.9" cy="408.5" r="0.75"/><circle cx="52.2" cy="402.0" r="0.75"/><circle cx="54.3" cy="401.0" r="0.75"/><circle cx="38.0" cy="414.2" r="0.75"/><circle cx="34.6" cy="418.5" r="0.75"/><circle cx="144.6" cy="359.8" r="0.75"/><circle cx="71.8" cy="386.4" r="0.75"/><circle cx="81.9" cy="378.0" r="0.75"/><circle cx="49.0" cy="411.7" r="0.75"/><circle cx="47.1" cy="405.5" r="0.75"/><circle cx="139.5" cy="342.7" r="0.75"/><circle cx="45.5" cy="408.8" r="0.75"/><circle cx="35.0" cy="414.9" r="0.75"/><circle cx="68.9" cy="375.7" r="0.75"/><circle cx="46.6" cy="408.9" r="0.75"/><circle cx="55.9" cy="397.0" r="0.75"/><circle cx="50.0" cy="418.1" r="0.75"/><circle cx="61.2" cy="383.3" r="0.75"/><circle cx="49.5" cy="404.4" r="0.75"/><circle cx="52.4" cy="399.9" r="0.75"/><circle cx="47.6" cy="405.1" r="0.75"/><circle cx="35.1" cy="413.8" r="0.75"/><circle cx="42.4" cy="407.0" r="0.75"/><circle cx="40.8" cy="420.3" r="0.75"/><circle cx="54.9" cy="405.2" r="0.75"/><circle cx="37.8" cy="420.4" r="0.75"/><circle cx="67.6" cy="395.1" r="0.75"/><circle cx="104.2" cy="376.1" r="0.75"/><circle cx="61.9" cy="395.8" r="0.75"/><circle cx="39.5" cy="405.4" r="0.75"/><circle cx="44.9" cy="405.0" r="0.75"/><circle cx="36.7" cy="416.2" r="0.75"/><circle cx="44.8" cy="408.2" r="0.75"/><circle cx="60.6" cy="400.9" r="0.75"/><circle cx="43.3" cy="415.4" r="0.75"/><circle cx="46.4" cy="401.7" r="0.75"/><circle cx="61.2" cy="398.4" r="0.75"/><circle cx="38.2" cy="416.6" r="0.75"/><circle cx="36.2" cy="407.8" r="0.75"/><circle cx="62.9" cy="376.5" r="0.75"/><circle cx="39.9" cy="412.3" r="0.75"/><circle cx="45.5" cy="409.0" r="0.75"/><circle cx="51.5" cy="403.7" r="0.75"/><circle cx="35.7" cy="418.2" r="0.75"/><circle cx="77.0" cy="369.9" r="0.75"/><circle cx="61.3" cy="395.3" r="0.75"/><circle cx="58.7" cy="392.6" r="0.75"/><circle cx="76.3" cy="370.5" r="0.75"/><circle cx="50.1" cy="405.7" r="0.75"/><circle cx="44.2" cy="407.1" r="0.75"/><circle cx="36.2" cy="412.9" r="0.75"/><circle cx="59.4" cy="401.2" r="0.75"/><circle cx="39.3" cy="413.3" r="0.75"/><circle cx="53.7" cy="402.8" r="0.75"/><circle cx="61.8" cy="401.2" r="0.75"/><circle cx="39.0" cy="414.7" r="0.75"/><circle cx="62.1" cy="397.8" r="0.75"/><circle cx="49.3" cy="410.0" r="0.75"/><circle cx="49.8" cy="407.3" r="0.75"/><circle cx="57.9" cy="397.8" r="0.75"/><circle cx="49.9" cy="409.0" r="0.75"/><circle cx="35.4" cy="411.4" r="0.75"/><circle cx="60.4" cy="399.0" r="0.75"/><circle cx="58.3" cy="403.3" r="0.75"/><circle cx="60.0" cy="393.7" r="0.75"/><circle cx="57.0" cy="398.0" r="0.75"/><circle cx="75.5" cy="394.5" r="0.75"/><circle cx="50.4" cy="411.5" r="0.75"/><circle cx="49.2" cy="407.0" r="0.75"/><circle cx="62.6" cy="397.7" r="0.75"/><circle cx="59.1" cy="398.7" r="0.75"/><circle cx="51.2" cy="399.5" r="0.75"/><circle cx="54.8" cy="402.7" r="0.75"/><circle cx="45.8" cy="400.5" r="0.75"/><circle cx="44.0" cy="408.0" r="0.75"/><circle cx="51.7" cy="402.8" r="0.75"/><circle cx="48.5" cy="409.1" r="0.75"/><circle cx="75.9" cy="372.3" r="0.75"/><circle cx="53.3" cy="400.4" r="0.75"/><circle cx="65.0" cy="393.6" r="0.75"/><circle cx="76.9" cy="390.6" r="0.75"/><circle cx="38.9" cy="417.9" r="0.75"/><circle cx="37.8" cy="412.8" r="0.75"/><circle cx="54.8" cy="408.7" r="0.75"/><circle cx="62.6" cy="395.0" r="0.75"/><circle cx="40.8" cy="418.3" r="0.75"/><circle cx="34.5" cy="416.6" r="0.75"/><circle cx="48.6" cy="412.0" r="0.75"/><circle cx="45.5" cy="403.9" r="0.75"/><circle cx="34.6" cy="414.0" r="0.75"/><circle cx="60.6" cy="397.5" r="0.75"/><circle cx="56.6" cy="400.5" r="0.75"/><circle cx="64.4" cy="396.4" r="0.75"/><circle cx="55.3" cy="398.7" r="0.75"/><circle cx="66.2" cy="396.0" r="0.75"/><circle cx="51.9" cy="400.7" r="0.75"/><circle cx="76.8" cy="392.8" r="0.75"/><circle cx="92.8" cy="376.0" r="0.75"/><circle cx="142.2" cy="351.3" r="0.75"/><circle cx="47.7" cy="408.1" r="0.75"/><circle cx="66.9" cy="390.9" r="0.75"/><circle cx="55.7" cy="403.3" r="0.75"/><circle cx="34.8" cy="417.0" r="0.75"/><circle cx="46.6" cy="407.3" r="0.75"/><circle cx="44.7" cy="411.0" r="0.75"/><circle cx="58.9" cy="402.0" r="0.75"/><circle cx="57.0" cy="395.6" r="0.75"/><circle cx="46.1" cy="415.2" r="0.75"/><circle cx="47.3" cy="407.0" r="0.75"/><circle cx="71.2" cy="374.5" r="0.75"/><circle cx="56.1" cy="402.3" r="0.75"/><circle cx="107.7" cy="359.1" r="0.75"/><circle cx="49.9" cy="409.3" r="0.75"/><circle cx="64.5" cy="400.4" r="0.75"/><circle cx="62.0" cy="395.3" r="0.75"/><circle cx="47.9" cy="408.0" r="0.75"/><circle cx="41.0" cy="412.6" r="0.75"/><circle cx="63.8" cy="394.4" r="0.75"/><circle cx="79.1" cy="390.0" r="0.75"/><circle cx="67.0" cy="385.8" r="0.75"/><circle cx="59.8" cy="399.8" r="0.75"/><circle cx="47.4" cy="416.0" r="0.75"/><circle cx="61.3" cy="395.1" r="0.75"/><circle cx="38.1" cy="415.1" r="0.75"/><circle cx="47.3" cy="407.8" r="0.75"/><circle cx="90.2" cy="385.0" r="0.75"/><circle cx="38.0" cy="420.3" r="0.75"/><circle cx="49.6" cy="407.8" r="0.75"/><circle cx="40.9" cy="414.0" r="0.75"/><circle cx="34.8" cy="417.9" r="0.75"/><circle cx="55.9" cy="408.3" r="0.75"/><circle cx="63.3" cy="397.3" r="0.75"/><circle cx="112.0" cy="355.4" r="0.75"/><circle cx="47.1" cy="415.9" r="0.75"/><circle cx="59.5" cy="398.9" r="0.75"/><circle cx="38.0" cy="417.1" r="0.75"/><circle cx="64.8" cy="394.4" r="0.75"/><circle cx="42.5" cy="413.6" r="0.75"/><circle cx="48.8" cy="407.3" r="0.75"/><circle cx="49.2" cy="399.3" r="0.75"/><circle cx="38.4" cy="417.4" r="0.75"/><circle cx="36.7" cy="410.0" r="0.75"/><circle cx="87.0" cy="384.5" r="0.75"/><circle cx="51.4" cy="411.3" r="0.75"/><circle cx="43.9" cy="416.0" r="0.75"/><circle cx="46.5" cy="411.5" r="0.75"/><circle cx="56.8" cy="399.0" r="0.75"/><circle cx="48.5" cy="407.0" r="0.75"/><circle cx="39.1" cy="419.8" r="0.75"/><circle cx="40.8" cy="415.4" r="0.75"/><circle cx="103.2" cy="356.3" r="0.75"/><circle cx="45.5" cy="420.2" r="0.75"/><circle cx="44.1" cy="408.3" r="0.75"/><circle cx="43.7" cy="405.4" r="0.75"/><circle cx="55.3" cy="402.3" r="0.75"/><circle cx="40.1" cy="415.7" r="0.75"/><circle cx="94.2" cy="379.3" r="0.75"/><circle cx="47.7" cy="407.6" r="0.75"/><circle cx="56.4" cy="406.7" r="0.75"/><circle cx="61.2" cy="394.2" r="0.75"/><circle cx="53.8" cy="409.6" r="0.75"/><circle cx="58.7" cy="398.8" r="0.75"/><circle cx="45.8" cy="402.6" r="0.75"/><circle cx="34.5" cy="415.6" r="0.75"/><circle cx="55.6" cy="406.4" r="0.75"/><circle cx="41.4" cy="410.0" r="0.75"/><circle cx="34.4" cy="417.4" r="0.75"/><circle cx="45.8" cy="410.3" r="0.75"/><circle cx="39.1" cy="413.9" r="0.75"/><circle cx="43.6" cy="409.1" r="0.75"/><circle cx="52.6" cy="401.7" r="0.75"/><circle cx="61.1" cy="392.4" r="0.75"/><circle cx="72.0" cy="384.2" r="0.75"/><circle cx="56.8" cy="395.9" r="0.75"/><circle cx="45.0" cy="408.0" r="0.75"/><circle cx="34.9" cy="418.1" r="0.75"/><circle cx="74.3" cy="393.6" r="0.75"/><circle cx="43.7" cy="408.2" r="0.75"/><circle cx="67.5" cy="398.8" r="0.75"/><circle cx="34.5" cy="418.1" r="0.75"/><circle cx="83.8" cy="380.9" r="0.75"/><circle cx="66.6" cy="400.0" r="0.75"/><circle cx="69.8" cy="392.4" r="0.75"/><circle cx="34.7" cy="420.1" r="0.75"/><circle cx="34.6" cy="414.3" r="0.75"/><circle cx="64.7" cy="401.9" r="0.75"/><circle cx="44.7" cy="408.8" r="0.75"/><circle cx="57.1" cy="398.0" r="0.75"/><circle cx="51.6" cy="406.6" r="0.75"/><circle cx="106.1" cy="377.0" r="0.75"/><circle cx="61.8" cy="396.7" r="0.75"/><circle cx="55.4" cy="404.6" r="0.75"/><circle cx="51.6" cy="414.6" r="0.75"/><circle cx="58.7" cy="399.1" r="0.75"/><circle cx="107.1" cy="357.4" r="0.75"/><circle cx="39.2" cy="416.7" r="0.75"/><circle cx="47.1" cy="415.1" r="0.75"/><circle cx="98.8" cy="378.8" r="0.75"/><circle cx="122.2" cy="351.2" r="0.75"/><circle cx="59.5" cy="395.0" r="0.75"/><circle cx="54.8" cy="402.7" r="0.75"/><circle cx="67.3" cy="383.8" r="0.75"/><circle cx="40.1" cy="420.3" r="0.75"/><circle cx="39.2" cy="418.0" r="0.75"/><circle cx="35.5" cy="418.9" r="0.75"/><circle cx="61.9" cy="398.8" r="0.75"/><circle cx="53.0" cy="408.4" r="0.75"/><circle cx="43.1" cy="408.9" r="0.75"/><circle cx="41.0" cy="412.6" r="0.75"/><circle cx="47.4" cy="408.6" r="0.75"/><circle cx="59.7" cy="400.2" r="0.75"/><circle cx="34.8" cy="413.1" r="0.75"/><circle cx="64.7" cy="394.2" r="0.75"/><circle cx="46.0" cy="409.3" r="0.75"/><circle cx="51.3" cy="399.8" r="0.75"/><circle cx="34.7" cy="415.7" r="0.75"/><circle cx="49.1" cy="404.3" r="0.75"/><circle cx="52.2" cy="403.0" r="0.75"/><circle cx="44.0" cy="408.9" r="0.75"/><circle cx="50.0" cy="405.2" r="0.75"/><circle cx="49.5" cy="414.5" r="0.75"/><circle cx="53.0" cy="406.2" r="0.75"/><circle cx="43.5" cy="407.4" r="0.75"/><circle cx="46.1" cy="409.5" r="0.75"/><circle cx="51.5" cy="403.7" r="0.75"/><circle cx="63.8" cy="388.0" r="0.75"/><circle cx="105.7" cy="355.1" r="0.75"/><circle cx="47.7" cy="406.6" r="0.75"/><circle cx="65.7" cy="395.0" r="0.75"/><circle cx="37.9" cy="410.4" r="0.75"/><circle cx="41.4" cy="411.7" r="0.75"/><circle cx="36.2" cy="418.3" r="0.75"/><circle cx="58.2" cy="396.6" r="0.75"/><circle cx="48.2" cy="402.8" r="0.75"/><circle cx="69.1" cy="392.5" r="0.75"/><circle cx="58.3" cy="395.4" r="0.75"/><circle cx="46.5" cy="412.4" r="0.75"/><circle cx="43.8" cy="413.2" r="0.75"/><circle cx="34.7" cy="417.6" r="0.75"/><circle cx="71.0" cy="388.1" r="0.75"/><circle cx="49.7" cy="405.8" r="0.75"/><circle cx="58.6" cy="398.7" r="0.75"/><circle cx="43.8" cy="412.2" r="0.75"/><circle cx="47.9" cy="407.6" r="0.75"/><circle cx="45.3" cy="406.5" r="0.75"/><circle cx="42.7" cy="417.2" r="0.75"/><circle cx="36.9" cy="415.9" r="0.75"/><circle cx="62.6" cy="398.8" r="0.75"/><circle cx="48.8" cy="404.6" r="0.75"/><circle cx="34.6" cy="414.2" r="0.75"/><circle cx="74.0" cy="389.7" r="0.75"/><circle cx="60.8" cy="395.5" r="0.75"/><circle cx="63.4" cy="399.4" r="0.75"/><circle cx="54.2" cy="405.2" r="0.75"/><circle cx="40.4" cy="415.3" r="0.75"/><circle cx="61.3" cy="397.3" r="0.75"/><circle cx="65.0" cy="394.2" r="0.75"/><circle cx="36.0" cy="416.8" r="0.75"/><circle cx="57.5" cy="398.3" r="0.75"/><circle cx="61.3" cy="399.3" r="0.75"/><circle cx="59.2" cy="396.1" r="0.75"/><circle cx="45.4" cy="413.6" r="0.75"/><circle cx="52.3" cy="405.1" r="0.75"/><circle cx="62.2" cy="395.3" r="0.75"/><circle cx="45.3" cy="408.4" r="0.75"/><circle cx="51.9" cy="404.7" r="0.75"/><circle cx="58.1" cy="398.5" r="0.75"/><circle cx="40.3" cy="412.2" r="0.75"/><circle cx="48.8" cy="401.9" r="0.75"/><circle cx="42.3" cy="420.2" r="0.75"/><circle cx="50.5" cy="408.6" r="0.75"/><circle cx="37.9" cy="409.9" r="0.75"/><circle cx="71.2" cy="392.9" r="0.75"/><circle cx="69.6" cy="390.8" r="0.75"/><circle cx="37.4" cy="412.8" r="0.75"/><circle cx="82.5" cy="384.2" r="0.75"/><circle cx="81.5" cy="372.9" r="0.75"/><circle cx="34.5" cy="416.3" r="0.75"/><circle cx="39.4" cy="414.5" r="0.75"/><circle cx="61.4" cy="395.5" r="0.75"/><circle cx="99.2" cy="384.6" r="0.75"/><circle cx="91.1" cy="382.2" r="0.75"/><circle cx="57.5" cy="397.8" r="0.75"/><circle cx="55.3" cy="398.5" r="0.75"/><circle cx="53.1" cy="406.6" r="0.75"/><circle cx="70.8" cy="387.6" r="0.75"/><circle cx="74.4" cy="386.8" r="0.75"/><circle cx="34.5" cy="418.8" r="0.75"/><circle cx="47.0" cy="411.2" r="0.75"/><circle cx="50.3" cy="404.2" r="0.75"/><circle cx="37.4" cy="417.8" r="0.75"/><circle cx="59.2" cy="399.1" r="0.75"/><circle cx="86.1" cy="357.2" r="0.75"/><circle cx="85.5" cy="383.7" r="0.75"/><circle cx="80.5" cy="385.6" r="0.75"/><circle cx="38.5" cy="420.2" r="0.75"/><circle cx="39.7" cy="420.1" r="0.75"/><circle cx="46.7" cy="410.8" r="0.75"/><circle cx="34.4" cy="420.2" r="0.75"/><circle cx="47.1" cy="408.8" r="0.75"/><circle cx="87.2" cy="368.9" r="0.75"/><circle cx="42.6" cy="414.4" r="0.75"/><circle cx="64.2" cy="397.3" r="0.75"/><circle cx="34.6" cy="415.5" r="0.75"/><circle cx="61.9" cy="392.8" r="0.75"/><circle cx="45.5" cy="407.8" r="0.75"/><circle cx="52.6" cy="403.1" r="0.75"/><circle cx="35.0" cy="420.1" r="0.75"/><circle cx="104.7" cy="374.7" r="0.75"/><circle cx="37.6" cy="409.7" r="0.75"/><circle cx="53.1" cy="407.5" r="0.75"/><circle cx="67.2" cy="382.6" r="0.75"/><circle cx="100.3" cy="343.3" r="0.75"/><circle cx="48.8" cy="411.2" r="0.75"/><circle cx="63.8" cy="391.3" r="0.75"/><circle cx="59.3" cy="397.8" r="0.75"/><circle cx="45.9" cy="412.8" r="0.75"/><circle cx="117.4" cy="336.7" r="0.75"/><circle cx="43.7" cy="411.7" r="0.75"/><circle cx="40.3" cy="420.3" r="0.75"/><circle cx="43.0" cy="420.1" r="0.75"/><circle cx="38.5" cy="419.3" r="0.75"/><circle cx="78.6" cy="393.6" r="0.75"/><circle cx="43.1" cy="408.3" r="0.75"/><circle cx="54.3" cy="405.1" r="0.75"/><circle cx="59.5" cy="402.4" r="0.75"/><circle cx="54.4" cy="403.9" r="0.75"/><circle cx="37.5" cy="408.7" r="0.75"/><circle cx="46.0" cy="409.9" r="0.75"/><circle cx="50.8" cy="398.8" r="0.75"/><circle cx="60.5" cy="394.8" r="0.75"/><circle cx="43.2" cy="411.2" r="0.75"/><circle cx="62.1" cy="395.7" r="0.75"/><circle cx="48.0" cy="411.5" r="0.75"/><circle cx="47.0" cy="405.9" r="0.75"/><circle cx="65.2" cy="393.9" r="0.75"/><circle cx="53.0" cy="397.5" r="0.75"/><circle cx="42.0" cy="415.1" r="0.75"/><circle cx="36.4" cy="414.4" r="0.75"/><circle cx="41.7" cy="412.4" r="0.75"/><circle cx="49.1" cy="403.7" r="0.75"/><circle cx="39.4" cy="416.4" r="0.75"/><circle cx="70.7" cy="377.8" r="0.75"/><circle cx="54.9" cy="404.3" r="0.75"/><circle cx="55.1" cy="402.7" r="0.75"/><circle cx="137.6" cy="372.8" r="0.75"/><circle cx="68.7" cy="388.8" r="0.75"/><circle cx="38.5" cy="415.3" r="0.75"/><circle cx="54.0" cy="407.7" r="0.75"/><circle cx="46.2" cy="409.1" r="0.75"/><circle cx="74.0" cy="389.4" r="0.75"/><circle cx="47.6" cy="405.6" r="0.75"/><circle cx="89.3" cy="358.7" r="0.75"/><circle cx="34.5" cy="414.9" r="0.75"/><circle cx="42.5" cy="413.2" r="0.75"/><circle cx="43.2" cy="407.1" r="0.75"/><circle cx="55.3" cy="401.2" r="0.75"/><circle cx="37.2" cy="412.1" r="0.75"/><circle cx="50.5" cy="407.7" r="0.75"/><circle cx="56.5" cy="402.2" r="0.75"/><circle cx="63.3" cy="394.5" r="0.75"/><circle cx="52.6" cy="396.8" r="0.75"/><circle cx="59.8" cy="400.5" r="0.75"/><circle cx="37.8" cy="413.7" r="0.75"/><circle cx="96.0" cy="359.5" r="0.75"/><circle cx="59.1" cy="399.2" r="0.75"/><circle cx="49.0" cy="409.5" r="0.75"/><circle cx="51.2" cy="402.1" r="0.75"/><circle cx="69.6" cy="383.9" r="0.75"/><circle cx="35.6" cy="419.9" r="0.75"/><circle cx="38.0" cy="417.9" r="0.75"/><circle cx="50.3" cy="405.1" r="0.75"/><circle cx="42.7" cy="416.9" r="0.75"/><circle cx="38.1" cy="418.7" r="0.75"/><circle cx="51.0" cy="410.7" r="0.75"/><circle cx="54.6" cy="397.4" r="0.75"/><circle cx="75.5" cy="379.1" r="0.75"/><circle cx="41.9" cy="420.3" r="0.75"/><circle cx="134.2" cy="378.7" r="0.75"/><circle cx="38.5" cy="420.2" r="0.75"/><circle cx="61.8" cy="389.4" r="0.75"/><circle cx="59.0" cy="399.8" r="0.75"/><circle cx="57.8" cy="398.3" r="0.75"/><circle cx="39.6" cy="420.3" r="0.75"/><circle cx="61.2" cy="396.3" r="0.75"/><circle cx="45.0" cy="414.0" r="0.75"/><circle cx="66.4" cy="394.1" r="0.75"/><circle cx="61.6" cy="396.3" r="0.75"/><circle cx="52.8" cy="404.7" r="0.75"/><circle cx="52.4" cy="406.6" r="0.75"/><circle cx="35.1" cy="413.6" r="0.75"/><circle cx="61.9" cy="395.4" r="0.75"/><circle cx="66.2" cy="390.2" r="0.75"/><circle cx="61.6" cy="401.9" r="0.75"/><circle cx="65.2" cy="397.4" r="0.75"/><circle cx="63.0" cy="393.4" r="0.75"/><circle cx="41.6" cy="412.3" r="0.75"/><circle cx="74.2" cy="389.1" r="0.75"/><circle cx="62.0" cy="396.5" r="0.75"/><circle cx="78.5" cy="381.9" r="0.75"/><circle cx="52.9" cy="396.1" r="0.75"/><circle cx="63.4" cy="397.4" r="0.75"/><circle cx="100.4" cy="368.3" r="0.75"/><circle cx="38.8" cy="415.9" r="0.75"/><circle cx="42.5" cy="410.5" r="0.75"/><circle cx="34.9" cy="415.5" r="0.75"/><circle cx="46.4" cy="404.7" r="0.75"/><circle cx="49.3" cy="405.2" r="0.75"/><circle cx="77.5" cy="347.5" r="0.75"/><circle cx="52.4" cy="410.1" r="0.75"/><circle cx="42.6" cy="418.3" r="0.75"/><circle cx="65.6" cy="387.6" r="0.75"/><circle cx="63.2" cy="398.8" r="0.75"/><circle cx="71.6" cy="397.5" r="0.75"/><circle cx="82.9" cy="384.4" r="0.75"/><circle cx="52.4" cy="405.5" r="0.75"/><circle cx="42.8" cy="412.0" r="0.75"/><circle cx="39.0" cy="416.3" r="0.75"/><circle cx="41.2" cy="408.2" r="0.75"/><circle cx="47.4" cy="416.1" r="0.75"/><circle cx="48.6" cy="408.9" r="0.75"/><circle cx="36.3" cy="418.0" r="0.75"/><circle cx="47.7" cy="403.2" r="0.75"/><circle cx="54.8" cy="408.0" r="0.75"/><circle cx="38.3" cy="419.9" r="0.75"/><circle cx="43.1" cy="411.8" r="0.75"/><circle cx="64.5" cy="393.9" r="0.75"/><circle cx="48.1" cy="413.8" r="0.75"/><circle cx="146.7" cy="328.8" r="0.75"/><circle cx="36.5" cy="418.5" r="0.75"/><circle cx="64.1" cy="394.9" r="0.75"/><circle cx="43.2" cy="410.5" r="0.75"/><circle cx="48.7" cy="403.0" r="0.75"/><circle cx="60.5" cy="397.9" r="0.75"/><circle cx="54.2" cy="404.0" r="0.75"/><circle cx="55.9" cy="409.3" r="0.75"/><circle cx="49.5" cy="408.6" r="0.75"/><circle cx="55.2" cy="412.0" r="0.75"/><circle cx="42.2" cy="405.1" r="0.75"/><circle cx="41.0" cy="411.7" r="0.75"/><circle cx="46.1" cy="409.6" r="0.75"/><circle cx="37.0" cy="420.2" r="0.75"/><circle cx="37.0" cy="411.8" r="0.75"/><circle cx="46.0" cy="414.5" r="0.75"/><circle cx="41.6" cy="419.7" r="0.75"/><circle cx="45.8" cy="409.8" r="0.75"/><circle cx="56.3" cy="401.8" r="0.75"/><circle cx="52.1" cy="403.8" r="0.75"/><circle cx="68.3" cy="386.6" r="0.75"/><circle cx="83.4" cy="369.8" r="0.75"/><circle cx="41.6" cy="403.9" r="0.75"/><circle cx="36.9" cy="411.0" r="0.75"/><circle cx="78.4" cy="367.0" r="0.75"/><circle cx="38.1" cy="419.0" r="0.75"/><circle cx="34.8" cy="409.9" r="0.75"/><circle cx="46.4" cy="418.6" r="0.75"/><circle cx="52.9" cy="402.9" r="0.75"/><circle cx="139.3" cy="351.0" r="0.75"/><circle cx="35.2" cy="406.9" r="0.75"/><circle cx="129.6" cy="367.0" r="0.75"/><circle cx="65.6" cy="382.8" r="0.75"/><circle cx="42.5" cy="413.4" r="0.75"/><circle cx="35.1" cy="410.2" r="0.75"/><circle cx="111.6" cy="378.0" r="0.75"/><circle cx="46.1" cy="411.6" r="0.75"/><circle cx="45.7" cy="414.0" r="0.75"/><circle cx="34.6" cy="413.0" r="0.75"/><circle cx="92.2" cy="365.0" r="0.75"/><circle cx="96.9" cy="364.0" r="0.75"/><circle cx="36.2" cy="417.6" r="0.75"/><circle cx="47.1" cy="413.2" r="0.75"/><circle cx="34.5" cy="420.0" r="0.75"/><circle cx="52.8" cy="401.3" r="0.75"/><circle cx="55.4" cy="401.5" r="0.75"/><circle cx="35.1" cy="419.2" r="0.75"/><circle cx="37.3" cy="414.2" r="0.75"/><circle cx="55.3" cy="399.3" r="0.75"/><circle cx="57.0" cy="406.9" r="0.75"/><circle cx="47.4" cy="412.9" r="0.75"/><circle cx="37.6" cy="413.8" r="0.75"/><circle cx="91.4" cy="381.5" r="0.75"/><circle cx="47.8" cy="402.2" r="0.75"/><circle cx="36.6" cy="409.5" r="0.75"/><circle cx="41.4" cy="408.5" r="0.75"/><circle cx="64.6" cy="393.8" r="0.75"/><circle cx="51.5" cy="404.9" r="0.75"/><circle cx="64.2" cy="397.1" r="0.75"/><circle cx="86.9" cy="382.1" r="0.75"/><circle cx="34.9" cy="414.6" r="0.75"/><circle cx="66.2" cy="395.2" r="0.75"/><circle cx="84.3" cy="383.8" r="0.75"/><circle cx="38.5" cy="417.4" r="0.75"/><circle cx="51.2" cy="417.9" r="0.75"/><circle cx="39.8" cy="407.8" r="0.75"/><circle cx="44.1" cy="410.7" r="0.75"/><circle cx="50.3" cy="402.6" r="0.75"/><circle cx="53.1" cy="406.7" r="0.75"/><circle cx="72.1" cy="389.0" r="0.75"/><circle cx="49.7" cy="405.6" r="0.75"/><circle cx="125.6" cy="358.4" r="0.75"/><circle cx="45.8" cy="414.7" r="0.75"/><circle cx="45.7" cy="411.7" r="0.75"/><circle cx="40.4" cy="411.4" r="0.75"/><circle cx="50.8" cy="411.4" r="0.75"/><circle cx="63.2" cy="394.7" r="0.75"/><circle cx="55.3" cy="404.2" r="0.75"/><circle cx="35.8" cy="415.4" r="0.75"/><circle cx="50.0" cy="408.1" r="0.75"/><circle cx="42.8" cy="403.3" r="0.75"/><circle cx="63.9" cy="388.1" r="0.75"/><circle cx="53.1" cy="401.1" r="0.75"/><circle cx="34.7" cy="416.6" r="0.75"/><circle cx="61.7" cy="395.5" r="0.75"/><circle cx="45.6" cy="413.6" r="0.75"/><circle cx="42.0" cy="413.4" r="0.75"/><circle cx="74.3" cy="395.0" r="0.75"/><circle cx="35.0" cy="411.3" r="0.75"/><circle cx="64.8" cy="389.8" r="0.75"/><circle cx="42.7" cy="414.0" r="0.75"/><circle cx="81.6" cy="359.3" r="0.75"/><circle cx="57.8" cy="394.5" r="0.75"/><circle cx="47.7" cy="409.5" r="0.75"/><circle cx="56.9" cy="399.9" r="0.75"/><circle cx="72.8" cy="380.1" r="0.75"/><circle cx="68.2" cy="391.8" r="0.75"/><circle cx="106.8" cy="373.6" r="0.75"/><circle cx="39.4" cy="420.4" r="0.75"/><circle cx="34.6" cy="418.2" r="0.75"/><circle cx="34.4" cy="415.7" r="0.75"/><circle cx="53.7" cy="404.0" r="0.75"/><circle cx="48.0" cy="403.6" r="0.75"/><circle cx="61.9" cy="395.1" r="0.75"/><circle cx="47.0" cy="409.3" r="0.75"/><circle cx="92.4" cy="352.8" r="0.75"/><circle cx="44.4" cy="412.2" r="0.75"/><circle cx="59.2" cy="398.2" r="0.75"/><circle cx="39.3" cy="416.2" r="0.75"/><circle cx="44.1" cy="409.1" r="0.75"/><circle cx="63.8" cy="397.8" r="0.75"/><circle cx="63.0" cy="393.1" r="0.75"/><circle cx="49.9" cy="407.4" r="0.75"/><circle cx="52.4" cy="402.6" r="0.75"/><circle cx="40.2" cy="419.7" r="0.75"/><circle cx="54.6" cy="398.9" r="0.75"/><circle cx="34.6" cy="413.4" r="0.75"/><circle cx="53.0" cy="410.5" r="0.75"/><circle cx="44.0" cy="410.1" r="0.75"/><circle cx="61.7" cy="395.9" r="0.75"/><circle cx="94.2" cy="378.5" r="0.75"/><circle cx="36.6" cy="418.0" r="0.75"/><circle cx="56.9" cy="395.3" r="0.75"/><circle cx="34.8" cy="413.3" r="0.75"/><circle cx="57.4" cy="401.8" r="0.75"/><circle cx="43.0" cy="406.7" r="0.75"/><circle cx="43.8" cy="418.1" r="0.75"/><circle cx="45.7" cy="420.2" r="0.75"/><circle cx="47.6" cy="420.1" r="0.75"/><circle cx="59.1" cy="399.2" r="0.75"/><circle cx="45.7" cy="419.5" r="0.75"/><circle cx="64.7" cy="386.6" r="0.75"/><circle cx="64.0" cy="395.5" r="0.75"/><circle cx="61.8" cy="399.3" r="0.75"/><circle cx="44.8" cy="410.1" r="0.75"/><circle cx="74.3" cy="381.9" r="0.75"/><circle cx="47.8" cy="405.3" r="0.75"/><circle cx="58.3" cy="399.2" r="0.75"/><circle cx="84.0" cy="378.9" r="0.75"/><circle cx="72.2" cy="386.8" r="0.75"/><circle cx="54.0" cy="400.2" r="0.75"/><circle cx="47.2" cy="419.9" r="0.75"/><circle cx="41.8" cy="411.4" r="0.75"/><circle cx="47.8" cy="401.1" r="0.75"/><circle cx="35.8" cy="413.2" r="0.75"/><circle cx="45.8" cy="406.6" r="0.75"/><circle cx="41.2" cy="419.9" r="0.75"/><circle cx="37.1" cy="418.5" r="0.75"/><circle cx="36.1" cy="420.3" r="0.75"/><circle cx="34.8" cy="416.6" r="0.75"/><circle cx="59.4" cy="401.9" r="0.75"/><circle cx="57.1" cy="400.4" r="0.75"/><circle cx="38.8" cy="418.9" r="0.75"/><circle cx="50.9" cy="405.6" r="0.75"/><circle cx="42.0" cy="408.2" r="0.75"/><circle cx="56.1" cy="405.8" r="0.75"/><circle cx="88.0" cy="371.3" r="0.75"/><circle cx="55.7" cy="407.1" r="0.75"/><circle cx="67.7" cy="387.4" r="0.75"/><circle cx="48.1" cy="408.4" r="0.75"/><circle cx="51.3" cy="405.9" r="0.75"/><circle cx="79.3" cy="368.3" r="0.75"/><circle cx="58.2" cy="399.1" r="0.75"/><circle cx="34.5" cy="420.2" r="0.75"/><circle cx="44.2" cy="420.0" r="0.75"/><circle cx="62.5" cy="394.8" r="0.75"/><circle cx="36.8" cy="413.4" r="0.75"/><circle cx="42.9" cy="406.4" r="0.75"/><circle cx="44.9" cy="411.3" r="0.75"/><circle cx="61.2" cy="394.1" r="0.75"/><circle cx="101.9" cy="342.0" r="0.75"/><circle cx="46.2" cy="410.3" r="0.75"/><circle cx="59.6" cy="392.8" r="0.75"/><circle cx="59.8" cy="398.4" r="0.75"/><circle cx="64.8" cy="393.3" r="0.75"/><circle cx="63.2" cy="396.2" r="0.75"/><circle cx="112.4" cy="363.7" r="0.75"/><circle cx="48.8" cy="405.5" r="0.75"/><circle cx="116.2" cy="330.5" r="0.75"/><circle cx="58.8" cy="396.6" r="0.75"/><circle cx="40.7" cy="411.6" r="0.75"/><circle cx="39.8" cy="414.7" r="0.75"/><circle cx="37.3" cy="412.7" r="0.75"/><circle cx="35.0" cy="415.7" r="0.75"/><circle cx="81.0" cy="361.1" r="0.75"/><circle cx="34.4" cy="413.7" r="0.75"/><circle cx="35.8" cy="419.3" r="0.75"/><circle cx="34.5" cy="415.2" r="0.75"/><circle cx="66.0" cy="393.8" r="0.75"/><circle cx="51.8" cy="406.1" r="0.75"/><circle cx="124.9" cy="355.5" r="0.75"/><circle cx="37.3" cy="412.6" r="0.75"/><circle cx="44.2" cy="404.0" r="0.75"/><circle cx="62.2" cy="385.3" r="0.75"/><circle cx="90.8" cy="363.7" r="0.75"/><circle cx="35.0" cy="414.7" r="0.75"/><circle cx="60.6" cy="400.2" r="0.75"/><circle cx="38.4" cy="415.7" r="0.75"/><circle cx="36.5" cy="420.0" r="0.75"/><circle cx="68.7" cy="387.0" r="0.75"/><circle cx="67.8" cy="395.5" r="0.75"/><circle cx="64.1" cy="396.3" r="0.75"/><circle cx="55.6" cy="402.1" r="0.75"/><circle cx="57.5" cy="398.5" r="0.75"/><circle cx="55.2" cy="403.9" r="0.75"/><circle cx="65.3" cy="393.5" r="0.75"/><circle cx="52.2" cy="404.7" r="0.75"/><circle cx="44.9" cy="411.6" r="0.75"/><circle cx="42.8" cy="410.1" r="0.75"/><circle cx="56.7" cy="402.8" r="0.75"/><circle cx="205.4" cy="269.1" r="0.75"/><circle cx="176.2" cy="283.5" r="0.75"/><circle cx="158.7" cy="302.7" r="0.75"/><circle cx="156.1" cy="308.3" r="0.75"/><circle cx="137.6" cy="319.8" r="0.75"/><circle cx="143.4" cy="323.6" r="0.75"/></g><g fill="#e63a35"><circle cx="54.7" cy="415.4" r="0.8"/><circle cx="40.1" cy="405.0" r="0.8"/><circle cx="35.7" cy="410.4" r="0.8"/><circle cx="45.2" cy="390.9" r="0.8"/><circle cx="43.6" cy="419.9" r="0.8"/><circle cx="35.4" cy="410.3" r="0.8"/><circle cx="61.4" cy="407.9" r="0.8"/><circle cx="42.9" cy="417.6" r="0.8"/><circle cx="44.7" cy="399.4" r="0.8"/><circle cx="42.2" cy="418.6" r="0.8"/><circle cx="34.8" cy="409.5" r="0.8"/><circle cx="37.7" cy="403.4" r="0.8"/><circle cx="44.1" cy="390.4" r="0.8"/><circle cx="35.4" cy="400.8" r="0.8"/><circle cx="37.1" cy="404.5" r="0.8"/><circle cx="58.2" cy="419.7" r="0.8"/><circle cx="35.8" cy="407.4" r="0.8"/><circle cx="44.9" cy="415.3" r="0.8"/><circle cx="39.4" cy="404.3" r="0.8"/><circle cx="34.6" cy="409.3" r="0.8"/><circle cx="36.1" cy="406.1" r="0.8"/><circle cx="35.0" cy="409.8" r="0.8"/><circle cx="45.6" cy="396.4" r="0.8"/><circle cx="40.6" cy="417.6" r="0.8"/><circle cx="36.4" cy="398.1" r="0.8"/><circle cx="60.3" cy="409.6" r="0.8"/><circle cx="42.9" cy="417.3" r="0.8"/><circle cx="46.2" cy="419.5" r="0.8"/><circle cx="62.5" cy="384.6" r="0.8"/><circle cx="36.4" cy="406.3" r="0.8"/><circle cx="36.5" cy="405.0" r="0.8"/><circle cx="48.4" cy="397.1" r="0.8"/><circle cx="35.0" cy="402.0" r="0.8"/><circle cx="37.0" cy="408.4" r="0.8"/><circle cx="37.6" cy="406.1" r="0.8"/><circle cx="56.7" cy="413.1" r="0.8"/><circle cx="35.6" cy="403.5" r="0.8"/><circle cx="34.8" cy="399.8" r="0.8"/><circle cx="50.4" cy="419.6" r="0.8"/><circle cx="34.8" cy="408.5" r="0.8"/><circle cx="41.3" cy="401.9" r="0.8"/><circle cx="51.4" cy="392.9" r="0.8"/><circle cx="45.3" cy="417.6" r="0.8"/><circle cx="53.4" cy="420.3" r="0.8"/><circle cx="71.2" cy="372.0" r="0.8"/><circle cx="66.3" cy="408.1" r="0.8"/><circle cx="64.7" cy="380.4" r="0.8"/><circle cx="34.9" cy="406.9" r="0.8"/><circle cx="37.6" cy="412.4" r="0.8"/><circle cx="50.0" cy="419.0" r="0.8"/><circle cx="52.7" cy="391.3" r="0.8"/><circle cx="52.3" cy="414.9" r="0.8"/><circle cx="46.0" cy="396.7" r="0.8"/><circle cx="49.4" cy="418.5" r="0.8"/><circle cx="43.4" cy="418.7" r="0.8"/><circle cx="46.6" cy="419.7" r="0.8"/><circle cx="37.5" cy="405.8" r="0.8"/><circle cx="35.0" cy="407.0" r="0.8"/><circle cx="53.4" cy="384.4" r="0.8"/><circle cx="80.1" cy="393.3" r="0.8"/><circle cx="42.5" cy="418.1" r="0.8"/><circle cx="43.8" cy="418.1" r="0.8"/><circle cx="39.6" cy="402.3" r="0.8"/><circle cx="62.1" cy="384.7" r="0.8"/><circle cx="36.0" cy="409.1" r="0.8"/><circle cx="44.4" cy="400.7" r="0.8"/><circle cx="35.6" cy="411.4" r="0.8"/><circle cx="38.1" cy="395.2" r="0.8"/><circle cx="40.2" cy="400.4" r="0.8"/><circle cx="35.1" cy="408.2" r="0.8"/><circle cx="36.5" cy="407.6" r="0.8"/><circle cx="37.0" cy="411.2" r="0.8"/><circle cx="59.4" cy="411.5" r="0.8"/><circle cx="42.9" cy="417.9" r="0.8"/><circle cx="38.8" cy="411.2" r="0.8"/><circle cx="64.6" cy="403.9" r="0.8"/><circle cx="48.1" cy="384.8" r="0.8"/><circle cx="36.0" cy="402.1" r="0.8"/><circle cx="73.6" cy="397.1" r="0.8"/><circle cx="44.7" cy="414.2" r="0.8"/><circle cx="64.5" cy="376.7" r="0.8"/><circle cx="40.2" cy="405.6" r="0.8"/><circle cx="36.4" cy="408.3" r="0.8"/><circle cx="58.4" cy="387.6" r="0.8"/><circle cx="75.5" cy="398.3" r="0.8"/><circle cx="52.6" cy="419.8" r="0.8"/><circle cx="46.6" cy="395.4" r="0.8"/><circle cx="35.2" cy="407.1" r="0.8"/><circle cx="50.2" cy="417.5" r="0.8"/><circle cx="35.9" cy="408.8" r="0.8"/><circle cx="44.4" cy="398.7" r="0.8"/><circle cx="52.5" cy="414.6" r="0.8"/><circle cx="53.7" cy="416.1" r="0.8"/><circle cx="34.9" cy="408.9" r="0.8"/><circle cx="46.1" cy="399.2" r="0.8"/><circle cx="55.3" cy="413.9" r="0.8"/><circle cx="34.5" cy="408.6" r="0.8"/><circle cx="57.2" cy="412.3" r="0.8"/><circle cx="37.2" cy="406.7" r="0.8"/><circle cx="40.4" cy="403.3" r="0.8"/><circle cx="54.7" cy="413.6" r="0.8"/><circle cx="40.8" cy="395.7" r="0.8"/><circle cx="38.1" cy="397.5" r="0.8"/><circle cx="38.2" cy="410.3" r="0.8"/><circle cx="46.3" cy="418.5" r="0.8"/><circle cx="48.1" cy="419.2" r="0.8"/><circle cx="75.6" cy="400.0" r="0.8"/><circle cx="42.6" cy="399.1" r="0.8"/><circle cx="64.2" cy="377.2" r="0.8"/><circle cx="97.1" cy="387.0" r="0.8"/><circle cx="37.9" cy="410.5" r="0.8"/><circle cx="49.1" cy="417.1" r="0.8"/><circle cx="38.5" cy="405.7" r="0.8"/><circle cx="53.5" cy="417.8" r="0.8"/><circle cx="37.3" cy="412.2" r="0.8"/><circle cx="38.6" cy="408.7" r="0.8"/><circle cx="60.9" cy="414.8" r="0.8"/><circle cx="43.0" cy="387.7" r="0.8"/><circle cx="48.9" cy="393.8" r="0.8"/><circle cx="35.7" cy="410.6" r="0.8"/><circle cx="38.4" cy="406.4" r="0.8"/><circle cx="34.5" cy="407.6" r="0.8"/><circle cx="46.2" cy="418.7" r="0.8"/><circle cx="35.9" cy="402.8" r="0.8"/><circle cx="43.0" cy="418.7" r="0.8"/><circle cx="55.2" cy="413.0" r="0.8"/><circle cx="37.5" cy="397.9" r="0.8"/><circle cx="36.8" cy="412.4" r="0.8"/><circle cx="55.2" cy="417.7" r="0.8"/><circle cx="57.7" cy="414.0" r="0.8"/><circle cx="45.3" cy="415.6" r="0.8"/><circle cx="43.6" cy="419.0" r="0.8"/><circle cx="37.8" cy="408.4" r="0.8"/><circle cx="59.3" cy="380.9" r="0.8"/><circle cx="34.5" cy="406.4" r="0.8"/><circle cx="56.5" cy="412.6" r="0.8"/><circle cx="40.6" cy="404.3" r="0.8"/><circle cx="37.7" cy="401.1" r="0.8"/><circle cx="37.1" cy="404.1" r="0.8"/><circle cx="54.6" cy="387.3" r="0.8"/><circle cx="66.0" cy="380.2" r="0.8"/><circle cx="36.6" cy="405.4" r="0.8"/><circle cx="39.0" cy="405.6" r="0.8"/><circle cx="35.1" cy="405.9" r="0.8"/><circle cx="35.2" cy="411.0" r="0.8"/><circle cx="51.1" cy="420.4" r="0.8"/><circle cx="66.1" cy="404.4" r="0.8"/><circle cx="46.3" cy="397.7" r="0.8"/><circle cx="52.0" cy="382.3" r="0.8"/><circle cx="36.1" cy="410.9" r="0.8"/><circle cx="65.9" cy="378.1" r="0.8"/><circle cx="59.8" cy="383.5" r="0.8"/><circle cx="35.1" cy="404.1" r="0.8"/><circle cx="56.1" cy="415.2" r="0.8"/><circle cx="41.8" cy="412.3" r="0.8"/><circle cx="49.0" cy="390.3" r="0.8"/><circle cx="53.5" cy="420.3" r="0.8"/><circle cx="54.6" cy="387.1" r="0.8"/><circle cx="41.9" cy="400.2" r="0.8"/><circle cx="42.1" cy="400.6" r="0.8"/><circle cx="61.0" cy="412.8" r="0.8"/><circle cx="45.6" cy="417.6" r="0.8"/><circle cx="36.1" cy="402.3" r="0.8"/><circle cx="41.5" cy="401.2" r="0.8"/><circle cx="38.8" cy="410.8" r="0.8"/><circle cx="47.9" cy="396.2" r="0.8"/><circle cx="44.6" cy="400.3" r="0.8"/><circle cx="34.7" cy="408.8" r="0.8"/><circle cx="46.0" cy="418.9" r="0.8"/><circle cx="87.4" cy="388.3" r="0.8"/><circle cx="34.4" cy="407.5" r="0.8"/><circle cx="39.3" cy="398.3" r="0.8"/><circle cx="49.2" cy="419.0" r="0.8"/><circle cx="48.3" cy="397.2" r="0.8"/><circle cx="38.1" cy="410.0" r="0.8"/><circle cx="65.3" cy="403.7" r="0.8"/><circle cx="38.6" cy="403.7" r="0.8"/><circle cx="37.4" cy="405.2" r="0.8"/><circle cx="36.6" cy="406.9" r="0.8"/><circle cx="52.3" cy="418.1" r="0.8"/><circle cx="37.1" cy="412.2" r="0.8"/><circle cx="52.5" cy="418.2" r="0.8"/><circle cx="39.6" cy="399.2" r="0.8"/><circle cx="53.3" cy="413.4" r="0.8"/><circle cx="43.3" cy="398.0" r="0.8"/><circle cx="37.6" cy="398.1" r="0.8"/><circle cx="64.6" cy="412.2" r="0.8"/><circle cx="36.2" cy="406.9" r="0.8"/><circle cx="37.1" cy="407.1" r="0.8"/><circle cx="48.3" cy="395.4" r="0.8"/><circle cx="44.4" cy="416.4" r="0.8"/><circle cx="43.3" cy="419.8" r="0.8"/><circle cx="56.5" cy="417.8" r="0.8"/><circle cx="39.7" cy="399.4" r="0.8"/><circle cx="42.5" cy="397.4" r="0.8"/><circle cx="46.8" cy="419.7" r="0.8"/><circle cx="35.5" cy="407.6" r="0.8"/><circle cx="42.1" cy="402.4" r="0.8"/><circle cx="38.7" cy="403.4" r="0.8"/><circle cx="47.7" cy="418.8" r="0.8"/><circle cx="51.8" cy="394.3" r="0.8"/><circle cx="56.9" cy="377.0" r="0.8"/><circle cx="45.5" cy="416.1" r="0.8"/><circle cx="43.8" cy="393.5" r="0.8"/><circle cx="38.7" cy="405.3" r="0.8"/><circle cx="40.0" cy="402.9" r="0.8"/><circle cx="37.5" cy="412.5" r="0.8"/><circle cx="37.6" cy="404.7" r="0.8"/><circle cx="76.6" cy="399.7" r="0.8"/><circle cx="39.4" cy="397.1" r="0.8"/><circle cx="37.8" cy="410.9" r="0.8"/><circle cx="79.9" cy="397.4" r="0.8"/><circle cx="37.5" cy="412.5" r="0.8"/><circle cx="76.9" cy="403.4" r="0.8"/><circle cx="36.5" cy="396.8" r="0.8"/><circle cx="53.3" cy="417.4" r="0.8"/><circle cx="37.1" cy="412.7" r="0.8"/><circle cx="44.7" cy="415.6" r="0.8"/><circle cx="48.8" cy="393.4" r="0.8"/><circle cx="53.5" cy="390.6" r="0.8"/><circle cx="37.0" cy="411.8" r="0.8"/><circle cx="95.3" cy="384.9" r="0.8"/><circle cx="53.7" cy="418.2" r="0.8"/><circle cx="68.1" cy="377.7" r="0.8"/><circle cx="35.7" cy="406.5" r="0.8"/><circle cx="40.7" cy="409.5" r="0.8"/><circle cx="42.6" cy="418.6" r="0.8"/><circle cx="35.8" cy="406.3" r="0.8"/><circle cx="41.9" cy="417.5" r="0.8"/><circle cx="52.8" cy="418.6" r="0.8"/><circle cx="54.1" cy="419.6" r="0.8"/><circle cx="44.9" cy="420.0" r="0.8"/><circle cx="40.6" cy="400.2" r="0.8"/><circle cx="36.8" cy="405.1" r="0.8"/><circle cx="55.6" cy="413.6" r="0.8"/><circle cx="50.2" cy="417.8" r="0.8"/><circle cx="40.0" cy="410.3" r="0.8"/><circle cx="74.1" cy="399.9" r="0.8"/><circle cx="45.7" cy="394.6" r="0.8"/><circle cx="55.4" cy="415.5" r="0.8"/><circle cx="37.6" cy="411.1" r="0.8"/><circle cx="45.4" cy="418.5" r="0.8"/><circle cx="36.7" cy="408.2" r="0.8"/><circle cx="88.9" cy="387.0" r="0.8"/><circle cx="95.1" cy="392.4" r="0.8"/><circle cx="53.5" cy="417.6" r="0.8"/><circle cx="43.1" cy="419.5" r="0.8"/><circle cx="47.5" cy="419.5" r="0.8"/><circle cx="58.0" cy="413.6" r="0.8"/><circle cx="35.3" cy="408.2" r="0.8"/><circle cx="48.2" cy="418.8" r="0.8"/><circle cx="37.7" cy="405.9" r="0.8"/><circle cx="44.1" cy="397.6" r="0.8"/><circle cx="36.2" cy="411.7" r="0.8"/><circle cx="47.6" cy="420.3" r="0.8"/><circle cx="43.1" cy="392.3" r="0.8"/><circle cx="35.5" cy="406.2" r="0.8"/><circle cx="72.8" cy="372.8" r="0.8"/><circle cx="35.3" cy="409.6" r="0.8"/><circle cx="46.6" cy="391.8" r="0.8"/><circle cx="42.2" cy="415.7" r="0.8"/><circle cx="40.3" cy="409.6" r="0.8"/><circle cx="41.2" cy="418.4" r="0.8"/><circle cx="36.6" cy="402.4" r="0.8"/><circle cx="37.6" cy="405.8" r="0.8"/><circle cx="43.2" cy="417.7" r="0.8"/><circle cx="37.4" cy="409.8" r="0.8"/><circle cx="69.8" cy="400.9" r="0.8"/><circle cx="39.7" cy="398.6" r="0.8"/><circle cx="38.2" cy="405.1" r="0.8"/><circle cx="57.8" cy="410.0" r="0.8"/><circle cx="36.7" cy="412.0" r="0.8"/><circle cx="71.9" cy="398.8" r="0.8"/><circle cx="35.8" cy="403.9" r="0.8"/><circle cx="49.1" cy="417.0" r="0.8"/><circle cx="47.2" cy="419.5" r="0.8"/><circle cx="44.0" cy="417.7" r="0.8"/><circle cx="42.5" cy="418.1" r="0.8"/><circle cx="71.8" cy="400.9" r="0.8"/><circle cx="37.6" cy="404.4" r="0.8"/><circle cx="79.7" cy="399.6" r="0.8"/><circle cx="36.4" cy="402.4" r="0.8"/><circle cx="181.2" cy="256.8" r="0.8"/><circle cx="155.2" cy="284.2" r="0.8"/><circle cx="169.0" cy="312.6" r="0.8"/><circle cx="153.0" cy="325.2" r="0.8"/><circle cx="123.5" cy="308.0" r="0.8"/><circle cx="130.6" cy="317.3" r="0.8"/><circle cx="106.0" cy="322.2" r="0.8"/><circle cx="110.3" cy="320.5" r="0.8"/><circle cx="113.5" cy="324.8" r="0.8"/><circle cx="115.6" cy="323.7" r="0.8"/><circle cx="141.3" cy="335.0" r="0.8"/><circle cx="133.8" cy="340.8" r="0.8"/><circle cx="138.0" cy="344.0" r="0.8"/><circle cx="148.8" cy="341.5" r="0.8"/><circle cx="130.6" cy="344.0" r="0.8"/><circle cx="122.0" cy="345.0" r="0.8"/><circle cx="78.1" cy="306.6" r="0.8"/><circle cx="59.3" cy="309.3" r="0.8"/><circle cx="54.2" cy="312.7" r="0.8"/><circle cx="57.6" cy="316.5" r="0.8"/><circle cx="73.5" cy="329.3" r="0.8"/><circle cx="87.5" cy="339.6" r="0.8"/><circle cx="91.8" cy="336.2" r="0.8"/><circle cx="101.2" cy="334.8" r="0.8"/><circle cx="105.5" cy="322.5" r="0.8"/><circle cx="91.8" cy="345.6" r="0.8"/><circle cx="82.4" cy="346.4" r="0.8"/><circle cx="79.8" cy="345.6" r="0.8"/><circle cx="73.9" cy="346.4" r="0.8"/><circle cx="76.4" cy="348.0" r="0.8"/><circle cx="85.8" cy="351.5" r="0.8"/><circle cx="67.9" cy="349.0" r="0.8"/><circle cx="68.7" cy="355.8" r="0.8"/><circle cx="75.6" cy="357.5" r="0.8"/><circle cx="44.8" cy="359.7" r="0.8"/><circle cx="48.2" cy="359.7" r="0.8"/><circle cx="60.2" cy="363.5" r="0.8"/><circle cx="63.6" cy="364.4" r="0.8"/><circle cx="66.2" cy="363.8" r="0.8"/><circle cx="73.9" cy="364.9" r="0.8"/><circle cx="76.4" cy="363.2" r="0.8"/><circle cx="69.6" cy="367.8" r="0.8"/><circle cx="61.9" cy="368.6" r="0.8"/><circle cx="51.6" cy="368.6" r="0.8"/><circle cx="141.0" cy="334.8" r="0.8"/><circle cx="148.7" cy="341.6" r="0.8"/><circle cx="135.0" cy="340.3" r="0.8"/><circle cx="138.5" cy="344.5" r="0.8"/><circle cx="133.3" cy="343.7" r="0.8"/><circle cx="131.6" cy="345.4" r="0.8"/><circle cx="130.8" cy="349.7" r="0.8"/><circle cx="126.5" cy="350.5" r="0.8"/><circle cx="124.8" cy="351.4" r="0.8"/><circle cx="127.4" cy="355.6" r="0.8"/><circle cx="121.4" cy="356.5" r="0.8"/><circle cx="119.7" cy="357.4" r="0.8"/><circle cx="118.0" cy="358.2" r="0.8"/><circle cx="115.4" cy="360.8" r="0.8"/><circle cx="118.0" cy="365.9" r="0.8"/><circle cx="137.6" cy="365.9" r="0.8"/><circle cx="147.9" cy="367.3" r="0.8"/><circle cx="122.2" cy="370.2" r="0.8"/><circle cx="121.4" cy="371.9" r="0.8"/><circle cx="128.2" cy="371.4" r="0.8"/><circle cx="130.8" cy="370.7" r="0.8"/><circle cx="141.9" cy="369.7" r="0.8"/><circle cx="105.1" cy="376.2" r="0.8"/><circle cx="115.7" cy="378.7" r="0.8"/><circle cx="125.3" cy="379.9" r="0.8"/><circle cx="117.1" cy="383.0" r="0.8"/><circle cx="125.6" cy="387.3" r="0.8"/><circle cx="101.7" cy="388.5" r="0.8"/><circle cx="123.9" cy="403.5" r="0.8"/><circle cx="126.5" cy="402.6" r="0.8"/><circle cx="96.0" cy="372.0" r="0.8"/><circle cx="90.0" cy="380.0" r="0.8"/><circle cx="86.0" cy="386.0" r="0.8"/><circle cx="95.0" cy="392.0" r="0.8"/><circle cx="99.0" cy="398.0" r="0.8"/><circle cx="92.0" cy="402.0" r="0.8"/><circle cx="82.0" cy="398.0" r="0.8"/><circle cx="108.0" cy="355.0" r="0.8"/><circle cx="100.0" cy="350.0" r="0.8"/></g><g stroke="#333" stroke-width="0.6"><line x1="85.8" y1="334.8" x2="88.4" y2="339.6"/><line x1="34.6" y1="399" x2="34.6" y2="412"/><line x1="44" y1="384" x2="46" y2="380"/><line x1="42" y1="396" x2="46" y2="402"/><line x1="70" y1="397" x2="76" y2="393"/><line x1="70" y1="402" x2="76" y2="399"/><line x1="68" y1="408" x2="74" y2="404"/><line x1="61" y1="410" x2="64" y2="406"/><line x1="55" y1="420" x2="52" y2="417"/></g><g font-size="5.7" fill="#333"><text x="146.2" y="290.4">CD74</text><text x="127.0" y="314.8">HLA−DRA</text><text x="143.0" y="338.9">NFKBIA</text><text x="92.0" y="316.6">HLA−DRB1</text><text x="78.3" y="303.3">APOE</text><text x="59.0" y="307.2">C1QC</text><text x="42.4" y="310.3">C1QB</text><text x="57.0" y="321.3">C1QA</text><text x="62.9" y="326.4">APOC1</text><text x="74.4" y="333.4">HLA−DRB5</text><text x="56.0" y="343.4">HLA−DQA1</text><text x="90.4" y="341.8">HLA−DPB1</text><text x="56.0" y="352.1">HLA−DQB1</text><text x="56.0" y="359.4">HLA−DMA</text><text x="32.9" y="355.1">MARCO</text><text x="37.4" y="367.2">CD163</text><text x="53.9" y="373.9">CXCL16</text><text x="31.4" y="382.8">HLA−DMB</text><text x="41.0" y="388.2">FOLR2</text><text x="31.0" y="393.5">CXCL9</text><text x="73.7" y="397.8">TGFBI</text><text x="74.6" y="403.6">TNF</text><text x="74.6" y="408.4">TNFAIP6</text><text x="99.8" y="404.9">EREG</text><text x="28.0" y="414.3" textLength="15.3" lengthAdjust="spacingAndGlyphs" font-size="6.0">LYVE1</text><text x="52.4" y="413.2">ICAM1</text><text x="66.7" y="413.4">VEGFA</text><text x="63.0" y="419.2">CCL5</text><text x="45.3" y="424.7">CXCL11</text><text x="107.7" y="365.9">CXCL8</text><text x="128.7" y="364.0">CCL3</text><text x="146.0" y="365.9">IL1B</text><text x="135.5" y="374.9">CCL4</text><text x="109.6" y="383.1">SPP1</text><text x="128.2" y="384.4">S100A8</text><text x="115.0" y="391.9">S100A4</text></g>
<rect x="309.20" y="242.50" width="8.80" height="8.30" fill="#529e8c" />
<text x="323.00" y="248.80" font-size="8.3" text-anchor="start" fill="#333" font-weight="normal" textLength="17" lengthAdjust="spacingAndGlyphs" >M07</text>
<rect x="349.00" y="242.50" width="8.80" height="8.30" fill="#5ab3ce" />
<text x="362.40" y="248.80" font-size="8.3" text-anchor="start" fill="#333" font-weight="normal" textLength="15.8" lengthAdjust="spacingAndGlyphs" >M10</text>
<rect x="356.10" y="254.90" width="61.80" height="5.30" fill="#529e8c" />
<text x="353.20" y="259.80" font-size="6.3" text-anchor="end" fill="#383838" font-weight="normal" >Response to tumor necrosis factor</text>
<rect x="356.10" y="261.29" width="58.40" height="5.30" fill="#529e8c" />
<text x="353.20" y="266.19" font-size="6.3" text-anchor="end" fill="#383838" font-weight="normal" >Cell chemotaxis</text>
<rect x="356.10" y="267.68" width="51.90" height="5.30" fill="#529e8c" />
<text x="353.20" y="272.58" font-size="6.3" text-anchor="end" fill="#383838" font-weight="normal" >Response to IL-1</text>
<rect x="356.10" y="274.07" width="36.80" height="5.30" fill="#529e8c" />
<text x="353.20" y="278.97" font-size="6.3" text-anchor="end" fill="#383838" font-weight="normal" >Regulation of apoptotic signaling pathway</text>
<rect x="356.10" y="280.46" width="36.80" height="5.30" fill="#529e8c" />
<text x="353.20" y="285.36" font-size="6.3" text-anchor="end" fill="#383838" font-weight="normal" >Regulation of inflammatory response</text>
<rect x="356.10" y="286.85" width="31.10" height="5.30" fill="#529e8c" />
<text x="353.20" y="291.75" font-size="6.3" text-anchor="end" fill="#383838" font-weight="normal" >I-κB kinase/NF-κB signaling</text>
<rect x="356.10" y="293.24" width="28.00" height="5.30" fill="#529e8c" />
<text x="353.20" y="298.14" font-size="6.3" text-anchor="end" fill="#383838" font-weight="normal" >Cytokine secretion</text>
<rect x="356.10" y="299.63" width="22.40" height="5.30" fill="#529e8c" />
<text x="353.20" y="304.53" font-size="6.3" text-anchor="end" fill="#383838" font-weight="normal" >Regulation of cell-cell adhesion</text>
<rect x="356.10" y="306.02" width="19.40" height="5.30" fill="#529e8c" />
<text x="353.20" y="310.92" font-size="6.3" text-anchor="end" fill="#383838" font-weight="normal" >Regulation of angiogenesis</text>
<rect x="356.10" y="312.41" width="18.90" height="5.30" fill="#529e8c" />
<text x="353.20" y="317.31" font-size="6.3" text-anchor="end" fill="#383838" font-weight="normal" >Neutrophil activation</text>
<rect x="356.10" y="318.80" width="17.30" height="5.30" fill="#529e8c" />
<text x="353.20" y="323.70" font-size="6.3" text-anchor="end" fill="#383838" font-weight="normal" >Epithelial cell proliferation</text>
<rect x="356.10" y="325.19" width="16.80" height="5.30" fill="#529e8c" />
<text x="353.20" y="330.09" font-size="6.3" text-anchor="end" fill="#383838" font-weight="normal" >Regulation of innate immune response</text>
<rect x="356.10" y="331.58" width="15.70" height="5.30" fill="#529e8c" />
<text x="353.20" y="336.48" font-size="6.3" text-anchor="end" fill="#383838" font-weight="normal" >Negative regulation of immune process</text>
<rect x="356.10" y="337.97" width="14.80" height="5.30" fill="#529e8c" />
<text x="353.20" y="342.87" font-size="6.3" text-anchor="end" fill="#383838" font-weight="normal" >Regulation of lymphocyte activation</text>
<rect x="267.70" y="345.20" width="88.10" height="5.30" fill="#5ab3ce" />
<text x="358.20" y="350.10" font-size="6.3" text-anchor="start" fill="#383838" font-weight="normal" >Complement activation</text>
<rect x="269.70" y="351.58" width="86.10" height="5.30" fill="#5ab3ce" />
<text x="358.20" y="356.48" font-size="6.3" text-anchor="start" fill="#383838" font-weight="normal" >Antigen processing and presentation</text>
<rect x="274.00" y="357.96" width="81.80" height="5.30" fill="#5ab3ce" />
<text x="358.20" y="362.86" font-size="6.3" text-anchor="start" fill="#383838" font-weight="normal" >Regulation of immune effector process</text>
<rect x="276.30" y="364.34" width="79.50" height="5.30" fill="#5ab3ce" />
<text x="358.20" y="369.24" font-size="6.3" text-anchor="start" fill="#383838" font-weight="normal" >Regulation of inflammatory response</text>
<rect x="298.70" y="370.72" width="57.10" height="5.30" fill="#5ab3ce" />
<text x="358.20" y="375.62" font-size="6.3" text-anchor="start" fill="#383838" font-weight="normal" >Response to IFN-γ</text>
<rect x="300.40" y="377.10" width="55.40" height="5.30" fill="#5ab3ce" />
<text x="358.20" y="382.00" font-size="6.3" text-anchor="start" fill="#383838" font-weight="normal" >Receptor-mediated endocytosis</text>
<rect x="322.90" y="383.48" width="32.90" height="5.30" fill="#5ab3ce" />
<text x="358.20" y="388.38" font-size="6.3" text-anchor="start" fill="#383838" font-weight="normal" >Neutrophil activation</text>
<rect x="326.30" y="389.86" width="29.50" height="5.30" fill="#5ab3ce" />
<text x="358.20" y="394.76" font-size="6.3" text-anchor="start" fill="#383838" font-weight="normal" >Regulation of innate immune response</text>
<rect x="341.60" y="396.24" width="14.20" height="5.30" fill="#5ab3ce" />
<text x="358.20" y="401.14" font-size="6.3" text-anchor="start" fill="#383838" font-weight="normal" >Regulation of lymphocyte activation</text>
<rect x="342.20" y="402.62" width="13.60" height="5.30" fill="#5ab3ce" />
<text x="358.20" y="407.52" font-size="6.3" text-anchor="start" fill="#383838" font-weight="normal" >Activation of innate immune response</text>
<rect x="342.80" y="409.00" width="13.00" height="5.30" fill="#5ab3ce" />
<text x="358.20" y="413.90" font-size="6.3" text-anchor="start" fill="#383838" font-weight="normal" >Negative regulation of defense response</text>
<rect x="344.20" y="415.38" width="11.60" height="5.30" fill="#5ab3ce" />
<text x="358.20" y="420.28" font-size="6.3" text-anchor="start" fill="#383838" font-weight="normal" >Regulation of endocytosis</text>
<rect x="345.30" y="421.76" width="10.50" height="5.30" fill="#5ab3ce" />
<text x="358.20" y="426.66" font-size="6.3" text-anchor="start" fill="#383838" font-weight="normal" >Response to tumor necrosis factor</text>
<line x1="249.30" y1="428.30" x2="449.60" y2="428.30" stroke="#888" stroke-width="1" />
<line x1="270.60" y1="428.30" x2="270.60" y2="431.00" stroke="#888" stroke-width="1" />
<text x="270.60" y="439.80" font-size="7.4" text-anchor="middle" fill="#4a4a4a" font-weight="normal" >−12</text>
<line x1="291.90" y1="428.30" x2="291.90" y2="431.00" stroke="#888" stroke-width="1" />
<text x="291.90" y="439.80" font-size="7.4" text-anchor="middle" fill="#4a4a4a" font-weight="normal" >−9</text>
<line x1="313.20" y1="428.30" x2="313.20" y2="431.00" stroke="#888" stroke-width="1" />
<text x="313.20" y="439.80" font-size="7.4" text-anchor="middle" fill="#4a4a4a" font-weight="normal" >−6</text>
<line x1="334.50" y1="428.30" x2="334.50" y2="431.00" stroke="#888" stroke-width="1" />
<text x="334.50" y="439.80" font-size="7.4" text-anchor="middle" fill="#4a4a4a" font-weight="normal" >−3</text>
<line x1="355.80" y1="428.30" x2="355.80" y2="431.00" stroke="#888" stroke-width="1" />
<text x="355.80" y="439.80" font-size="7.4" text-anchor="middle" fill="#4a4a4a" font-weight="normal" >0</text>
<line x1="377.10" y1="428.30" x2="377.10" y2="431.00" stroke="#888" stroke-width="1" />
<text x="377.10" y="439.80" font-size="7.4" text-anchor="middle" fill="#4a4a4a" font-weight="normal" >3</text>
<line x1="398.40" y1="428.30" x2="398.40" y2="431.00" stroke="#888" stroke-width="1" />
<text x="398.40" y="439.80" font-size="7.4" text-anchor="middle" fill="#4a4a4a" font-weight="normal" >6</text>
<line x1="419.70" y1="428.30" x2="419.70" y2="431.00" stroke="#888" stroke-width="1" />
<text x="419.70" y="439.80" font-size="7.4" text-anchor="middle" fill="#4a4a4a" font-weight="normal" >9</text>
<line x1="441.00" y1="428.30" x2="441.00" y2="431.00" stroke="#888" stroke-width="1" />
<text x="441.00" y="439.80" font-size="7.4" text-anchor="middle" fill="#4a4a4a" font-weight="normal" >12</text>
<text x="302.4" y="453.6" font-size="8.6" fill="#333">−log<tspan font-size="5.6" dy="2">10</tspan><tspan dy="-2">(adjusted </tspan><tspan font-style="italic">P</tspan> value)</text>
<rect x="530.90" y="255.90" width="41.10" height="21.35" fill="#ecb59c" />
<rect x="572.00" y="255.90" width="41.10" height="21.35" fill="#f0d6c8" />
<rect x="613.10" y="255.90" width="41.10" height="21.35" fill="#e69d80" />
<rect x="530.90" y="277.25" width="41.10" height="21.35" fill="#eebba3" />
<rect x="572.00" y="277.25" width="41.10" height="21.35" fill="#eba78c" />
<rect x="613.10" y="277.25" width="41.10" height="21.35" fill="#e8a68c" />
<rect x="530.90" y="298.60" width="41.10" height="21.35" fill="#cd5a4d" />
<rect x="572.00" y="298.60" width="41.10" height="21.35" fill="#d8735e" />
<rect x="613.10" y="298.60" width="41.10" height="21.35" fill="#c9504a" />
<rect x="530.90" y="319.95" width="41.10" height="21.35" fill="#eaa88e" />
<rect x="572.00" y="319.95" width="41.10" height="21.35" fill="#d6725f" />
<rect x="613.10" y="319.95" width="41.10" height="21.35" fill="#f2d4c5" />
<rect x="530.90" y="341.30" width="41.10" height="21.35" fill="#aed0e3" />
<rect x="572.00" y="341.30" width="41.10" height="21.35" fill="#b9d7e6" />
<rect x="613.10" y="341.30" width="41.10" height="21.35" fill="#8ec0da" />
<rect x="530.90" y="362.65" width="41.10" height="21.35" fill="#b2d3e4" />
<rect x="572.00" y="362.65" width="41.10" height="21.35" fill="#8ec0da" />
<rect x="613.10" y="362.65" width="41.10" height="21.35" fill="#8abeda" />
<rect x="530.90" y="384.00" width="41.10" height="21.35" fill="#1a67a8" />
<rect x="572.00" y="384.00" width="41.10" height="21.35" fill="#c8dbe5" />
<rect x="613.10" y="384.00" width="41.10" height="21.35" fill="#2c7cb8" />
<rect x="530.90" y="405.35" width="41.10" height="21.35" fill="#d6dce1" />
<rect x="572.00" y="405.35" width="41.10" height="21.35" fill="#1a66a5" />
<rect x="613.10" y="405.35" width="41.10" height="21.35" fill="#bdd8e7" />
<line x1="572.00" y1="255.90" x2="572.00" y2="426.70" stroke="#fff" stroke-width="0.8" />
<line x1="613.10" y1="255.90" x2="613.10" y2="426.70" stroke="#fff" stroke-width="0.8" />
<line x1="530.90" y1="277.25" x2="654.20" y2="277.25" stroke="#fff" stroke-width="0.8" />
<line x1="530.90" y1="298.60" x2="654.20" y2="298.60" stroke="#fff" stroke-width="0.8" />
<line x1="530.90" y1="319.95" x2="654.20" y2="319.95" stroke="#fff" stroke-width="0.8" />
<line x1="530.90" y1="341.30" x2="654.20" y2="341.30" stroke="#fff" stroke-width="0.8" />
<line x1="530.90" y1="362.65" x2="654.20" y2="362.65" stroke="#fff" stroke-width="0.8" />
<line x1="530.90" y1="384.00" x2="654.20" y2="384.00" stroke="#fff" stroke-width="0.8" />
<line x1="530.90" y1="405.35" x2="654.20" y2="405.35" stroke="#fff" stroke-width="0.8" />
<text x="527.00" y="269.07" font-size="8.5" text-anchor="end" fill="#333" font-weight="normal" textLength="29.8" lengthAdjust="spacingAndGlyphs" >AeEM−1</text>
<line x1="528.30" y1="266.57" x2="530.60" y2="266.57" stroke="#ccc" stroke-width="0.6" />
<text x="527.00" y="290.43" font-size="8.5" text-anchor="end" fill="#333" font-weight="normal" textLength="31.7" lengthAdjust="spacingAndGlyphs" >AeEM−2</text>
<line x1="528.30" y1="287.93" x2="530.60" y2="287.93" stroke="#ccc" stroke-width="0.6" />
<text x="527.00" y="311.77" font-size="8.5" text-anchor="end" fill="#333" font-weight="normal" textLength="32.0" lengthAdjust="spacingAndGlyphs" >AeEM−3</text>
<line x1="528.30" y1="309.27" x2="530.60" y2="309.27" stroke="#ccc" stroke-width="0.6" />
<text x="527.00" y="333.12" font-size="8.5" text-anchor="end" fill="#333" font-weight="normal" textLength="32.2" lengthAdjust="spacingAndGlyphs" >AeEM−4</text>
<line x1="528.30" y1="330.62" x2="530.60" y2="330.62" stroke="#ccc" stroke-width="0.6" />
<text x="527.00" y="354.48" font-size="8.5" text-anchor="end" fill="#333" font-weight="normal" textLength="32.7" lengthAdjust="spacingAndGlyphs" >AeMM−1</text>
<line x1="528.30" y1="351.98" x2="530.60" y2="351.98" stroke="#ccc" stroke-width="0.6" />
<text x="527.00" y="375.82" font-size="8.5" text-anchor="end" fill="#333" font-weight="normal" textLength="34.1" lengthAdjust="spacingAndGlyphs" >AeMM−2</text>
<line x1="528.30" y1="373.32" x2="530.60" y2="373.32" stroke="#ccc" stroke-width="0.6" />
<text x="527.00" y="397.17" font-size="8.5" text-anchor="end" fill="#333" font-weight="normal" textLength="34.6" lengthAdjust="spacingAndGlyphs" >AeMM−3</text>
<line x1="528.30" y1="394.67" x2="530.60" y2="394.67" stroke="#ccc" stroke-width="0.6" />
<text x="527.00" y="418.52" font-size="8.5" text-anchor="end" fill="#333" font-weight="normal" textLength="34.6" lengthAdjust="spacingAndGlyphs" >AeMM−4</text>
<line x1="528.30" y1="416.02" x2="530.60" y2="416.02" stroke="#ccc" stroke-width="0.6" />
<text transform="translate(554.65,431.5) rotate(-90)" font-size="9.4" text-anchor="end" fill="#333" textLength="24.5" lengthAdjust="spacingAndGlyphs">Timd4</text>
<text transform="translate(595.75,431.5) rotate(-90)" font-size="9.4" text-anchor="end" fill="#333" textLength="24.5" lengthAdjust="spacingAndGlyphs">Cd163</text>
<text transform="translate(636.85,431.5) rotate(-90)" font-size="9.4" text-anchor="end" fill="#333" textLength="19.6" lengthAdjust="spacingAndGlyphs">Folr2</text>
<rect x="657.4" y="255.4" width="8.4" height="170.4" rx="1.2" fill="url(#rdbu)"/>
<line x1="665.80" y1="257.00" x2="668.20" y2="257.00" stroke="#aaa" stroke-width="0.6" />
<line x1="657.40" y1="257.00" x2="658.90" y2="257.00" stroke="#fff" stroke-width="0.6" opacity="0.7"/>
<line x1="664.30" y1="257.00" x2="665.80" y2="257.00" stroke="#fff" stroke-width="0.6" opacity="0.7"/>
<text x="670.00" y="259.60" font-size="7.4" text-anchor="start" fill="#444" font-weight="normal" textLength="9.0" lengthAdjust="spacingAndGlyphs" >1.6</text>
<line x1="665.80" y1="298.60" x2="668.20" y2="298.60" stroke="#aaa" stroke-width="0.6" />
<line x1="657.40" y1="298.60" x2="658.90" y2="298.60" stroke="#fff" stroke-width="0.6" opacity="0.7"/>
<line x1="664.30" y1="298.60" x2="665.80" y2="298.60" stroke="#fff" stroke-width="0.6" opacity="0.7"/>
<text x="670.00" y="301.20" font-size="7.4" text-anchor="start" fill="#444" font-weight="normal" textLength="11.4" lengthAdjust="spacingAndGlyphs" >0.8</text>
<line x1="665.80" y1="340.30" x2="668.20" y2="340.30" stroke="#aaa" stroke-width="0.6" />
<line x1="657.40" y1="340.30" x2="658.90" y2="340.30" stroke="#fff" stroke-width="0.6" opacity="0.7"/>
<line x1="664.30" y1="340.30" x2="665.80" y2="340.30" stroke="#fff" stroke-width="0.6" opacity="0.7"/>
<text x="670.00" y="342.90" font-size="7.4" text-anchor="start" fill="#444" font-weight="normal" textLength="4.5" lengthAdjust="spacingAndGlyphs" >0</text>
<line x1="665.80" y1="381.90" x2="668.20" y2="381.90" stroke="#aaa" stroke-width="0.6" />
<line x1="657.40" y1="381.90" x2="658.90" y2="381.90" stroke="#fff" stroke-width="0.6" opacity="0.7"/>
<line x1="664.30" y1="381.90" x2="665.80" y2="381.90" stroke="#fff" stroke-width="0.6" opacity="0.7"/>
<text x="670.00" y="384.50" font-size="7.4" text-anchor="start" fill="#444" font-weight="normal" textLength="15.0" lengthAdjust="spacingAndGlyphs" >−0.8</text>
<line x1="665.80" y1="423.50" x2="668.20" y2="423.50" stroke="#aaa" stroke-width="0.6" />
<line x1="657.40" y1="423.50" x2="658.90" y2="423.50" stroke="#fff" stroke-width="0.6" opacity="0.7"/>
<line x1="664.30" y1="423.50" x2="665.80" y2="423.50" stroke="#fff" stroke-width="0.6" opacity="0.7"/>
<text x="670.00" y="426.10" font-size="7.4" text-anchor="start" fill="#444" font-weight="normal" textLength="13.5" lengthAdjust="spacingAndGlyphs" >−1.6</text>
</svg>
</body></html>
